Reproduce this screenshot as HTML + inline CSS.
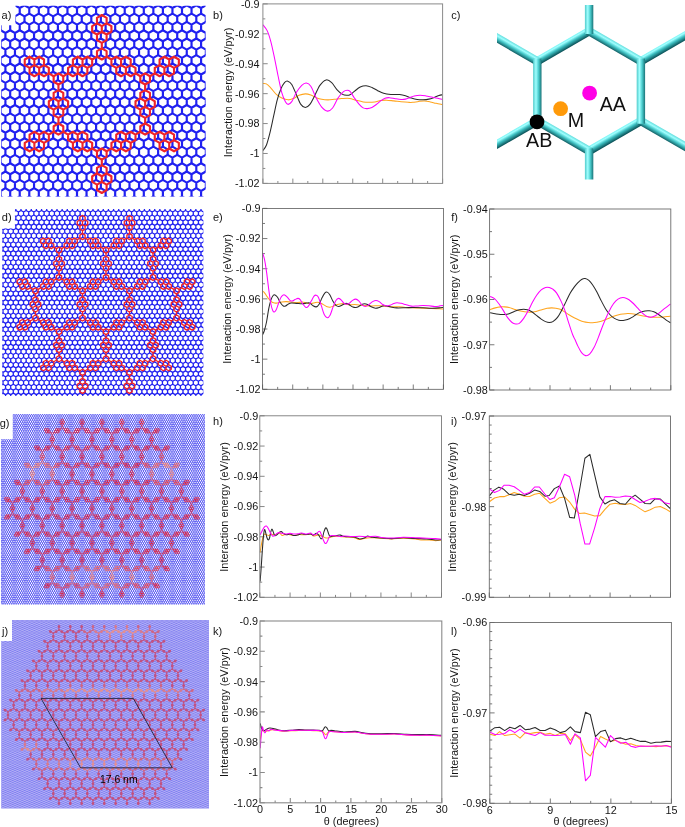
<!DOCTYPE html>
<html><head><meta charset="utf-8"><title>Figure</title>
<style>html,body{margin:0;padding:0;background:#fff}svg{display:block}</style></head>
<body><svg width="685" height="827" viewBox="0 0 685 827">
<rect width="685" height="827" fill="#fff"/>
<defs><clipPath id="cla"><path d="M15.5 5.8H205.6V196.45H1.2V25.2H15.5Z"/></clipPath><path id="ra" d="M-4.772 -2.771l4.772 -2.771l4.772 2.771l4.772 -2.771l4.772 2.771l4.772 -2.771l4.772 2.771l4.772 -2.771l4.772 2.771l4.772 -2.771l4.772 2.771l4.772 -2.771l4.772 2.771l4.772 -2.771l4.772 2.771l4.772 -2.771l4.772 2.771l4.772 -2.771l4.772 2.771l4.772 -2.771l4.772 2.771l4.772 -2.771l4.772 2.771l4.772 -2.771l4.772 2.771l4.772 -2.771l4.772 2.771l4.772 -2.771l4.772 2.771l4.772 -2.771l4.772 2.771l4.772 -2.771l4.772 2.771l4.772 -2.771l4.772 2.771l4.772 -2.771l4.772 2.771l4.772 -2.771l4.772 2.771l4.772 -2.771l4.772 2.771l4.772 -2.771l4.772 2.771l4.772 -2.771l4.772 2.771l4.772 -2.771l4.772 2.771l4.772 -2.771l4.772 2.771l4.772 -2.771l4.772 2.771M-4.772 -2.771v5.543M4.772 -2.771v5.543M14.317 -2.771v5.543M23.862 -2.771v5.543M33.407 -2.771v5.543M42.953 -2.771v5.543M52.497 -2.771v5.543M62.042 -2.771v5.543M71.588 -2.771v5.543M81.133 -2.771v5.543M90.678 -2.771v5.543M100.223 -2.771v5.543M109.767 -2.771v5.543M119.312 -2.771v5.543M128.857 -2.771v5.543M138.403 -2.771v5.543M147.947 -2.771v5.543M157.492 -2.771v5.543M167.037 -2.771v5.543M176.582 -2.771v5.543M186.127 -2.771v5.543M195.672 -2.771v5.543M205.218 -2.771v5.543M214.762 -2.771v5.543M224.307 -2.771v5.543M233.852 -2.771v5.543"/><path id="ea" d="M0 -5.56V-11.12M0 -38.92V-44.48M-9.63 -27.8L-9.63 -22.24M-9.63 -22.24L-4.82 -19.46M-4.82 -36.14L-4.82 -30.58M-4.82 -30.58L-9.63 -27.8M-4.82 -30.58L0 -27.8M-4.82 -19.46L-4.82 -13.9M-4.82 -13.9L0 -11.12M0 -38.92L-4.82 -36.14M0 -27.8L4.82 -30.58M0 -22.24L-4.82 -19.46M0 -22.24L0 -27.8M0 -11.12L4.82 -13.9M4.82 -36.14L0 -38.92M4.82 -30.58L4.82 -36.14M4.82 -19.46L0 -22.24M4.82 -19.46L9.63 -22.24M4.82 -13.9L4.82 -19.46M9.63 -27.8L4.82 -30.58M9.63 -22.24L9.63 -27.8"/><path id="oa" d="M0 -5.56V-11.12M-9.63 -27.8L-9.63 -22.24M-9.63 -22.24L-4.82 -19.46M-4.82 -36.14L-4.82 -30.58M-4.82 -30.58L-9.63 -27.8M-4.82 -30.58L0 -27.8M-4.82 -19.46L-4.82 -13.9M-4.82 -13.9L0 -11.12M0 -38.92L-4.82 -36.14M0 -27.8L4.82 -30.58M0 -22.24L-4.82 -19.46M0 -22.24L0 -27.8M0 -11.12L4.82 -13.9M4.82 -36.14L0 -38.92M4.82 -30.58L4.82 -36.14M4.82 -19.46L0 -22.24M4.82 -19.46L9.63 -22.24M4.82 -13.9L4.82 -19.46M9.63 -27.8L4.82 -30.58M9.63 -22.24L9.63 -27.8"/><path id="na" d="M4.82 -2.78L0 -5.56L-4.82 -2.78L-4.82 2.78L0 5.56L4.82 2.78Z"/><clipPath id="cld"><path d="M14.9 208.9H203.3V395.9H2.2V228.6H14.9Z"/></clipPath><path id="rd" d="M-2.571 -1.485l2.571 -1.485l2.571 1.485l2.571 -1.485l2.571 1.485l2.571 -1.485l2.571 1.485l2.571 -1.485l2.571 1.485l2.571 -1.485l2.571 1.485l2.571 -1.485l2.571 1.485l2.571 -1.485l2.571 1.485l2.571 -1.485l2.571 1.485l2.571 -1.485l2.571 1.485l2.571 -1.485l2.571 1.485l2.571 -1.485l2.571 1.485l2.571 -1.485l2.571 1.485l2.571 -1.485l2.571 1.485l2.571 -1.485l2.571 1.485l2.571 -1.485l2.571 1.485l2.571 -1.485l2.571 1.485l2.571 -1.485l2.571 1.485l2.571 -1.485l2.571 1.485l2.571 -1.485l2.571 1.485l2.571 -1.485l2.571 1.485l2.571 -1.485l2.571 1.485l2.571 -1.485l2.571 1.485l2.571 -1.485l2.571 1.485l2.571 -1.485l2.571 1.485l2.571 -1.485l2.571 1.485l2.571 -1.485l2.571 1.485l2.571 -1.485l2.571 1.485l2.571 -1.485l2.571 1.485l2.571 -1.485l2.571 1.485l2.571 -1.485l2.571 1.485l2.571 -1.485l2.571 1.485l2.571 -1.485l2.571 1.485l2.571 -1.485l2.571 1.485l2.571 -1.485l2.571 1.485l2.571 -1.485l2.571 1.485l2.571 -1.485l2.571 1.485l2.571 -1.485l2.571 1.485l2.571 -1.485l2.571 1.485l2.571 -1.485l2.571 1.485l2.571 -1.485l2.571 1.485l2.571 -1.485l2.571 1.485l2.571 -1.485l2.571 1.485l2.571 -1.485l2.571 1.485M-2.571 -1.485v2.969M2.571 -1.485v2.969M7.714 -1.485v2.969M12.857 -1.485v2.969M18 -1.485v2.969M23.143 -1.485v2.969M28.286 -1.485v2.969M33.429 -1.485v2.969M38.572 -1.485v2.969M43.715 -1.485v2.969M48.858 -1.485v2.969M54.002 -1.485v2.969M59.144 -1.485v2.969M64.287 -1.485v2.969M69.43 -1.485v2.969M74.573 -1.485v2.969M79.716 -1.485v2.969M84.859 -1.485v2.969M90.002 -1.485v2.969M95.145 -1.485v2.969M100.288 -1.485v2.969M105.431 -1.485v2.969M110.575 -1.485v2.969M115.718 -1.485v2.969M120.86 -1.485v2.969M126.003 -1.485v2.969M131.147 -1.485v2.969M136.29 -1.485v2.969M141.433 -1.485v2.969M146.576 -1.485v2.969M151.719 -1.485v2.969M156.862 -1.485v2.969M162.005 -1.485v2.969M167.148 -1.485v2.969M172.291 -1.485v2.969M177.434 -1.485v2.969M182.577 -1.485v2.969M187.72 -1.485v2.969M192.863 -1.485v2.969M198.006 -1.485v2.969M203.149 -1.485v2.969M208.292 -1.485v2.969M213.435 -1.485v2.969M218.578 -1.485v2.969"/><path id="ed" d="M0 -3.02V-6.03M0 -21.11V-24.12M-5.22 -15.07L-5.22 -12.06M-5.22 -12.06L-2.61 -10.55M-2.61 -19.6L-2.61 -16.58M-2.61 -16.58L-5.22 -15.07M-2.61 -16.58L0 -15.07M-2.61 -10.55L-2.61 -7.54M-2.61 -7.54L0 -6.03M0 -21.11L-2.61 -19.6M0 -15.07L2.61 -16.58M0 -12.06L-2.61 -10.55M0 -12.06L0 -15.07M0 -6.03L2.61 -7.54M2.61 -19.6L0 -21.11M2.61 -16.58L2.61 -19.6M2.61 -10.55L0 -12.06M2.61 -10.55L5.22 -12.06M2.61 -7.54L2.61 -10.55M5.22 -15.07L2.61 -16.58M5.22 -12.06L5.22 -15.07"/><path id="od" d="M0 -3.02V-6.03M-5.22 -15.07L-5.22 -12.06M-5.22 -12.06L-2.61 -10.55M-2.61 -19.6L-2.61 -16.58M-2.61 -16.58L-5.22 -15.07M-2.61 -16.58L0 -15.07M-2.61 -10.55L-2.61 -7.54M-2.61 -7.54L0 -6.03M0 -21.11L-2.61 -19.6M0 -15.07L2.61 -16.58M0 -12.06L-2.61 -10.55M0 -12.06L0 -15.07M0 -6.03L2.61 -7.54M2.61 -19.6L0 -21.11M2.61 -16.58L2.61 -19.6M2.61 -10.55L0 -12.06M2.61 -10.55L5.22 -12.06M2.61 -7.54L2.61 -10.55M5.22 -15.07L2.61 -16.58M5.22 -12.06L5.22 -15.07"/><path id="nd" d="M2.61 -1.51L0 -3.02L-2.61 -1.51L-2.61 1.51L0 3.02L2.61 1.51Z"/><clipPath id="clg"><path d="M12.8 414H205V604.4H1V439.2H12.8Z"/></clipPath><path id="rg" d="M-1.097 -0.634l1.097 -0.634l1.097 0.634l1.097 -0.634l1.097 0.634l1.097 -0.634l1.097 0.634l1.097 -0.634l1.097 0.634l1.097 -0.634l1.097 0.634l1.097 -0.634l1.097 0.634l1.097 -0.634l1.097 0.634l1.097 -0.634l1.097 0.634l1.097 -0.634l1.097 0.634l1.097 -0.634l1.097 0.634l1.097 -0.634l1.097 0.634l1.097 -0.634l1.097 0.634l1.097 -0.634l1.097 0.634l1.097 -0.634l1.097 0.634l1.097 -0.634l1.097 0.634l1.097 -0.634l1.097 0.634l1.097 -0.634l1.097 0.634l1.097 -0.634l1.097 0.634l1.097 -0.634l1.097 0.634l1.097 -0.634l1.097 0.634l1.097 -0.634l1.097 0.634l1.097 -0.634l1.097 0.634l1.097 -0.634l1.097 0.634l1.097 -0.634l1.097 0.634l1.097 -0.634l1.097 0.634l1.097 -0.634l1.097 0.634l1.097 -0.634l1.097 0.634l1.097 -0.634l1.097 0.634l1.097 -0.634l1.097 0.634l1.097 -0.634l1.097 0.634l1.097 -0.634l1.097 0.634l1.097 -0.634l1.097 0.634l1.097 -0.634l1.097 0.634l1.097 -0.634l1.097 0.634l1.097 -0.634l1.097 0.634l1.097 -0.634l1.097 0.634l1.097 -0.634l1.097 0.634l1.097 -0.634l1.097 0.634l1.097 -0.634l1.097 0.634l1.097 -0.634l1.097 0.634l1.097 -0.634l1.097 0.634l1.097 -0.634l1.097 0.634l1.097 -0.634l1.097 0.634l1.097 -0.634l1.097 0.634l1.097 -0.634l1.097 0.634l1.097 -0.634l1.097 0.634l1.097 -0.634l1.097 0.634l1.097 -0.634l1.097 0.634l1.097 -0.634l1.097 0.634l1.097 -0.634l1.097 0.634l1.097 -0.634l1.097 0.634l1.097 -0.634l1.097 0.634l1.097 -0.634l1.097 0.634l1.097 -0.634l1.097 0.634l1.097 -0.634l1.097 0.634l1.097 -0.634l1.097 0.634l1.097 -0.634l1.097 0.634l1.097 -0.634l1.097 0.634l1.097 -0.634l1.097 0.634l1.097 -0.634l1.097 0.634l1.097 -0.634l1.097 0.634l1.097 -0.634l1.097 0.634l1.097 -0.634l1.097 0.634l1.097 -0.634l1.097 0.634l1.097 -0.634l1.097 0.634l1.097 -0.634l1.097 0.634l1.097 -0.634l1.097 0.634l1.097 -0.634l1.097 0.634l1.097 -0.634l1.097 0.634l1.097 -0.634l1.097 0.634l1.097 -0.634l1.097 0.634l1.097 -0.634l1.097 0.634l1.097 -0.634l1.097 0.634l1.097 -0.634l1.097 0.634l1.097 -0.634l1.097 0.634l1.097 -0.634l1.097 0.634l1.097 -0.634l1.097 0.634l1.097 -0.634l1.097 0.634l1.097 -0.634l1.097 0.634l1.097 -0.634l1.097 0.634l1.097 -0.634l1.097 0.634l1.097 -0.634l1.097 0.634l1.097 -0.634l1.097 0.634l1.097 -0.634l1.097 0.634l1.097 -0.634l1.097 0.634l1.097 -0.634l1.097 0.634l1.097 -0.634l1.097 0.634l1.097 -0.634l1.097 0.634l1.097 -0.634l1.097 0.634l1.097 -0.634l1.097 0.634l1.097 -0.634l1.097 0.634l1.097 -0.634l1.097 0.634l1.097 -0.634l1.097 0.634l1.097 -0.634l1.097 0.634l1.097 -0.634l1.097 0.634l1.097 -0.634l1.097 0.634M-1.097 -0.634v1.267M1.097 -0.634v1.267M3.292 -0.634v1.267M5.487 -0.634v1.267M7.682 -0.634v1.267M9.877 -0.634v1.267M12.072 -0.634v1.267M14.267 -0.634v1.267M16.462 -0.634v1.267M18.657 -0.634v1.267M20.852 -0.634v1.267M23.047 -0.634v1.267M25.242 -0.634v1.267M27.437 -0.634v1.267M29.632 -0.634v1.267M31.827 -0.634v1.267M34.023 -0.634v1.267M36.218 -0.634v1.267M38.413 -0.634v1.267M40.608 -0.634v1.267M42.803 -0.634v1.267M44.998 -0.634v1.267M47.193 -0.634v1.267M49.388 -0.634v1.267M51.582 -0.634v1.267M53.777 -0.634v1.267M55.972 -0.634v1.267M58.167 -0.634v1.267M60.362 -0.634v1.267M62.557 -0.634v1.267M64.752 -0.634v1.267M66.948 -0.634v1.267M69.142 -0.634v1.267M71.337 -0.634v1.267M73.532 -0.634v1.267M75.727 -0.634v1.267M77.922 -0.634v1.267M80.117 -0.634v1.267M82.312 -0.634v1.267M84.507 -0.634v1.267M86.703 -0.634v1.267M88.897 -0.634v1.267M91.093 -0.634v1.267M93.287 -0.634v1.267M95.483 -0.634v1.267M97.677 -0.634v1.267M99.873 -0.634v1.267M102.067 -0.634v1.267M104.262 -0.634v1.267M106.457 -0.634v1.267M108.652 -0.634v1.267M110.847 -0.634v1.267M113.042 -0.634v1.267M115.237 -0.634v1.267M117.432 -0.634v1.267M119.627 -0.634v1.267M121.822 -0.634v1.267M124.017 -0.634v1.267M126.212 -0.634v1.267M128.407 -0.634v1.267M130.602 -0.634v1.267M132.797 -0.634v1.267M134.993 -0.634v1.267M137.188 -0.634v1.267M139.382 -0.634v1.267M141.577 -0.634v1.267M143.772 -0.634v1.267M145.968 -0.634v1.267M148.162 -0.634v1.267M150.357 -0.634v1.267M152.552 -0.634v1.267M154.748 -0.634v1.267M156.942 -0.634v1.267M159.137 -0.634v1.267M161.332 -0.634v1.267M163.528 -0.634v1.267M165.722 -0.634v1.267M167.917 -0.634v1.267M170.112 -0.634v1.267M172.308 -0.634v1.267M174.502 -0.634v1.267M176.697 -0.634v1.267M178.892 -0.634v1.267M181.087 -0.634v1.267M183.282 -0.634v1.267M185.477 -0.634v1.267M187.672 -0.634v1.267M189.867 -0.634v1.267M192.062 -0.634v1.267M194.257 -0.634v1.267M196.452 -0.634v1.267M198.647 -0.634v1.267M200.843 -0.634v1.267M203.037 -0.634v1.267M205.232 -0.634v1.267M207.427 -0.634v1.267M209.622 -0.634v1.267"/><path id="eg" d="M0 -1.27V-2.55M0 -8.92V-10.2M-2.21 -6.38L-2.21 -5.1M-2.21 -5.1L-1.1 -4.46M-1.1 -8.29L-1.1 -7.01M-1.1 -7.01L-2.21 -6.38M-1.1 -7.01L0 -6.38M-1.1 -4.46L0 -5.1M-1.1 -4.46L-1.1 -3.19M-1.1 -3.19L0 -2.55M0 -8.93L-1.1 -8.29M0 -6.38L1.1 -7.01M0 -5.1L-1.1 -4.46M0 -5.1L0 -6.38M0 -5.1L1.1 -4.46M0 -2.55L1.1 -3.19M1.1 -8.29L0 -8.93M1.1 -7.01L1.1 -8.29M1.1 -4.46L2.21 -5.1M1.1 -4.46L0 -5.1M1.1 -3.19L1.1 -4.46M2.21 -6.38L1.1 -7.01M2.21 -5.1L2.21 -6.38"/><path id="og" d="M0 -1.27V-2.55M-2.21 -6.38L-2.21 -5.1M-2.21 -5.1L-1.1 -4.46M-1.1 -8.29L-1.1 -7.01M-1.1 -7.01L-2.21 -6.38M-1.1 -7.01L0 -6.38M-1.1 -4.46L0 -5.1M-1.1 -4.46L-1.1 -3.19M-1.1 -3.19L0 -2.55M0 -8.93L-1.1 -8.29M0 -6.38L1.1 -7.01M0 -5.1L-1.1 -4.46M0 -5.1L0 -6.38M0 -5.1L1.1 -4.46M0 -2.55L1.1 -3.19M1.1 -8.29L0 -8.93M1.1 -7.01L1.1 -8.29M1.1 -4.46L2.21 -5.1M1.1 -4.46L0 -5.1M1.1 -3.19L1.1 -4.46M2.21 -6.38L1.1 -7.01M2.21 -5.1L2.21 -6.38"/><path id="ng" d="M1.1 -0.64L0 -1.27L-1.1 -0.64L-1.1 0.64L0 1.27L1.1 0.64Z"/><clipPath id="clj"><path d="M12 620H209V808.6H1.2V641H12Z"/></clipPath><path id="rj" d="M-0.631 -0.364l0.631 -0.364l0.631 0.364l0.631 -0.364l0.631 0.364l0.631 -0.364l0.631 0.364l0.631 -0.364l0.631 0.364l0.631 -0.364l0.631 0.364l0.631 -0.364l0.631 0.364l0.631 -0.364l0.631 0.364l0.631 -0.364l0.631 0.364l0.631 -0.364l0.631 0.364l0.631 -0.364l0.631 0.364l0.631 -0.364l0.631 0.364l0.631 -0.364l0.631 0.364l0.631 -0.364l0.631 0.364l0.631 -0.364l0.631 0.364l0.631 -0.364l0.631 0.364l0.631 -0.364l0.631 0.364l0.631 -0.364l0.631 0.364l0.631 -0.364l0.631 0.364l0.631 -0.364l0.631 0.364l0.631 -0.364l0.631 0.364l0.631 -0.364l0.631 0.364l0.631 -0.364l0.631 0.364l0.631 -0.364l0.631 0.364l0.631 -0.364l0.631 0.364l0.631 -0.364l0.631 0.364l0.631 -0.364l0.631 0.364l0.631 -0.364l0.631 0.364l0.631 -0.364l0.631 0.364l0.631 -0.364l0.631 0.364l0.631 -0.364l0.631 0.364l0.631 -0.364l0.631 0.364l0.631 -0.364l0.631 0.364l0.631 -0.364l0.631 0.364l0.631 -0.364l0.631 0.364l0.631 -0.364l0.631 0.364l0.631 -0.364l0.631 0.364l0.631 -0.364l0.631 0.364l0.631 -0.364l0.631 0.364l0.631 -0.364l0.631 0.364l0.631 -0.364l0.631 0.364l0.631 -0.364l0.631 0.364l0.631 -0.364l0.631 0.364l0.631 -0.364l0.631 0.364l0.631 -0.364l0.631 0.364l0.631 -0.364l0.631 0.364l0.631 -0.364l0.631 0.364l0.631 -0.364l0.631 0.364l0.631 -0.364l0.631 0.364l0.631 -0.364l0.631 0.364l0.631 -0.364l0.631 0.364l0.631 -0.364l0.631 0.364l0.631 -0.364l0.631 0.364l0.631 -0.364l0.631 0.364l0.631 -0.364l0.631 0.364l0.631 -0.364l0.631 0.364l0.631 -0.364l0.631 0.364l0.631 -0.364l0.631 0.364l0.631 -0.364l0.631 0.364l0.631 -0.364l0.631 0.364l0.631 -0.364l0.631 0.364l0.631 -0.364l0.631 0.364l0.631 -0.364l0.631 0.364l0.631 -0.364l0.631 0.364l0.631 -0.364l0.631 0.364l0.631 -0.364l0.631 0.364l0.631 -0.364l0.631 0.364l0.631 -0.364l0.631 0.364l0.631 -0.364l0.631 0.364l0.631 -0.364l0.631 0.364l0.631 -0.364l0.631 0.364l0.631 -0.364l0.631 0.364l0.631 -0.364l0.631 0.364l0.631 -0.364l0.631 0.364l0.631 -0.364l0.631 0.364l0.631 -0.364l0.631 0.364l0.631 -0.364l0.631 0.364l0.631 -0.364l0.631 0.364l0.631 -0.364l0.631 0.364l0.631 -0.364l0.631 0.364l0.631 -0.364l0.631 0.364l0.631 -0.364l0.631 0.364l0.631 -0.364l0.631 0.364l0.631 -0.364l0.631 0.364l0.631 -0.364l0.631 0.364l0.631 -0.364l0.631 0.364l0.631 -0.364l0.631 0.364l0.631 -0.364l0.631 0.364l0.631 -0.364l0.631 0.364l0.631 -0.364l0.631 0.364l0.631 -0.364l0.631 0.364l0.631 -0.364l0.631 0.364l0.631 -0.364l0.631 0.364l0.631 -0.364l0.631 0.364l0.631 -0.364l0.631 0.364l0.631 -0.364l0.631 0.364l0.631 -0.364l0.631 0.364l0.631 -0.364l0.631 0.364l0.631 -0.364l0.631 0.364l0.631 -0.364l0.631 0.364l0.631 -0.364l0.631 0.364l0.631 -0.364l0.631 0.364l0.631 -0.364l0.631 0.364l0.631 -0.364l0.631 0.364l0.631 -0.364l0.631 0.364l0.631 -0.364l0.631 0.364l0.631 -0.364l0.631 0.364l0.631 -0.364l0.631 0.364l0.631 -0.364l0.631 0.364l0.631 -0.364l0.631 0.364l0.631 -0.364l0.631 0.364l0.631 -0.364l0.631 0.364l0.631 -0.364l0.631 0.364l0.631 -0.364l0.631 0.364l0.631 -0.364l0.631 0.364l0.631 -0.364l0.631 0.364l0.631 -0.364l0.631 0.364l0.631 -0.364l0.631 0.364l0.631 -0.364l0.631 0.364l0.631 -0.364l0.631 0.364l0.631 -0.364l0.631 0.364l0.631 -0.364l0.631 0.364l0.631 -0.364l0.631 0.364l0.631 -0.364l0.631 0.364l0.631 -0.364l0.631 0.364l0.631 -0.364l0.631 0.364l0.631 -0.364l0.631 0.364l0.631 -0.364l0.631 0.364l0.631 -0.364l0.631 0.364l0.631 -0.364l0.631 0.364l0.631 -0.364l0.631 0.364l0.631 -0.364l0.631 0.364l0.631 -0.364l0.631 0.364l0.631 -0.364l0.631 0.364l0.631 -0.364l0.631 0.364l0.631 -0.364l0.631 0.364l0.631 -0.364l0.631 0.364l0.631 -0.364l0.631 0.364l0.631 -0.364l0.631 0.364l0.631 -0.364l0.631 0.364l0.631 -0.364l0.631 0.364l0.631 -0.364l0.631 0.364l0.631 -0.364l0.631 0.364l0.631 -0.364l0.631 0.364l0.631 -0.364l0.631 0.364l0.631 -0.364l0.631 0.364l0.631 -0.364l0.631 0.364l0.631 -0.364l0.631 0.364l0.631 -0.364l0.631 0.364l0.631 -0.364l0.631 0.364l0.631 -0.364l0.631 0.364l0.631 -0.364l0.631 0.364l0.631 -0.364l0.631 0.364l0.631 -0.364l0.631 0.364l0.631 -0.364l0.631 0.364l0.631 -0.364l0.631 0.364l0.631 -0.364l0.631 0.364l0.631 -0.364l0.631 0.364l0.631 -0.364l0.631 0.364l0.631 -0.364l0.631 0.364l0.631 -0.364l0.631 0.364l0.631 -0.364l0.631 0.364l0.631 -0.364l0.631 0.364l0.631 -0.364l0.631 0.364l0.631 -0.364l0.631 0.364l0.631 -0.364l0.631 0.364l0.631 -0.364l0.631 0.364l0.631 -0.364l0.631 0.364l0.631 -0.364l0.631 0.364M-0.631 -0.364v0.729M0.631 -0.364v0.729M1.893 -0.364v0.729M3.155 -0.364v0.729M4.417 -0.364v0.729M5.679 -0.364v0.729M6.941 -0.364v0.729M8.203 -0.364v0.729M9.465 -0.364v0.729M10.727 -0.364v0.729M11.989 -0.364v0.729M13.251 -0.364v0.729M14.513 -0.364v0.729M15.775 -0.364v0.729M17.037 -0.364v0.729M18.299 -0.364v0.729M19.561 -0.364v0.729M20.823 -0.364v0.729M22.085 -0.364v0.729M23.347 -0.364v0.729M24.609 -0.364v0.729M25.871 -0.364v0.729M27.133 -0.364v0.729M28.395 -0.364v0.729M29.657 -0.364v0.729M30.919 -0.364v0.729M32.181 -0.364v0.729M33.443 -0.364v0.729M34.705 -0.364v0.729M35.967 -0.364v0.729M37.229 -0.364v0.729M38.491 -0.364v0.729M39.753 -0.364v0.729M41.015 -0.364v0.729M42.277 -0.364v0.729M43.539 -0.364v0.729M44.801 -0.364v0.729M46.063 -0.364v0.729M47.325 -0.364v0.729M48.587 -0.364v0.729M49.849 -0.364v0.729M51.111 -0.364v0.729M52.373 -0.364v0.729M53.635 -0.364v0.729M54.897 -0.364v0.729M56.159 -0.364v0.729M57.421 -0.364v0.729M58.683 -0.364v0.729M59.945 -0.364v0.729M61.207 -0.364v0.729M62.469 -0.364v0.729M63.731 -0.364v0.729M64.993 -0.364v0.729M66.255 -0.364v0.729M67.517 -0.364v0.729M68.779 -0.364v0.729M70.041 -0.364v0.729M71.303 -0.364v0.729M72.565 -0.364v0.729M73.827 -0.364v0.729M75.089 -0.364v0.729M76.351 -0.364v0.729M77.613 -0.364v0.729M78.875 -0.364v0.729M80.137 -0.364v0.729M81.399 -0.364v0.729M82.661 -0.364v0.729M83.923 -0.364v0.729M85.185 -0.364v0.729M86.447 -0.364v0.729M87.709 -0.364v0.729M88.971 -0.364v0.729M90.233 -0.364v0.729M91.495 -0.364v0.729M92.757 -0.364v0.729M94.019 -0.364v0.729M95.281 -0.364v0.729M96.543 -0.364v0.729M97.805 -0.364v0.729M99.067 -0.364v0.729M100.329 -0.364v0.729M101.591 -0.364v0.729M102.853 -0.364v0.729M104.115 -0.364v0.729M105.377 -0.364v0.729M106.639 -0.364v0.729M107.901 -0.364v0.729M109.163 -0.364v0.729M110.425 -0.364v0.729M111.687 -0.364v0.729M112.949 -0.364v0.729M114.211 -0.364v0.729M115.473 -0.364v0.729M116.735 -0.364v0.729M117.997 -0.364v0.729M119.259 -0.364v0.729M120.521 -0.364v0.729M121.783 -0.364v0.729M123.045 -0.364v0.729M124.307 -0.364v0.729M125.569 -0.364v0.729M126.831 -0.364v0.729M128.093 -0.364v0.729M129.355 -0.364v0.729M130.617 -0.364v0.729M131.879 -0.364v0.729M133.141 -0.364v0.729M134.403 -0.364v0.729M135.665 -0.364v0.729M136.927 -0.364v0.729M138.189 -0.364v0.729M139.451 -0.364v0.729M140.713 -0.364v0.729M141.975 -0.364v0.729M143.237 -0.364v0.729M144.499 -0.364v0.729M145.761 -0.364v0.729M147.023 -0.364v0.729M148.285 -0.364v0.729M149.547 -0.364v0.729M150.809 -0.364v0.729M152.071 -0.364v0.729M153.333 -0.364v0.729M154.595 -0.364v0.729M155.857 -0.364v0.729M157.119 -0.364v0.729M158.381 -0.364v0.729M159.643 -0.364v0.729M160.905 -0.364v0.729M162.167 -0.364v0.729M163.429 -0.364v0.729M164.691 -0.364v0.729M165.953 -0.364v0.729M167.215 -0.364v0.729M168.477 -0.364v0.729M169.739 -0.364v0.729M171.001 -0.364v0.729M172.263 -0.364v0.729M173.525 -0.364v0.729M174.787 -0.364v0.729M176.049 -0.364v0.729M177.311 -0.364v0.729M178.573 -0.364v0.729M179.835 -0.364v0.729M181.097 -0.364v0.729M182.359 -0.364v0.729M183.621 -0.364v0.729M184.883 -0.364v0.729M186.145 -0.364v0.729M187.407 -0.364v0.729M188.669 -0.364v0.729M189.931 -0.364v0.729M191.193 -0.364v0.729M192.455 -0.364v0.729M193.717 -0.364v0.729M194.979 -0.364v0.729M196.241 -0.364v0.729M197.503 -0.364v0.729M198.765 -0.364v0.729M200.027 -0.364v0.729M201.289 -0.364v0.729M202.551 -0.364v0.729M203.813 -0.364v0.729M205.075 -0.364v0.729M206.337 -0.364v0.729M207.599 -0.364v0.729M208.861 -0.364v0.729M210.123 -0.364v0.729M211.385 -0.364v0.729"/><clipPath id="clc"><rect x="497" y="5" width="188" height="174.5"/></clipPath><linearGradient id="tg0" gradientUnits="userSpaceOnUse" x1="561.11" y1="42.61" x2="565.31" y2="49.89"><stop offset="0" stop-color="rgb(124, 244, 244)"/><stop offset="0.2" stop-color="rgb(160, 255, 255)"/><stop offset="0.5" stop-color="rgb(60, 190, 192)"/><stop offset="1" stop-color="rgb(8, 75, 82)"/></linearGradient><linearGradient id="tg1" gradientUnits="userSpaceOnUse" x1="533.11" y1="91.1" x2="541.51" y2="91.1"><stop offset="0" stop-color="rgb(83, 203, 203)"/><stop offset="0.34" stop-color="rgb(160, 255, 255)"/><stop offset="0.64" stop-color="rgb(76, 206, 207)"/><stop offset="1" stop-color="rgb(25, 115, 119)"/></linearGradient><linearGradient id="tg2" gradientUnits="userSpaceOnUse" x1="565.31" y1="132.31" x2="561.11" y2="139.59"><stop offset="0" stop-color="rgb(102, 222, 222)"/><stop offset="0.28" stop-color="rgb(160, 255, 255)"/><stop offset="0.58" stop-color="rgb(69, 199, 200)"/><stop offset="1" stop-color="rgb(17, 95, 101)"/></linearGradient><linearGradient id="tg3" gradientUnits="userSpaceOnUse" x1="612.89" y1="132.31" x2="617.09" y2="139.59"><stop offset="0" stop-color="rgb(124, 244, 244)"/><stop offset="0.2" stop-color="rgb(160, 255, 255)"/><stop offset="0.5" stop-color="rgb(60, 190, 192)"/><stop offset="1" stop-color="rgb(8, 75, 82)"/></linearGradient><linearGradient id="tg4" gradientUnits="userSpaceOnUse" x1="636.69" y1="91.1" x2="645.09" y2="91.1"><stop offset="0" stop-color="rgb(83, 203, 203)"/><stop offset="0.34" stop-color="rgb(160, 255, 255)"/><stop offset="0.64" stop-color="rgb(76, 206, 207)"/><stop offset="1" stop-color="rgb(25, 115, 119)"/></linearGradient><linearGradient id="tg5" gradientUnits="userSpaceOnUse" x1="617.09" y1="42.61" x2="612.89" y2="49.89"><stop offset="0" stop-color="rgb(102, 222, 222)"/><stop offset="0.28" stop-color="rgb(160, 255, 255)"/><stop offset="0.58" stop-color="rgb(69, 199, 200)"/><stop offset="1" stop-color="rgb(17, 95, 101)"/></linearGradient><linearGradient id="tg6" gradientUnits="userSpaceOnUse" x1="584.9" y1="-6.2" x2="593.3" y2="-6.2"><stop offset="0" stop-color="rgb(83, 203, 203)"/><stop offset="0.34" stop-color="rgb(160, 255, 255)"/><stop offset="0.64" stop-color="rgb(76, 206, 207)"/><stop offset="1" stop-color="rgb(25, 115, 119)"/></linearGradient><linearGradient id="tg7" gradientUnits="userSpaceOnUse" x1="506.94" y1="38.81" x2="502.74" y2="46.09"><stop offset="0" stop-color="rgb(102, 222, 222)"/><stop offset="0.28" stop-color="rgb(160, 255, 255)"/><stop offset="0.58" stop-color="rgb(69, 199, 200)"/><stop offset="1" stop-color="rgb(17, 95, 101)"/></linearGradient><linearGradient id="tg8" gradientUnits="userSpaceOnUse" x1="502.74" y1="136.11" x2="506.94" y2="143.39"><stop offset="0" stop-color="rgb(124, 244, 244)"/><stop offset="0.2" stop-color="rgb(160, 255, 255)"/><stop offset="0.5" stop-color="rgb(60, 190, 192)"/><stop offset="1" stop-color="rgb(8, 75, 82)"/></linearGradient><linearGradient id="tg9" gradientUnits="userSpaceOnUse" x1="584.9" y1="188.4" x2="593.3" y2="188.4"><stop offset="0" stop-color="rgb(83, 203, 203)"/><stop offset="0.34" stop-color="rgb(160, 255, 255)"/><stop offset="0.64" stop-color="rgb(76, 206, 207)"/><stop offset="1" stop-color="rgb(25, 115, 119)"/></linearGradient><linearGradient id="tg10" gradientUnits="userSpaceOnUse" x1="675.46" y1="136.11" x2="671.26" y2="143.39"><stop offset="0" stop-color="rgb(102, 222, 222)"/><stop offset="0.28" stop-color="rgb(160, 255, 255)"/><stop offset="0.58" stop-color="rgb(69, 199, 200)"/><stop offset="1" stop-color="rgb(17, 95, 101)"/></linearGradient><linearGradient id="tg11" gradientUnits="userSpaceOnUse" x1="671.26" y1="38.81" x2="675.46" y2="46.09"><stop offset="0" stop-color="rgb(124, 244, 244)"/><stop offset="0.2" stop-color="rgb(160, 255, 255)"/><stop offset="0.5" stop-color="rgb(60, 190, 192)"/><stop offset="1" stop-color="rgb(8, 75, 82)"/></linearGradient><clipPath id="pcb"><rect x="262.9" y="3.9" width="179.7" height="179.5"/></clipPath><clipPath id="pce"><rect x="262.6" y="208.4" width="180.8" height="180.9"/></clipPath><clipPath id="pcf"><rect x="489.6" y="209" width="181.2" height="181"/></clipPath><clipPath id="pch"><rect x="259.8" y="415.8" width="181.7" height="181.5"/></clipPath><clipPath id="pci"><rect x="489.3" y="416" width="181.2" height="181.3"/></clipPath><clipPath id="pck"><rect x="260" y="621" width="181.8" height="181.8"/></clipPath><clipPath id="pcl"><rect x="489.8" y="622.5" width="181.6" height="180.8"/></clipPath></defs>
<g clip-path="url(#cla)" fill="none" stroke="#2020f0" stroke-width="2.18" stroke-linejoin="round" opacity="1">
<use href="#ra" x="-4.135" y="-5.828"/>
<use href="#ra" x="0.638" y="2.486"/>
<use href="#ra" x="-4.135" y="10.8"/>
<use href="#ra" x="0.638" y="19.114"/>
<use href="#ra" x="-4.135" y="27.428"/>
<use href="#ra" x="0.638" y="35.742"/>
<use href="#ra" x="-4.135" y="44.056"/>
<use href="#ra" x="0.638" y="52.37"/>
<use href="#ra" x="-4.135" y="60.684"/>
<use href="#ra" x="0.638" y="68.998"/>
<use href="#ra" x="-4.135" y="77.312"/>
<use href="#ra" x="0.638" y="85.626"/>
<use href="#ra" x="-4.135" y="93.94"/>
<use href="#ra" x="0.638" y="102.254"/>
<use href="#ra" x="-4.135" y="110.568"/>
<use href="#ra" x="0.638" y="118.882"/>
<use href="#ra" x="-4.135" y="127.196"/>
<use href="#ra" x="0.638" y="135.51"/>
<use href="#ra" x="-4.135" y="143.824"/>
<use href="#ra" x="0.638" y="152.138"/>
<use href="#ra" x="-4.135" y="160.452"/>
<use href="#ra" x="0.638" y="168.766"/>
<use href="#ra" x="-4.135" y="177.08"/>
<use href="#ra" x="0.638" y="185.394"/>
<use href="#ra" x="-4.135" y="193.708"/>
<use href="#ra" x="0.638" y="202.022"/>
<use href="#ra" x="-4.135" y="210.336"/>
</g>
<g clip-path="url(#cla)"><g fill="none" stroke="#ee2428" stroke-width="2.15" stroke-linejoin="round" stroke-linecap="round" transform="translate(101.8 104) rotate(0.0)" >
<use href="#na" x="0" y="-50.04"/>
<use href="#na" x="-43.34" y="-25.02"/>
<use href="#na" x="-43.34" y="25.02"/>
<use href="#na" x="0" y="50.04"/>
<use href="#na" x="43.34" y="25.02"/>
<use href="#na" x="43.34" y="-25.02"/>
<use href="#ea" transform="translate(0 -50.04) rotate(-120)"/>
<use href="#ea" transform="translate(0 -50.04) rotate(-240)"/>
<use href="#ea" transform="translate(-43.34 25.02) rotate(0)"/>
<use href="#ea" transform="translate(-43.34 25.02) rotate(-240)"/>
<use href="#ea" transform="translate(43.34 25.02) rotate(0)"/>
<use href="#ea" transform="translate(43.34 25.02) rotate(-120)"/>
<use href="#oa" transform="translate(0 -50.04) rotate(0)"/>
<use href="#oa" transform="translate(-43.34 -25.02) rotate(-60)"/>
<use href="#oa" transform="translate(-43.34 25.02) rotate(-120)"/>
<use href="#oa" transform="translate(0 50.04) rotate(-180)"/>
<use href="#oa" transform="translate(43.34 25.02) rotate(-240)"/>
<use href="#oa" transform="translate(43.34 -25.02) rotate(60)"/>
</g></g>
<g clip-path="url(#cld)" fill="none" stroke="#2020f0" stroke-width="1.3" stroke-linejoin="round" opacity="1">
<use href="#rd" x="-2.143" y="200.138"/>
<use href="#rd" x="0.428" y="204.592"/>
<use href="#rd" x="-2.143" y="209.046"/>
<use href="#rd" x="0.428" y="213.5"/>
<use href="#rd" x="-2.143" y="217.954"/>
<use href="#rd" x="0.428" y="222.408"/>
<use href="#rd" x="-2.143" y="226.862"/>
<use href="#rd" x="0.428" y="231.316"/>
<use href="#rd" x="-2.143" y="235.77"/>
<use href="#rd" x="0.428" y="240.224"/>
<use href="#rd" x="-2.143" y="244.678"/>
<use href="#rd" x="0.428" y="249.132"/>
<use href="#rd" x="-2.143" y="253.586"/>
<use href="#rd" x="0.428" y="258.04"/>
<use href="#rd" x="-2.143" y="262.494"/>
<use href="#rd" x="0.428" y="266.948"/>
<use href="#rd" x="-2.143" y="271.402"/>
<use href="#rd" x="0.428" y="275.856"/>
<use href="#rd" x="-2.143" y="280.31"/>
<use href="#rd" x="0.428" y="284.763"/>
<use href="#rd" x="-2.143" y="289.217"/>
<use href="#rd" x="0.428" y="293.671"/>
<use href="#rd" x="-2.143" y="298.125"/>
<use href="#rd" x="0.428" y="302.579"/>
<use href="#rd" x="-2.143" y="307.033"/>
<use href="#rd" x="0.428" y="311.487"/>
<use href="#rd" x="-2.143" y="315.941"/>
<use href="#rd" x="0.428" y="320.395"/>
<use href="#rd" x="-2.143" y="324.849"/>
<use href="#rd" x="0.428" y="329.303"/>
<use href="#rd" x="-2.143" y="333.757"/>
<use href="#rd" x="0.428" y="338.211"/>
<use href="#rd" x="-2.143" y="342.665"/>
<use href="#rd" x="0.428" y="347.119"/>
<use href="#rd" x="-2.143" y="351.573"/>
<use href="#rd" x="0.428" y="356.027"/>
<use href="#rd" x="-2.143" y="360.481"/>
<use href="#rd" x="0.428" y="364.935"/>
<use href="#rd" x="-2.143" y="369.389"/>
<use href="#rd" x="0.428" y="373.843"/>
<use href="#rd" x="-2.143" y="378.297"/>
<use href="#rd" x="0.428" y="382.751"/>
<use href="#rd" x="-2.143" y="387.205"/>
<use href="#rd" x="0.428" y="391.659"/>
<use href="#rd" x="-2.143" y="396.113"/>
<use href="#rd" x="0.428" y="400.567"/>
</g>
<g clip-path="url(#cld)"><g fill="none" stroke="#ee2428" stroke-width="1.35" stroke-linejoin="round" stroke-linecap="round" transform="translate(106 304.45) rotate(0.0)" >
<use href="#nd" x="-47" y="-27.13"/>
<use href="#nd" x="-70.5" y="-13.57"/>
<use href="#nd" x="-70.5" y="13.57"/>
<use href="#nd" x="-47" y="27.14"/>
<use href="#nd" x="-23.5" y="13.57"/>
<use href="#nd" x="-23.5" y="-13.57"/>
<use href="#nd" x="-47" y="54.27"/>
<use href="#nd" x="-23.5" y="67.84"/>
<use href="#nd" x="0" y="54.27"/>
<use href="#nd" x="0" y="27.14"/>
<use href="#nd" x="-23.5" y="-67.84"/>
<use href="#nd" x="-47" y="-54.27"/>
<use href="#nd" x="0" y="-27.13"/>
<use href="#nd" x="0" y="-54.27"/>
<use href="#nd" x="23.5" y="13.57"/>
<use href="#nd" x="23.5" y="-13.57"/>
<use href="#nd" x="23.5" y="67.84"/>
<use href="#nd" x="47" y="54.27"/>
<use href="#nd" x="47" y="27.14"/>
<use href="#nd" x="23.5" y="-67.84"/>
<use href="#nd" x="47" y="-27.14"/>
<use href="#nd" x="47" y="-54.27"/>
<use href="#nd" x="70.5" y="13.57"/>
<use href="#nd" x="70.5" y="-13.57"/>
<use href="#ed" transform="translate(-47 -27.13) rotate(0)"/>
<use href="#ed" transform="translate(-47 -27.13) rotate(-120)"/>
<use href="#ed" transform="translate(-47 -27.13) rotate(-240)"/>
<use href="#ed" transform="translate(-70.5 13.57) rotate(0)"/>
<use href="#ed" transform="translate(-70.5 13.57) rotate(-240)"/>
<use href="#ed" transform="translate(-23.5 13.57) rotate(0)"/>
<use href="#ed" transform="translate(-23.5 13.57) rotate(-120)"/>
<use href="#ed" transform="translate(-23.5 13.57) rotate(-240)"/>
<use href="#ed" transform="translate(-47 54.27) rotate(0)"/>
<use href="#ed" transform="translate(-47 54.27) rotate(-240)"/>
<use href="#ed" transform="translate(0 54.27) rotate(0)"/>
<use href="#ed" transform="translate(0 54.27) rotate(-120)"/>
<use href="#ed" transform="translate(0 54.27) rotate(-240)"/>
<use href="#ed" transform="translate(-23.5 -67.84) rotate(-120)"/>
<use href="#ed" transform="translate(-23.5 -67.84) rotate(-240)"/>
<use href="#ed" transform="translate(0 -27.13) rotate(0)"/>
<use href="#ed" transform="translate(0 -27.13) rotate(-120)"/>
<use href="#ed" transform="translate(0 -27.13) rotate(-240)"/>
<use href="#ed" transform="translate(23.5 13.57) rotate(0)"/>
<use href="#ed" transform="translate(23.5 13.57) rotate(-120)"/>
<use href="#ed" transform="translate(23.5 13.57) rotate(-240)"/>
<use href="#ed" transform="translate(47 54.27) rotate(0)"/>
<use href="#ed" transform="translate(47 54.27) rotate(-120)"/>
<use href="#ed" transform="translate(23.5 -67.84) rotate(-120)"/>
<use href="#ed" transform="translate(23.5 -67.84) rotate(-240)"/>
<use href="#ed" transform="translate(47 -27.14) rotate(0)"/>
<use href="#ed" transform="translate(47 -27.14) rotate(-120)"/>
<use href="#ed" transform="translate(47 -27.14) rotate(-240)"/>
<use href="#ed" transform="translate(70.5 13.57) rotate(0)"/>
<use href="#ed" transform="translate(70.5 13.57) rotate(-120)"/>
<use href="#od" transform="translate(-70.5 -13.57) rotate(-60)"/>
<use href="#od" transform="translate(-70.5 13.57) rotate(-120)"/>
<use href="#od" transform="translate(-47 54.27) rotate(-120)"/>
<use href="#od" transform="translate(-23.5 67.84) rotate(-180)"/>
<use href="#od" transform="translate(-23.5 -67.84) rotate(0)"/>
<use href="#od" transform="translate(-47 -54.27) rotate(-60)"/>
<use href="#od" transform="translate(23.5 67.84) rotate(-180)"/>
<use href="#od" transform="translate(47 54.27) rotate(-240)"/>
<use href="#od" transform="translate(23.5 -67.84) rotate(0)"/>
<use href="#od" transform="translate(47 -54.27) rotate(60)"/>
<use href="#od" transform="translate(70.5 13.57) rotate(-240)"/>
<use href="#od" transform="translate(70.5 -13.57) rotate(60)"/>
</g></g>
<g clip-path="url(#clg)" fill="none" stroke="#2828ee" stroke-width="0.685" stroke-linejoin="round" opacity="1">
<use href="#rg" x="-0.292" y="410.297"/>
<use href="#rg" x="0.805" y="412.198"/>
<use href="#rg" x="-0.292" y="414.099"/>
<use href="#rg" x="0.805" y="416"/>
<use href="#rg" x="-0.292" y="417.901"/>
<use href="#rg" x="0.805" y="419.802"/>
<use href="#rg" x="-0.292" y="421.703"/>
<use href="#rg" x="0.805" y="423.604"/>
<use href="#rg" x="-0.292" y="425.505"/>
<use href="#rg" x="0.805" y="427.406"/>
<use href="#rg" x="-0.292" y="429.306"/>
<use href="#rg" x="0.805" y="431.207"/>
<use href="#rg" x="-0.292" y="433.108"/>
<use href="#rg" x="0.805" y="435.009"/>
<use href="#rg" x="-0.292" y="436.91"/>
<use href="#rg" x="0.805" y="438.811"/>
<use href="#rg" x="-0.292" y="440.712"/>
<use href="#rg" x="0.805" y="442.613"/>
<use href="#rg" x="-0.292" y="444.514"/>
<use href="#rg" x="0.805" y="446.415"/>
<use href="#rg" x="-0.292" y="448.316"/>
<use href="#rg" x="0.805" y="450.217"/>
<use href="#rg" x="-0.292" y="452.118"/>
<use href="#rg" x="0.805" y="454.019"/>
<use href="#rg" x="-0.292" y="455.919"/>
<use href="#rg" x="0.805" y="457.82"/>
<use href="#rg" x="-0.292" y="459.721"/>
<use href="#rg" x="0.805" y="461.622"/>
<use href="#rg" x="-0.292" y="463.523"/>
<use href="#rg" x="0.805" y="465.424"/>
<use href="#rg" x="-0.292" y="467.325"/>
<use href="#rg" x="0.805" y="469.226"/>
<use href="#rg" x="-0.292" y="471.127"/>
<use href="#rg" x="0.805" y="473.028"/>
<use href="#rg" x="-0.292" y="474.929"/>
<use href="#rg" x="0.805" y="476.83"/>
<use href="#rg" x="-0.292" y="478.731"/>
<use href="#rg" x="0.805" y="480.631"/>
<use href="#rg" x="-0.292" y="482.532"/>
<use href="#rg" x="0.805" y="484.433"/>
<use href="#rg" x="-0.292" y="486.334"/>
<use href="#rg" x="0.805" y="488.235"/>
<use href="#rg" x="-0.292" y="490.136"/>
<use href="#rg" x="0.805" y="492.037"/>
<use href="#rg" x="-0.292" y="493.938"/>
<use href="#rg" x="0.805" y="495.839"/>
<use href="#rg" x="-0.292" y="497.74"/>
<use href="#rg" x="0.805" y="499.641"/>
<use href="#rg" x="-0.292" y="501.542"/>
<use href="#rg" x="0.805" y="503.443"/>
<use href="#rg" x="-0.292" y="505.344"/>
<use href="#rg" x="0.805" y="507.244"/>
<use href="#rg" x="-0.292" y="509.145"/>
<use href="#rg" x="0.805" y="511.046"/>
<use href="#rg" x="-0.292" y="512.947"/>
<use href="#rg" x="0.805" y="514.848"/>
<use href="#rg" x="-0.292" y="516.749"/>
<use href="#rg" x="0.805" y="518.65"/>
<use href="#rg" x="-0.292" y="520.551"/>
<use href="#rg" x="0.805" y="522.452"/>
<use href="#rg" x="-0.292" y="524.353"/>
<use href="#rg" x="0.805" y="526.254"/>
<use href="#rg" x="-0.292" y="528.155"/>
<use href="#rg" x="0.805" y="530.056"/>
<use href="#rg" x="-0.292" y="531.956"/>
<use href="#rg" x="0.805" y="533.857"/>
<use href="#rg" x="-0.292" y="535.758"/>
<use href="#rg" x="0.805" y="537.659"/>
<use href="#rg" x="-0.292" y="539.56"/>
<use href="#rg" x="0.805" y="541.461"/>
<use href="#rg" x="-0.292" y="543.362"/>
<use href="#rg" x="0.805" y="545.263"/>
<use href="#rg" x="-0.292" y="547.164"/>
<use href="#rg" x="0.805" y="549.065"/>
<use href="#rg" x="-0.292" y="550.966"/>
<use href="#rg" x="0.805" y="552.867"/>
<use href="#rg" x="-0.292" y="554.768"/>
<use href="#rg" x="0.805" y="556.669"/>
<use href="#rg" x="-0.292" y="558.569"/>
<use href="#rg" x="0.805" y="560.47"/>
<use href="#rg" x="-0.292" y="562.371"/>
<use href="#rg" x="0.805" y="564.272"/>
<use href="#rg" x="-0.292" y="566.173"/>
<use href="#rg" x="0.805" y="568.074"/>
<use href="#rg" x="-0.292" y="569.975"/>
<use href="#rg" x="0.805" y="571.876"/>
<use href="#rg" x="-0.292" y="573.777"/>
<use href="#rg" x="0.805" y="575.678"/>
<use href="#rg" x="-0.292" y="577.579"/>
<use href="#rg" x="0.805" y="579.48"/>
<use href="#rg" x="-0.292" y="581.381"/>
<use href="#rg" x="0.805" y="583.281"/>
<use href="#rg" x="-0.292" y="585.182"/>
<use href="#rg" x="0.805" y="587.083"/>
<use href="#rg" x="-0.292" y="588.984"/>
<use href="#rg" x="0.805" y="590.885"/>
<use href="#rg" x="-0.292" y="592.786"/>
<use href="#rg" x="0.805" y="594.687"/>
<use href="#rg" x="-0.292" y="596.588"/>
<use href="#rg" x="0.805" y="598.489"/>
<use href="#rg" x="-0.292" y="600.39"/>
<use href="#rg" x="0.805" y="602.291"/>
<use href="#rg" x="-0.292" y="604.192"/>
<use href="#rg" x="0.805" y="606.093"/>
<use href="#rg" x="-0.292" y="607.994"/>
</g>
<g clip-path="url(#clg)"><g fill="none" stroke="#e01c38" stroke-width="0.52" stroke-linejoin="round" stroke-linecap="round" transform="translate(101.9 508.3) rotate(0.0)" >
<use href="#ng" x="-79.5" y="-11.47"/>
<use href="#ng" x="-89.44" y="-5.74"/>
<use href="#ng" x="-89.44" y="5.74"/>
<use href="#ng" x="-79.5" y="11.47"/>
<use href="#ng" x="-69.56" y="5.74"/>
<use href="#ng" x="-69.56" y="-5.74"/>
<use href="#ng" x="-79.5" y="22.95"/>
<use href="#ng" x="-69.56" y="28.69"/>
<use href="#ng" x="-59.63" y="22.95"/>
<use href="#ng" x="-59.63" y="11.47"/>
<use href="#ng" x="-69.56" y="40.16"/>
<use href="#ng" x="-59.63" y="45.9"/>
<use href="#ng" x="-49.69" y="40.16"/>
<use href="#ng" x="-49.69" y="28.69"/>
<use href="#ng" x="-59.63" y="57.38"/>
<use href="#ng" x="-49.69" y="63.11" stroke="#e9404c"/>
<use href="#ng" x="-39.75" y="57.38"/>
<use href="#ng" x="-39.75" y="45.9"/>
<use href="#ng" x="-49.69" y="74.59" stroke="#e9404c"/>
<use href="#ng" x="-39.75" y="80.32"/>
<use href="#ng" x="-29.81" y="74.59" stroke="#f1635f"/>
<use href="#ng" x="-29.81" y="63.11" stroke="#f1635f"/>
<use href="#ng" x="-69.56" y="-28.69" stroke="#f1635f"/>
<use href="#ng" x="-79.5" y="-22.95"/>
<use href="#ng" x="-59.63" y="-11.47"/>
<use href="#ng" x="-59.63" y="-22.95"/>
<use href="#ng" x="-49.69" y="5.74"/>
<use href="#ng" x="-49.69" y="-5.74"/>
<use href="#ng" x="-39.75" y="22.95"/>
<use href="#ng" x="-39.75" y="11.47"/>
<use href="#ng" x="-29.81" y="40.16"/>
<use href="#ng" x="-29.81" y="28.69"/>
<use href="#ng" x="-19.88" y="57.38" stroke="#e9404c"/>
<use href="#ng" x="-19.88" y="45.9"/>
<use href="#ng" x="-19.88" y="80.32" stroke="#e9404c"/>
<use href="#ng" x="-9.94" y="74.59" stroke="#f1635f"/>
<use href="#ng" x="-9.94" y="63.11" stroke="#fa8773"/>
<use href="#ng" x="-59.63" y="-45.9" stroke="#f1635f"/>
<use href="#ng" x="-69.56" y="-40.16" stroke="#fa8773"/>
<use href="#ng" x="-49.69" y="-28.69" stroke="#e9404c"/>
<use href="#ng" x="-49.69" y="-40.16" stroke="#f1635f"/>
<use href="#ng" x="-39.75" y="-11.47"/>
<use href="#ng" x="-39.75" y="-22.95"/>
<use href="#ng" x="-29.81" y="5.74"/>
<use href="#ng" x="-29.81" y="-5.74"/>
<use href="#ng" x="-19.88" y="22.95"/>
<use href="#ng" x="-19.88" y="11.47"/>
<use href="#ng" x="-9.94" y="40.16"/>
<use href="#ng" x="-9.94" y="28.69"/>
<use href="#ng" x="0" y="57.38" stroke="#e9404c"/>
<use href="#ng" x="0" y="45.9"/>
<use href="#ng" x="0" y="80.32" stroke="#e9404c"/>
<use href="#ng" x="9.94" y="74.59" stroke="#f1635f"/>
<use href="#ng" x="9.94" y="63.11" stroke="#fa8773"/>
<use href="#ng" x="-49.69" y="-63.11"/>
<use href="#ng" x="-59.63" y="-57.37"/>
<use href="#ng" x="-39.75" y="-45.9"/>
<use href="#ng" x="-39.75" y="-57.37"/>
<use href="#ng" x="-29.81" y="-28.69"/>
<use href="#ng" x="-29.81" y="-40.16"/>
<use href="#ng" x="-19.88" y="-11.47"/>
<use href="#ng" x="-19.88" y="-22.95"/>
<use href="#ng" x="-9.94" y="5.74"/>
<use href="#ng" x="-9.94" y="-5.74"/>
<use href="#ng" x="0" y="22.95"/>
<use href="#ng" x="0" y="11.47"/>
<use href="#ng" x="9.94" y="40.16"/>
<use href="#ng" x="9.94" y="28.69"/>
<use href="#ng" x="19.88" y="57.38" stroke="#e9404c"/>
<use href="#ng" x="19.88" y="45.9"/>
<use href="#ng" x="19.88" y="80.32" stroke="#e9404c"/>
<use href="#ng" x="29.81" y="74.59" stroke="#f1635f"/>
<use href="#ng" x="29.81" y="63.11" stroke="#f1635f"/>
<use href="#ng" x="-39.75" y="-80.32"/>
<use href="#ng" x="-49.69" y="-74.59"/>
<use href="#ng" x="-29.81" y="-63.11"/>
<use href="#ng" x="-29.81" y="-74.59"/>
<use href="#ng" x="-19.88" y="-45.9"/>
<use href="#ng" x="-19.88" y="-57.37"/>
<use href="#ng" x="-9.94" y="-28.69"/>
<use href="#ng" x="-9.94" y="-40.16"/>
<use href="#ng" x="0" y="-11.47"/>
<use href="#ng" x="0" y="-22.95"/>
<use href="#ng" x="9.94" y="5.74"/>
<use href="#ng" x="9.94" y="-5.74"/>
<use href="#ng" x="19.88" y="22.95"/>
<use href="#ng" x="19.88" y="11.47"/>
<use href="#ng" x="29.81" y="40.16"/>
<use href="#ng" x="29.81" y="28.69"/>
<use href="#ng" x="39.75" y="57.38"/>
<use href="#ng" x="39.75" y="45.9"/>
<use href="#ng" x="39.75" y="80.32"/>
<use href="#ng" x="49.69" y="74.59" stroke="#e9404c"/>
<use href="#ng" x="49.69" y="63.11" stroke="#e9404c"/>
<use href="#ng" x="-19.88" y="-80.32"/>
<use href="#ng" x="-9.94" y="-63.11"/>
<use href="#ng" x="-9.94" y="-74.59"/>
<use href="#ng" x="0" y="-45.9"/>
<use href="#ng" x="0" y="-57.37"/>
<use href="#ng" x="9.94" y="-28.69"/>
<use href="#ng" x="9.94" y="-40.16"/>
<use href="#ng" x="19.88" y="-11.47"/>
<use href="#ng" x="19.88" y="-22.95"/>
<use href="#ng" x="29.81" y="5.74"/>
<use href="#ng" x="29.81" y="-5.74"/>
<use href="#ng" x="39.75" y="22.95"/>
<use href="#ng" x="39.75" y="11.47"/>
<use href="#ng" x="49.69" y="40.16"/>
<use href="#ng" x="49.69" y="28.69"/>
<use href="#ng" x="59.63" y="57.38"/>
<use href="#ng" x="59.63" y="45.9"/>
<use href="#ng" x="0" y="-80.32"/>
<use href="#ng" x="9.94" y="-63.11"/>
<use href="#ng" x="9.94" y="-74.59"/>
<use href="#ng" x="19.88" y="-45.9"/>
<use href="#ng" x="19.88" y="-57.37"/>
<use href="#ng" x="29.81" y="-28.69"/>
<use href="#ng" x="29.81" y="-40.16"/>
<use href="#ng" x="39.75" y="-11.47"/>
<use href="#ng" x="39.75" y="-22.95"/>
<use href="#ng" x="49.69" y="5.74"/>
<use href="#ng" x="49.69" y="-5.74"/>
<use href="#ng" x="59.63" y="22.95"/>
<use href="#ng" x="59.63" y="11.47"/>
<use href="#ng" x="69.56" y="40.16"/>
<use href="#ng" x="69.56" y="28.69"/>
<use href="#ng" x="19.88" y="-80.32"/>
<use href="#ng" x="29.81" y="-63.11"/>
<use href="#ng" x="29.81" y="-74.59"/>
<use href="#ng" x="39.75" y="-45.9"/>
<use href="#ng" x="39.75" y="-57.37"/>
<use href="#ng" x="49.69" y="-28.69" stroke="#e9404c"/>
<use href="#ng" x="49.69" y="-40.16" stroke="#f1635f"/>
<use href="#ng" x="59.63" y="-11.47"/>
<use href="#ng" x="59.63" y="-22.95"/>
<use href="#ng" x="69.56" y="5.74"/>
<use href="#ng" x="69.56" y="-5.74"/>
<use href="#ng" x="79.5" y="22.95"/>
<use href="#ng" x="79.5" y="11.47"/>
<use href="#ng" x="39.75" y="-80.32"/>
<use href="#ng" x="49.69" y="-63.11"/>
<use href="#ng" x="49.69" y="-74.59"/>
<use href="#ng" x="59.63" y="-45.9" stroke="#f1635f"/>
<use href="#ng" x="59.63" y="-57.37"/>
<use href="#ng" x="69.56" y="-28.69" stroke="#f1635f"/>
<use href="#ng" x="69.56" y="-40.16" stroke="#fa8773"/>
<use href="#ng" x="79.5" y="-11.47"/>
<use href="#ng" x="79.5" y="-22.95"/>
<use href="#ng" x="89.44" y="5.74"/>
<use href="#ng" x="89.44" y="-5.74"/>
<use href="#eg" transform="translate(-79.5 -11.47) rotate(0)"/>
<use href="#eg" transform="translate(-79.5 -11.47) rotate(-120)"/>
<use href="#eg" transform="translate(-79.5 -11.47) rotate(-240)"/>
<use href="#eg" transform="translate(-89.44 5.74) rotate(0)"/>
<use href="#eg" transform="translate(-89.44 5.74) rotate(-240)"/>
<use href="#eg" transform="translate(-69.56 5.74) rotate(0)"/>
<use href="#eg" transform="translate(-69.56 5.74) rotate(-120)"/>
<use href="#eg" transform="translate(-69.56 5.74) rotate(-240)"/>
<use href="#eg" transform="translate(-79.5 22.95) rotate(0)"/>
<use href="#eg" transform="translate(-79.5 22.95) rotate(-240)"/>
<use href="#eg" transform="translate(-59.63 22.95) rotate(0)"/>
<use href="#eg" transform="translate(-59.63 22.95) rotate(-120)"/>
<use href="#eg" transform="translate(-59.63 22.95) rotate(-240)"/>
<use href="#eg" transform="translate(-69.56 40.16) rotate(0)"/>
<use href="#eg" transform="translate(-69.56 40.16) rotate(-240)"/>
<use href="#eg" transform="translate(-49.69 40.16) rotate(0)"/>
<use href="#eg" transform="translate(-49.69 40.16) rotate(-120)"/>
<use href="#eg" transform="translate(-49.69 40.16) rotate(-240)"/>
<use href="#eg" transform="translate(-59.63 57.38) rotate(0)"/>
<use href="#eg" transform="translate(-59.63 57.38) rotate(-240)" stroke="#e9404c"/>
<use href="#eg" transform="translate(-39.75 57.38) rotate(0)"/>
<use href="#eg" transform="translate(-39.75 57.38) rotate(-120)" stroke="#e9404c"/>
<use href="#eg" transform="translate(-39.75 57.38) rotate(-240)" stroke="#e9404c"/>
<use href="#eg" transform="translate(-49.69 74.59) rotate(0)" stroke="#f1635f"/>
<use href="#eg" transform="translate(-49.69 74.59) rotate(-240)" stroke="#e9404c"/>
<use href="#eg" transform="translate(-29.81 74.59) rotate(0)" stroke="#fa8773"/>
<use href="#eg" transform="translate(-29.81 74.59) rotate(-120)" stroke="#e9404c"/>
<use href="#eg" transform="translate(-29.81 74.59) rotate(-240)" stroke="#e9404c"/>
<use href="#eg" transform="translate(-69.56 -28.69) rotate(0)" stroke="#fa8773"/>
<use href="#eg" transform="translate(-69.56 -28.69) rotate(-120)" stroke="#e9404c"/>
<use href="#eg" transform="translate(-69.56 -28.69) rotate(-240)" stroke="#e9404c"/>
<use href="#eg" transform="translate(-59.63 -11.47) rotate(0)"/>
<use href="#eg" transform="translate(-59.63 -11.47) rotate(-120)"/>
<use href="#eg" transform="translate(-59.63 -11.47) rotate(-240)"/>
<use href="#eg" transform="translate(-49.69 5.74) rotate(0)"/>
<use href="#eg" transform="translate(-49.69 5.74) rotate(-120)"/>
<use href="#eg" transform="translate(-49.69 5.74) rotate(-240)"/>
<use href="#eg" transform="translate(-39.75 22.95) rotate(0)"/>
<use href="#eg" transform="translate(-39.75 22.95) rotate(-120)"/>
<use href="#eg" transform="translate(-39.75 22.95) rotate(-240)"/>
<use href="#eg" transform="translate(-29.81 40.16) rotate(0)"/>
<use href="#eg" transform="translate(-29.81 40.16) rotate(-120)"/>
<use href="#eg" transform="translate(-29.81 40.16) rotate(-240)"/>
<use href="#eg" transform="translate(-19.88 57.38) rotate(0)"/>
<use href="#eg" transform="translate(-19.88 57.38) rotate(-120)" stroke="#e9404c"/>
<use href="#eg" transform="translate(-19.88 57.38) rotate(-240)" stroke="#f1635f"/>
<use href="#eg" transform="translate(-9.94 74.59) rotate(0)" stroke="#fa8773"/>
<use href="#eg" transform="translate(-9.94 74.59) rotate(-120)" stroke="#f1635f"/>
<use href="#eg" transform="translate(-9.94 74.59) rotate(-240)" stroke="#f1635f"/>
<use href="#eg" transform="translate(-59.63 -45.9) rotate(0)" stroke="#e9404c"/>
<use href="#eg" transform="translate(-59.63 -45.9) rotate(-120)" stroke="#fa8773"/>
<use href="#eg" transform="translate(-59.63 -45.9) rotate(-240)" stroke="#f1635f"/>
<use href="#eg" transform="translate(-49.69 -28.69) rotate(0)" stroke="#f1635f"/>
<use href="#eg" transform="translate(-49.69 -28.69) rotate(-120)" stroke="#e9404c"/>
<use href="#eg" transform="translate(-49.69 -28.69) rotate(-240)"/>
<use href="#eg" transform="translate(-39.75 -11.47) rotate(0)"/>
<use href="#eg" transform="translate(-39.75 -11.47) rotate(-120)"/>
<use href="#eg" transform="translate(-39.75 -11.47) rotate(-240)"/>
<use href="#eg" transform="translate(-29.81 5.74) rotate(0)"/>
<use href="#eg" transform="translate(-29.81 5.74) rotate(-120)"/>
<use href="#eg" transform="translate(-29.81 5.74) rotate(-240)"/>
<use href="#eg" transform="translate(-19.88 22.95) rotate(0)"/>
<use href="#eg" transform="translate(-19.88 22.95) rotate(-120)"/>
<use href="#eg" transform="translate(-19.88 22.95) rotate(-240)"/>
<use href="#eg" transform="translate(-9.94 40.16) rotate(0)"/>
<use href="#eg" transform="translate(-9.94 40.16) rotate(-120)"/>
<use href="#eg" transform="translate(-9.94 40.16) rotate(-240)"/>
<use href="#eg" transform="translate(0 57.38) rotate(0)"/>
<use href="#eg" transform="translate(0 57.38) rotate(-120)" stroke="#f1635f"/>
<use href="#eg" transform="translate(0 57.38) rotate(-240)" stroke="#f1635f"/>
<use href="#eg" transform="translate(9.94 74.59) rotate(0)" stroke="#fa8773"/>
<use href="#eg" transform="translate(9.94 74.59) rotate(-120)" stroke="#f1635f"/>
<use href="#eg" transform="translate(9.94 74.59) rotate(-240)" stroke="#f1635f"/>
<use href="#eg" transform="translate(-49.69 -63.11) rotate(0)"/>
<use href="#eg" transform="translate(-49.69 -63.11) rotate(-120)"/>
<use href="#eg" transform="translate(-49.69 -63.11) rotate(-240)"/>
<use href="#eg" transform="translate(-39.75 -45.9) rotate(0)"/>
<use href="#eg" transform="translate(-39.75 -45.9) rotate(-120)" stroke="#e9404c"/>
<use href="#eg" transform="translate(-39.75 -45.9) rotate(-240)"/>
<use href="#eg" transform="translate(-29.81 -28.69) rotate(0)"/>
<use href="#eg" transform="translate(-29.81 -28.69) rotate(-120)"/>
<use href="#eg" transform="translate(-29.81 -28.69) rotate(-240)"/>
<use href="#eg" transform="translate(-19.88 -11.47) rotate(0)"/>
<use href="#eg" transform="translate(-19.88 -11.47) rotate(-120)"/>
<use href="#eg" transform="translate(-19.88 -11.47) rotate(-240)"/>
<use href="#eg" transform="translate(-9.94 5.74) rotate(0)"/>
<use href="#eg" transform="translate(-9.94 5.74) rotate(-120)"/>
<use href="#eg" transform="translate(-9.94 5.74) rotate(-240)"/>
<use href="#eg" transform="translate(0 22.95) rotate(0)"/>
<use href="#eg" transform="translate(0 22.95) rotate(-120)"/>
<use href="#eg" transform="translate(0 22.95) rotate(-240)"/>
<use href="#eg" transform="translate(9.94 40.16) rotate(0)"/>
<use href="#eg" transform="translate(9.94 40.16) rotate(-120)"/>
<use href="#eg" transform="translate(9.94 40.16) rotate(-240)"/>
<use href="#eg" transform="translate(19.88 57.38) rotate(0)"/>
<use href="#eg" transform="translate(19.88 57.38) rotate(-120)" stroke="#f1635f"/>
<use href="#eg" transform="translate(19.88 57.38) rotate(-240)" stroke="#e9404c"/>
<use href="#eg" transform="translate(29.81 74.59) rotate(0)" stroke="#fa8773"/>
<use href="#eg" transform="translate(29.81 74.59) rotate(-120)" stroke="#e9404c"/>
<use href="#eg" transform="translate(29.81 74.59) rotate(-240)" stroke="#e9404c"/>
<use href="#eg" transform="translate(-39.75 -80.32) rotate(-120)"/>
<use href="#eg" transform="translate(-39.75 -80.32) rotate(-240)"/>
<use href="#eg" transform="translate(-29.81 -63.11) rotate(0)"/>
<use href="#eg" transform="translate(-29.81 -63.11) rotate(-120)"/>
<use href="#eg" transform="translate(-29.81 -63.11) rotate(-240)"/>
<use href="#eg" transform="translate(-19.88 -45.9) rotate(0)"/>
<use href="#eg" transform="translate(-19.88 -45.9) rotate(-120)"/>
<use href="#eg" transform="translate(-19.88 -45.9) rotate(-240)"/>
<use href="#eg" transform="translate(-9.94 -28.69) rotate(0)"/>
<use href="#eg" transform="translate(-9.94 -28.69) rotate(-120)"/>
<use href="#eg" transform="translate(-9.94 -28.69) rotate(-240)"/>
<use href="#eg" transform="translate(0 -11.47) rotate(0)"/>
<use href="#eg" transform="translate(0 -11.47) rotate(-120)"/>
<use href="#eg" transform="translate(0 -11.47) rotate(-240)"/>
<use href="#eg" transform="translate(9.94 5.74) rotate(0)"/>
<use href="#eg" transform="translate(9.94 5.74) rotate(-120)"/>
<use href="#eg" transform="translate(9.94 5.74) rotate(-240)"/>
<use href="#eg" transform="translate(19.88 22.95) rotate(0)"/>
<use href="#eg" transform="translate(19.88 22.95) rotate(-120)"/>
<use href="#eg" transform="translate(19.88 22.95) rotate(-240)"/>
<use href="#eg" transform="translate(29.81 40.16) rotate(0)"/>
<use href="#eg" transform="translate(29.81 40.16) rotate(-120)"/>
<use href="#eg" transform="translate(29.81 40.16) rotate(-240)"/>
<use href="#eg" transform="translate(39.75 57.38) rotate(0)"/>
<use href="#eg" transform="translate(39.75 57.38) rotate(-120)" stroke="#e9404c"/>
<use href="#eg" transform="translate(39.75 57.38) rotate(-240)" stroke="#e9404c"/>
<use href="#eg" transform="translate(49.69 74.59) rotate(0)" stroke="#f1635f"/>
<use href="#eg" transform="translate(49.69 74.59) rotate(-120)" stroke="#e9404c"/>
<use href="#eg" transform="translate(-19.88 -80.32) rotate(-120)"/>
<use href="#eg" transform="translate(-19.88 -80.32) rotate(-240)"/>
<use href="#eg" transform="translate(-9.94 -63.11) rotate(0)"/>
<use href="#eg" transform="translate(-9.94 -63.11) rotate(-120)"/>
<use href="#eg" transform="translate(-9.94 -63.11) rotate(-240)"/>
<use href="#eg" transform="translate(0 -45.9) rotate(0)"/>
<use href="#eg" transform="translate(0 -45.9) rotate(-120)"/>
<use href="#eg" transform="translate(0 -45.9) rotate(-240)"/>
<use href="#eg" transform="translate(9.94 -28.69) rotate(0)"/>
<use href="#eg" transform="translate(9.94 -28.69) rotate(-120)"/>
<use href="#eg" transform="translate(9.94 -28.69) rotate(-240)"/>
<use href="#eg" transform="translate(19.88 -11.47) rotate(0)"/>
<use href="#eg" transform="translate(19.88 -11.47) rotate(-120)"/>
<use href="#eg" transform="translate(19.88 -11.47) rotate(-240)"/>
<use href="#eg" transform="translate(29.81 5.74) rotate(0)"/>
<use href="#eg" transform="translate(29.81 5.74) rotate(-120)"/>
<use href="#eg" transform="translate(29.81 5.74) rotate(-240)"/>
<use href="#eg" transform="translate(39.75 22.95) rotate(0)"/>
<use href="#eg" transform="translate(39.75 22.95) rotate(-120)"/>
<use href="#eg" transform="translate(39.75 22.95) rotate(-240)"/>
<use href="#eg" transform="translate(49.69 40.16) rotate(0)"/>
<use href="#eg" transform="translate(49.69 40.16) rotate(-120)"/>
<use href="#eg" transform="translate(49.69 40.16) rotate(-240)"/>
<use href="#eg" transform="translate(59.63 57.38) rotate(0)"/>
<use href="#eg" transform="translate(59.63 57.38) rotate(-120)" stroke="#e9404c"/>
<use href="#eg" transform="translate(0 -80.32) rotate(-120)"/>
<use href="#eg" transform="translate(0 -80.32) rotate(-240)"/>
<use href="#eg" transform="translate(9.94 -63.11) rotate(0)"/>
<use href="#eg" transform="translate(9.94 -63.11) rotate(-120)"/>
<use href="#eg" transform="translate(9.94 -63.11) rotate(-240)"/>
<use href="#eg" transform="translate(19.88 -45.9) rotate(0)"/>
<use href="#eg" transform="translate(19.88 -45.9) rotate(-120)"/>
<use href="#eg" transform="translate(19.88 -45.9) rotate(-240)"/>
<use href="#eg" transform="translate(29.81 -28.69) rotate(0)"/>
<use href="#eg" transform="translate(29.81 -28.69) rotate(-120)"/>
<use href="#eg" transform="translate(29.81 -28.69) rotate(-240)"/>
<use href="#eg" transform="translate(39.75 -11.47) rotate(0)"/>
<use href="#eg" transform="translate(39.75 -11.47) rotate(-120)"/>
<use href="#eg" transform="translate(39.75 -11.47) rotate(-240)"/>
<use href="#eg" transform="translate(49.69 5.74) rotate(0)"/>
<use href="#eg" transform="translate(49.69 5.74) rotate(-120)"/>
<use href="#eg" transform="translate(49.69 5.74) rotate(-240)"/>
<use href="#eg" transform="translate(59.63 22.95) rotate(0)"/>
<use href="#eg" transform="translate(59.63 22.95) rotate(-120)"/>
<use href="#eg" transform="translate(59.63 22.95) rotate(-240)"/>
<use href="#eg" transform="translate(69.56 40.16) rotate(0)"/>
<use href="#eg" transform="translate(69.56 40.16) rotate(-120)"/>
<use href="#eg" transform="translate(19.88 -80.32) rotate(-120)"/>
<use href="#eg" transform="translate(19.88 -80.32) rotate(-240)"/>
<use href="#eg" transform="translate(29.81 -63.11) rotate(0)"/>
<use href="#eg" transform="translate(29.81 -63.11) rotate(-120)"/>
<use href="#eg" transform="translate(29.81 -63.11) rotate(-240)"/>
<use href="#eg" transform="translate(39.75 -45.9) rotate(0)"/>
<use href="#eg" transform="translate(39.75 -45.9) rotate(-120)"/>
<use href="#eg" transform="translate(39.75 -45.9) rotate(-240)" stroke="#e9404c"/>
<use href="#eg" transform="translate(49.69 -28.69) rotate(0)" stroke="#f1635f"/>
<use href="#eg" transform="translate(49.69 -28.69) rotate(-120)"/>
<use href="#eg" transform="translate(49.69 -28.69) rotate(-240)" stroke="#e9404c"/>
<use href="#eg" transform="translate(59.63 -11.47) rotate(0)"/>
<use href="#eg" transform="translate(59.63 -11.47) rotate(-120)"/>
<use href="#eg" transform="translate(59.63 -11.47) rotate(-240)"/>
<use href="#eg" transform="translate(69.56 5.74) rotate(0)"/>
<use href="#eg" transform="translate(69.56 5.74) rotate(-120)"/>
<use href="#eg" transform="translate(69.56 5.74) rotate(-240)"/>
<use href="#eg" transform="translate(79.5 22.95) rotate(0)"/>
<use href="#eg" transform="translate(79.5 22.95) rotate(-120)"/>
<use href="#eg" transform="translate(39.75 -80.32) rotate(-120)"/>
<use href="#eg" transform="translate(39.75 -80.32) rotate(-240)"/>
<use href="#eg" transform="translate(49.69 -63.11) rotate(0)"/>
<use href="#eg" transform="translate(49.69 -63.11) rotate(-120)"/>
<use href="#eg" transform="translate(49.69 -63.11) rotate(-240)"/>
<use href="#eg" transform="translate(59.63 -45.9) rotate(0)" stroke="#e9404c"/>
<use href="#eg" transform="translate(59.63 -45.9) rotate(-120)" stroke="#f1635f"/>
<use href="#eg" transform="translate(59.63 -45.9) rotate(-240)" stroke="#fa8773"/>
<use href="#eg" transform="translate(69.56 -28.69) rotate(0)" stroke="#fa8773"/>
<use href="#eg" transform="translate(69.56 -28.69) rotate(-120)" stroke="#e9404c"/>
<use href="#eg" transform="translate(69.56 -28.69) rotate(-240)" stroke="#e9404c"/>
<use href="#eg" transform="translate(79.5 -11.47) rotate(0)"/>
<use href="#eg" transform="translate(79.5 -11.47) rotate(-120)"/>
<use href="#eg" transform="translate(79.5 -11.47) rotate(-240)"/>
<use href="#eg" transform="translate(89.44 5.74) rotate(0)"/>
<use href="#eg" transform="translate(89.44 5.74) rotate(-120)"/>
<use href="#og" transform="translate(-89.44 -5.74) rotate(-60)"/>
<use href="#og" transform="translate(-89.44 5.74) rotate(-120)"/>
<use href="#og" transform="translate(-79.5 22.95) rotate(-120)"/>
<use href="#og" transform="translate(-69.56 40.16) rotate(-120)"/>
<use href="#og" transform="translate(-59.63 57.38) rotate(-120)"/>
<use href="#og" transform="translate(-49.69 74.59) rotate(-120)"/>
<use href="#og" transform="translate(-39.75 80.32) rotate(-180)"/>
<use href="#og" transform="translate(-79.5 -22.95) rotate(-60)"/>
<use href="#og" transform="translate(-19.88 80.32) rotate(-180)"/>
<use href="#og" transform="translate(-69.56 -40.16) rotate(-60)" stroke="#f1635f"/>
<use href="#og" transform="translate(0 80.32) rotate(-180)"/>
<use href="#og" transform="translate(-59.63 -57.37) rotate(-60)"/>
<use href="#og" transform="translate(19.88 80.32) rotate(-180)"/>
<use href="#og" transform="translate(-39.75 -80.32) rotate(0)"/>
<use href="#og" transform="translate(-49.69 -74.59) rotate(-60)"/>
<use href="#og" transform="translate(39.75 80.32) rotate(-180)"/>
<use href="#og" transform="translate(49.69 74.59) rotate(-240)"/>
<use href="#og" transform="translate(-19.88 -80.32) rotate(0)"/>
<use href="#og" transform="translate(59.63 57.38) rotate(-240)"/>
<use href="#og" transform="translate(0 -80.32) rotate(0)"/>
<use href="#og" transform="translate(69.56 40.16) rotate(-240)"/>
<use href="#og" transform="translate(19.88 -80.32) rotate(0)"/>
<use href="#og" transform="translate(79.5 22.95) rotate(-240)"/>
<use href="#og" transform="translate(39.75 -80.32) rotate(0)"/>
<use href="#og" transform="translate(49.69 -74.59) rotate(60)"/>
<use href="#og" transform="translate(59.63 -57.37) rotate(60)"/>
<use href="#og" transform="translate(69.56 -40.16) rotate(60)" stroke="#f1635f"/>
<use href="#og" transform="translate(79.5 -22.95) rotate(60)"/>
<use href="#og" transform="translate(89.44 5.74) rotate(-240)"/>
<use href="#og" transform="translate(89.44 -5.74) rotate(60)"/>
</g></g>
<g clip-path="url(#clj)" fill="none" stroke="#2c28e8" stroke-width="0.41" stroke-linejoin="round" opacity="1">
<use href="#rj" x="0.476" y="618.814"/>
<use href="#rj" x="1.107" y="619.907"/>
<use href="#rj" x="0.476" y="621"/>
<use href="#rj" x="1.107" y="622.093"/>
<use href="#rj" x="0.476" y="623.186"/>
<use href="#rj" x="1.107" y="624.279"/>
<use href="#rj" x="0.476" y="625.372"/>
<use href="#rj" x="1.107" y="626.465"/>
<use href="#rj" x="0.476" y="627.558"/>
<use href="#rj" x="1.107" y="628.65"/>
<use href="#rj" x="0.476" y="629.743"/>
<use href="#rj" x="1.107" y="630.836"/>
<use href="#rj" x="0.476" y="631.929"/>
<use href="#rj" x="1.107" y="633.022"/>
<use href="#rj" x="0.476" y="634.115"/>
<use href="#rj" x="1.107" y="635.208"/>
<use href="#rj" x="0.476" y="636.301"/>
<use href="#rj" x="1.107" y="637.394"/>
<use href="#rj" x="0.476" y="638.487"/>
<use href="#rj" x="1.107" y="639.58"/>
<use href="#rj" x="0.476" y="640.673"/>
<use href="#rj" x="1.107" y="641.766"/>
<use href="#rj" x="0.476" y="642.858"/>
<use href="#rj" x="1.107" y="643.951"/>
<use href="#rj" x="0.476" y="645.044"/>
<use href="#rj" x="1.107" y="646.137"/>
<use href="#rj" x="0.476" y="647.23"/>
<use href="#rj" x="1.107" y="648.323"/>
<use href="#rj" x="0.476" y="649.416"/>
<use href="#rj" x="1.107" y="650.509"/>
<use href="#rj" x="0.476" y="651.602"/>
<use href="#rj" x="1.107" y="652.695"/>
<use href="#rj" x="0.476" y="653.788"/>
<use href="#rj" x="1.107" y="654.881"/>
<use href="#rj" x="0.476" y="655.974"/>
<use href="#rj" x="1.107" y="657.066"/>
<use href="#rj" x="0.476" y="658.159"/>
<use href="#rj" x="1.107" y="659.252"/>
<use href="#rj" x="0.476" y="660.345"/>
<use href="#rj" x="1.107" y="661.438"/>
<use href="#rj" x="0.476" y="662.531"/>
<use href="#rj" x="1.107" y="663.624"/>
<use href="#rj" x="0.476" y="664.717"/>
<use href="#rj" x="1.107" y="665.81"/>
<use href="#rj" x="0.476" y="666.903"/>
<use href="#rj" x="1.107" y="667.996"/>
<use href="#rj" x="0.476" y="669.089"/>
<use href="#rj" x="1.107" y="670.182"/>
<use href="#rj" x="0.476" y="671.275"/>
<use href="#rj" x="1.107" y="672.367"/>
<use href="#rj" x="0.476" y="673.46"/>
<use href="#rj" x="1.107" y="674.553"/>
<use href="#rj" x="0.476" y="675.646"/>
<use href="#rj" x="1.107" y="676.739"/>
<use href="#rj" x="0.476" y="677.832"/>
<use href="#rj" x="1.107" y="678.925"/>
<use href="#rj" x="0.476" y="680.018"/>
<use href="#rj" x="1.107" y="681.111"/>
<use href="#rj" x="0.476" y="682.204"/>
<use href="#rj" x="1.107" y="683.297"/>
<use href="#rj" x="0.476" y="684.39"/>
<use href="#rj" x="1.107" y="685.483"/>
<use href="#rj" x="0.476" y="686.575"/>
<use href="#rj" x="1.107" y="687.668"/>
<use href="#rj" x="0.476" y="688.761"/>
<use href="#rj" x="1.107" y="689.854"/>
<use href="#rj" x="0.476" y="690.947"/>
<use href="#rj" x="1.107" y="692.04"/>
<use href="#rj" x="0.476" y="693.133"/>
<use href="#rj" x="1.107" y="694.226"/>
<use href="#rj" x="0.476" y="695.319"/>
<use href="#rj" x="1.107" y="696.412"/>
<use href="#rj" x="0.476" y="697.505"/>
<use href="#rj" x="1.107" y="698.598"/>
<use href="#rj" x="0.476" y="699.691"/>
<use href="#rj" x="1.107" y="700.783"/>
<use href="#rj" x="0.476" y="701.876"/>
<use href="#rj" x="1.107" y="702.969"/>
<use href="#rj" x="0.476" y="704.062"/>
<use href="#rj" x="1.107" y="705.155"/>
<use href="#rj" x="0.476" y="706.248"/>
<use href="#rj" x="1.107" y="707.341"/>
<use href="#rj" x="0.476" y="708.434"/>
<use href="#rj" x="1.107" y="709.527"/>
<use href="#rj" x="0.476" y="710.62"/>
<use href="#rj" x="1.107" y="711.713"/>
<use href="#rj" x="0.476" y="712.806"/>
<use href="#rj" x="1.107" y="713.899"/>
<use href="#rj" x="0.476" y="714.991"/>
<use href="#rj" x="1.107" y="716.084"/>
<use href="#rj" x="0.476" y="717.177"/>
<use href="#rj" x="1.107" y="718.27"/>
<use href="#rj" x="0.476" y="719.363"/>
<use href="#rj" x="1.107" y="720.456"/>
<use href="#rj" x="0.476" y="721.549"/>
<use href="#rj" x="1.107" y="722.642"/>
<use href="#rj" x="0.476" y="723.735"/>
<use href="#rj" x="1.107" y="724.828"/>
<use href="#rj" x="0.476" y="725.921"/>
<use href="#rj" x="1.107" y="727.014"/>
<use href="#rj" x="0.476" y="728.107"/>
<use href="#rj" x="1.107" y="729.199"/>
<use href="#rj" x="0.476" y="730.292"/>
<use href="#rj" x="1.107" y="731.385"/>
<use href="#rj" x="0.476" y="732.478"/>
<use href="#rj" x="1.107" y="733.571"/>
<use href="#rj" x="0.476" y="734.664"/>
<use href="#rj" x="1.107" y="735.757"/>
<use href="#rj" x="0.476" y="736.85"/>
<use href="#rj" x="1.107" y="737.943"/>
<use href="#rj" x="0.476" y="739.036"/>
<use href="#rj" x="1.107" y="740.129"/>
<use href="#rj" x="0.476" y="741.222"/>
<use href="#rj" x="1.107" y="742.315"/>
<use href="#rj" x="0.476" y="743.407"/>
<use href="#rj" x="1.107" y="744.5"/>
<use href="#rj" x="0.476" y="745.593"/>
<use href="#rj" x="1.107" y="746.686"/>
<use href="#rj" x="0.476" y="747.779"/>
<use href="#rj" x="1.107" y="748.872"/>
<use href="#rj" x="0.476" y="749.965"/>
<use href="#rj" x="1.107" y="751.058"/>
<use href="#rj" x="0.476" y="752.151"/>
<use href="#rj" x="1.107" y="753.244"/>
<use href="#rj" x="0.476" y="754.337"/>
<use href="#rj" x="1.107" y="755.43"/>
<use href="#rj" x="0.476" y="756.523"/>
<use href="#rj" x="1.107" y="757.616"/>
<use href="#rj" x="0.476" y="758.708"/>
<use href="#rj" x="1.107" y="759.801"/>
<use href="#rj" x="0.476" y="760.894"/>
<use href="#rj" x="1.107" y="761.987"/>
<use href="#rj" x="0.476" y="763.08"/>
<use href="#rj" x="1.107" y="764.173"/>
<use href="#rj" x="0.476" y="765.266"/>
<use href="#rj" x="1.107" y="766.359"/>
<use href="#rj" x="0.476" y="767.452"/>
<use href="#rj" x="1.107" y="768.545"/>
<use href="#rj" x="0.476" y="769.638"/>
<use href="#rj" x="1.107" y="770.731"/>
<use href="#rj" x="0.476" y="771.824"/>
<use href="#rj" x="1.107" y="772.916"/>
<use href="#rj" x="0.476" y="774.009"/>
<use href="#rj" x="1.107" y="775.102"/>
<use href="#rj" x="0.476" y="776.195"/>
<use href="#rj" x="1.107" y="777.288"/>
<use href="#rj" x="0.476" y="778.381"/>
<use href="#rj" x="1.107" y="779.474"/>
<use href="#rj" x="0.476" y="780.567"/>
<use href="#rj" x="1.107" y="781.66"/>
<use href="#rj" x="0.476" y="782.753"/>
<use href="#rj" x="1.107" y="783.846"/>
<use href="#rj" x="0.476" y="784.939"/>
<use href="#rj" x="1.107" y="786.032"/>
<use href="#rj" x="0.476" y="787.124"/>
<use href="#rj" x="1.107" y="788.217"/>
<use href="#rj" x="0.476" y="789.31"/>
<use href="#rj" x="1.107" y="790.403"/>
<use href="#rj" x="0.476" y="791.496"/>
<use href="#rj" x="1.107" y="792.589"/>
<use href="#rj" x="0.476" y="793.682"/>
<use href="#rj" x="1.107" y="794.775"/>
<use href="#rj" x="0.476" y="795.868"/>
<use href="#rj" x="1.107" y="796.961"/>
<use href="#rj" x="0.476" y="798.054"/>
<use href="#rj" x="1.107" y="799.147"/>
<use href="#rj" x="0.476" y="800.24"/>
<use href="#rj" x="1.107" y="801.332"/>
<use href="#rj" x="0.476" y="802.425"/>
<use href="#rj" x="1.107" y="803.518"/>
<use href="#rj" x="0.476" y="804.611"/>
<use href="#rj" x="1.107" y="805.704"/>
<use href="#rj" x="0.476" y="806.797"/>
<use href="#rj" x="1.107" y="807.89"/>
<use href="#rj" x="0.476" y="808.983"/>
<use href="#rj" x="1.107" y="810.076"/>
</g>
<g clip-path="url(#clj)"><g fill="none" stroke="#cc4064" stroke-width="0.86" stroke-linejoin="round" stroke-linecap="round" transform="translate(104.3 715) rotate(0.0)" opacity="0.8">
<g><path d="M-90.66 -6.54l0 -6.54M-90.66 -6.54l-5.67 3.27M-90.66 -6.54l5.67 3.27M-96.33 3.27l0 -6.54M-96.33 3.27l5.67 3.27M-85 3.27l0 -6.54M-85 3.27l-5.67 3.27M-85 3.27l5.67 3.27M-90.66 13.09l0 -6.54M-90.66 13.09l5.67 3.27M-79.33 13.09l0 -6.54M-79.33 13.09l-5.67 3.27M-79.33 13.09l5.67 3.27M-85 22.9l0 -6.54M-85 22.9l5.67 3.27M-73.66 22.9l0 -6.54M-73.66 22.9l-5.67 3.27M-73.66 22.9l5.67 3.27M-73.66 42.53l0 -6.54M-62.33 42.53l0 -6.54M-62.33 62.16l0 -6.54M-62.33 62.16l5.67 3.27M-51 62.16l0 -6.54M-51 62.16l-5.67 3.27M-51 62.16l5.67 3.27M-56.66 71.97l0 -6.54M-56.66 71.97l5.67 3.27M-45.33 71.97l0 -6.54M-45.33 71.97l-5.67 3.27M-45.33 71.97l5.67 3.27M-51 81.79l0 -6.54M-51 81.79l5.67 3.27M-39.66 81.79l0 -6.54M-39.66 81.79l-5.67 3.27M-39.66 81.79l5.67 3.27M-85 -16.36l0 -6.54M-85 -16.36l-5.67 3.27M-85 -16.36l5.67 3.27M-79.33 -6.54l0 -6.54M-79.33 -6.54l-5.67 3.27M-79.33 -6.54l5.67 3.27M-73.66 3.27l0 -6.54M-73.66 3.27l-5.67 3.27M-73.66 3.27l5.67 3.27M-68 13.09l0 -6.54M-68 13.09l-5.67 3.27M-68 13.09l5.67 3.27M-62.33 22.9l0 -6.54M-62.33 22.9l-5.67 3.27M-62.33 22.9l5.67 3.27M-56.66 32.72l0 -6.54M-56.66 32.72l-5.67 3.27M-56.66 32.72l5.67 3.27M-51 42.53l0 -6.54M-39.66 62.16l0 -6.54M-39.66 62.16l-5.67 3.27M-39.66 62.16l5.67 3.27M-34 71.97l0 -6.54M-34 71.97l-5.67 3.27M-34 71.97l5.67 3.27M-28.33 81.79l0 -6.54M-28.33 81.79l-5.67 3.27M-28.33 81.79l5.67 3.27M-79.33 -26.17l0 -6.54M-73.66 -16.36l0 -6.54M-73.66 -16.36l-5.67 3.27M-73.66 -16.36l5.67 3.27M-68 -6.54l0 -6.54M-68 -6.54l-5.67 3.27M-68 -6.54l5.67 3.27M-62.33 3.27l0 -6.54M-62.33 3.27l-5.67 3.27M-62.33 3.27l5.67 3.27M-56.66 13.09l0 -6.54M-56.66 13.09l-5.67 3.27M-56.66 13.09l5.67 3.27M-51 22.9l0 -6.54M-51 22.9l-5.67 3.27M-51 22.9l5.67 3.27M-45.33 32.72l0 -6.54M-45.33 32.72l-5.67 3.27M-45.33 32.72l5.67 3.27M-39.66 42.53l0 -6.54M-28.33 62.16l0 -6.54M-28.33 62.16l-5.67 3.27M-28.33 62.16l5.67 3.27M-22.67 71.97l0 -6.54M-22.67 71.97l-5.67 3.27M-22.67 71.97l5.67 3.27M-17 81.79l0 -6.54M-17 81.79l-5.67 3.27M-17 81.79l5.67 3.27M-73.66 -35.99l0 -6.54M-73.66 -35.99l-5.67 3.27M-73.66 -35.99l5.67 3.27M-68 -26.17l0 -6.54M-62.33 -16.36l-5.67 3.27M-62.33 -16.36l5.67 3.27M-56.66 -6.54l0 -6.54M-56.66 -6.54l-5.67 3.27M-56.66 -6.54l5.67 3.27M-51 3.27l0 -6.54M-51 3.27l-5.67 3.27M-51 3.27l5.67 3.27M-45.33 13.09l0 -6.54M-45.33 13.09l-5.67 3.27M-45.33 13.09l5.67 3.27M-39.66 22.9l0 -6.54M-39.66 22.9l-5.67 3.27M-39.66 22.9l5.67 3.27M-34 32.72l0 -6.54M-34 32.72l-5.67 3.27M-34 32.72l5.67 3.27M-28.33 42.53l0 -6.54M-17 62.16l0 -6.54M-17 62.16l-5.67 3.27M-17 62.16l5.67 3.27M-11.33 71.97l0 -6.54M-11.33 71.97l-5.67 3.27M-11.33 71.97l5.67 3.27M-5.67 81.79l0 -6.54M-5.67 81.79l-5.67 3.27M-5.67 81.79l5.67 3.27M-68 -45.8l0 -6.54M-68 -45.8l-5.67 3.27M-68 -45.8l5.67 3.27M-62.33 -35.99l0 -6.54M-62.33 -35.99l-5.67 3.27M-62.33 -35.99l5.67 3.27M-56.66 -26.17l0 -6.54M-51 -16.36l-5.67 3.27M-51 -16.36l5.67 3.27M-45.33 -6.54l0 -6.54M-45.33 -6.54l-5.67 3.27M-45.33 -6.54l5.67 3.27M-39.66 3.27l0 -6.54M-39.66 3.27l-5.67 3.27M-39.66 3.27l5.67 3.27M-34 13.09l0 -6.54M-34 13.09l-5.67 3.27M-34 13.09l5.67 3.27M-28.33 22.9l0 -6.54M-28.33 22.9l-5.67 3.27M-28.33 22.9l5.67 3.27M-22.67 32.72l0 -6.54M-22.67 32.72l-5.67 3.27M-22.67 32.72l5.67 3.27M-17 42.53l0 -6.54M-5.67 62.16l0 -6.54M-5.67 62.16l-5.67 3.27M-5.67 62.16l5.67 3.27M0 71.97l0 -6.54M0 71.97l-5.67 3.27M0 71.97l5.67 3.27M5.67 81.79l0 -6.54M5.67 81.79l-5.67 3.27M5.67 81.79l5.67 3.27M-62.33 -55.62l0 -6.54M-62.33 -55.62l-5.67 3.27M-62.33 -55.62l5.67 3.27M-56.66 -45.8l0 -6.54M-56.66 -45.8l-5.67 3.27M-56.66 -45.8l5.67 3.27M-51 -35.99l0 -6.54M-51 -35.99l-5.67 3.27M-51 -35.99l5.67 3.27M-39.66 -16.36l-5.67 3.27M-39.66 -16.36l5.67 3.27M-34 -6.54l0 -6.54M-34 -6.54l-5.67 3.27M-34 -6.54l5.67 3.27M-28.33 3.27l0 -6.54M-28.33 3.27l-5.67 3.27M-28.33 3.27l5.67 3.27M-22.67 13.09l0 -6.54M-22.67 13.09l-5.67 3.27M-22.67 13.09l5.67 3.27M-17 22.9l0 -6.54M-17 22.9l-5.67 3.27M-17 22.9l5.67 3.27M-11.33 32.72l0 -6.54M-11.33 32.72l-5.67 3.27M-11.33 32.72l5.67 3.27M-5.67 42.53l0 -6.54M5.67 62.16l0 -6.54M5.67 62.16l-5.67 3.27M5.67 62.16l5.67 3.27M11.33 71.97l0 -6.54M11.33 71.97l-5.67 3.27M11.33 71.97l5.67 3.27M17 81.79l0 -6.54M17 81.79l-5.67 3.27M17 81.79l5.67 3.27M-56.66 -65.43l0 -6.54M-56.66 -65.43l-5.67 3.27M-56.66 -65.43l5.67 3.27M-51 -55.62l0 -6.54M-51 -55.62l-5.67 3.27M-51 -55.62l5.67 3.27M-45.33 -45.8l0 -6.54M-45.33 -45.8l-5.67 3.27M-45.33 -45.8l5.67 3.27M-39.66 -35.99l0 -6.54M-39.66 -35.99l-5.67 3.27M-39.66 -35.99l5.67 3.27M-28.33 -16.36l-5.67 3.27M-28.33 -16.36l5.67 3.27M-22.67 -6.54l0 -6.54M-22.67 -6.54l-5.67 3.27M-22.67 -6.54l5.67 3.27M-17 3.27l0 -6.54M-17 3.27l-5.67 3.27M-17 3.27l5.67 3.27M-11.33 13.09l0 -6.54M-11.33 13.09l-5.67 3.27M-11.33 13.09l5.67 3.27M-5.67 22.9l0 -6.54M-5.67 22.9l-5.67 3.27M-5.67 22.9l5.67 3.27M0 32.72l0 -6.54M0 32.72l-5.67 3.27M0 32.72l5.67 3.27M5.67 42.53l0 -6.54M17 62.16l0 -6.54M17 62.16l-5.67 3.27M17 62.16l5.67 3.27M22.67 71.97l0 -6.54M22.67 71.97l-5.67 3.27M22.67 71.97l5.67 3.27M28.33 81.79l0 -6.54M28.33 81.79l-5.67 3.27M28.33 81.79l5.67 3.27M-51 -75.24l0 -6.54M-51 -75.24l-5.67 3.27M-51 -75.24l5.67 3.27M-45.33 -65.43l0 -6.54M-45.33 -65.43l-5.67 3.27M-45.33 -65.43l5.67 3.27M-39.66 -55.62l0 -6.54M-39.66 -55.62l-5.67 3.27M-39.66 -55.62l5.67 3.27M-34 -45.8l0 -6.54M-34 -45.8l-5.67 3.27M-34 -45.8l5.67 3.27M-28.33 -35.99l0 -6.54M-28.33 -35.99l-5.67 3.27M-28.33 -35.99l5.67 3.27M-17 -16.36l-5.67 3.27M-17 -16.36l5.67 3.27M-11.33 -6.54l0 -6.54M-11.33 -6.54l-5.67 3.27M-11.33 -6.54l5.67 3.27M-5.67 3.27l0 -6.54M-5.67 3.27l-5.67 3.27M-5.67 3.27l5.67 3.27M0 13.09l0 -6.54M0 13.09l-5.67 3.27M0 13.09l5.67 3.27M5.67 22.9l0 -6.54M5.67 22.9l-5.67 3.27M5.67 22.9l5.67 3.27M11.33 32.72l0 -6.54M11.33 32.72l-5.67 3.27M11.33 32.72l5.67 3.27M17 42.53l0 -6.54M28.33 62.16l0 -6.54M28.33 62.16l-5.67 3.27M28.33 62.16l5.67 3.27M34 71.97l0 -6.54M34 71.97l-5.67 3.27M34 71.97l5.67 3.27M39.66 81.79l0 -6.54M39.66 81.79l-5.67 3.27M39.66 81.79l5.67 3.27M-45.33 -85.06l-5.67 3.27M-45.33 -85.06l5.67 3.27M-39.66 -75.24l0 -6.54M-39.66 -75.24l-5.67 3.27M-39.66 -75.24l5.67 3.27M-34 -65.43l0 -6.54M-34 -65.43l-5.67 3.27M-34 -65.43l5.67 3.27M-28.33 -55.62l0 -6.54M-28.33 -55.62l-5.67 3.27M-28.33 -55.62l5.67 3.27M-22.67 -45.8l0 -6.54M-22.67 -45.8l-5.67 3.27M-22.67 -45.8l5.67 3.27M-17 -35.99l0 -6.54M-17 -35.99l-5.67 3.27M-17 -35.99l5.67 3.27M-5.67 -16.36l-5.67 3.27M-5.67 -16.36l5.67 3.27M0 -6.54l0 -6.54M0 -6.54l-5.67 3.27M0 -6.54l5.67 3.27M5.67 3.27l0 -6.54M5.67 3.27l-5.67 3.27M5.67 3.27l5.67 3.27M11.33 13.09l0 -6.54M11.33 13.09l-5.67 3.27M11.33 13.09l5.67 3.27M17 22.9l0 -6.54M17 22.9l-5.67 3.27M17 22.9l5.67 3.27M22.67 32.72l0 -6.54M22.67 32.72l-5.67 3.27M22.67 32.72l5.67 3.27M28.33 42.53l0 -6.54M39.66 62.16l0 -6.54M39.66 62.16l-5.67 3.27M39.66 62.16l5.67 3.27M45.33 71.97l0 -6.54M45.33 71.97l-5.67 3.27M45.33 71.97l5.67 3.27M51 81.79l0 -6.54M51 81.79l-5.67 3.27M-34 -85.06l-5.67 3.27M-34 -85.06l5.67 3.27M-28.33 -75.24l0 -6.54M-28.33 -75.24l-5.67 3.27M-28.33 -75.24l5.67 3.27M-22.67 -65.43l0 -6.54M-22.67 -65.43l-5.67 3.27M-22.67 -65.43l5.67 3.27M-17 -55.62l0 -6.54M-17 -55.62l-5.67 3.27M-17 -55.62l5.67 3.27M-11.33 -45.8l0 -6.54M-11.33 -45.8l-5.67 3.27M-11.33 -45.8l5.67 3.27M-5.67 -35.99l0 -6.54M-5.67 -35.99l-5.67 3.27M-5.67 -35.99l5.67 3.27M5.67 -16.36l-5.67 3.27M5.67 -16.36l5.67 3.27M11.33 -6.54l0 -6.54M11.33 -6.54l-5.67 3.27M11.33 -6.54l5.67 3.27M17 3.27l0 -6.54M17 3.27l-5.67 3.27M17 3.27l5.67 3.27M22.67 13.09l0 -6.54M22.67 13.09l-5.67 3.27M22.67 13.09l5.67 3.27M28.33 22.9l0 -6.54M28.33 22.9l-5.67 3.27M28.33 22.9l5.67 3.27M34 32.72l0 -6.54M34 32.72l-5.67 3.27M34 32.72l5.67 3.27M39.66 42.53l0 -6.54M51 62.16l0 -6.54M51 62.16l-5.67 3.27M51 62.16l5.67 3.27M56.66 71.97l0 -6.54M56.66 71.97l-5.67 3.27M-22.67 -85.06l-5.67 3.27M-17 -75.24l0 -6.54M-17 -75.24l-5.67 3.27M-17 -75.24l5.67 3.27M-11.33 -65.43l0 -6.54M-11.33 -65.43l-5.67 3.27M-11.33 -65.43l5.67 3.27M-5.67 -55.62l0 -6.54M-5.67 -55.62l-5.67 3.27M-5.67 -55.62l5.67 3.27M0 -45.8l0 -6.54M0 -45.8l-5.67 3.27M0 -45.8l5.67 3.27M5.67 -35.99l0 -6.54M5.67 -35.99l-5.67 3.27M5.67 -35.99l5.67 3.27M17 -16.36l-5.67 3.27M17 -16.36l5.67 3.27M22.67 -6.54l0 -6.54M22.67 -6.54l-5.67 3.27M22.67 -6.54l5.67 3.27M28.33 3.27l0 -6.54M28.33 3.27l-5.67 3.27M28.33 3.27l5.67 3.27M34 13.09l0 -6.54M34 13.09l-5.67 3.27M34 13.09l5.67 3.27M39.66 22.9l0 -6.54M39.66 22.9l-5.67 3.27M39.66 22.9l5.67 3.27M45.33 32.72l0 -6.54M45.33 32.72l-5.67 3.27M45.33 32.72l5.67 3.27M51 42.53l0 -6.54M62.33 62.16l0 -6.54M62.33 62.16l-5.67 3.27M-5.67 -75.24l-5.67 3.27M-5.67 -75.24l5.67 3.27M0 -65.43l0 -6.54M0 -65.43l-5.67 3.27M0 -65.43l5.67 3.27M5.67 -55.62l0 -6.54M5.67 -55.62l-5.67 3.27M5.67 -55.62l5.67 3.27M11.33 -45.8l0 -6.54M11.33 -45.8l-5.67 3.27M11.33 -45.8l5.67 3.27M17 -35.99l0 -6.54M17 -35.99l-5.67 3.27M17 -35.99l5.67 3.27M28.33 -16.36l-5.67 3.27M28.33 -16.36l5.67 3.27M34 -6.54l0 -6.54M34 -6.54l-5.67 3.27M34 -6.54l5.67 3.27M39.66 3.27l0 -6.54M39.66 3.27l-5.67 3.27M39.66 3.27l5.67 3.27M45.33 13.09l0 -6.54M45.33 13.09l-5.67 3.27M45.33 13.09l5.67 3.27M51 22.9l0 -6.54M51 22.9l-5.67 3.27M51 22.9l5.67 3.27M56.66 32.72l0 -6.54M56.66 32.72l-5.67 3.27M56.66 32.72l5.67 3.27M62.33 42.53l0 -6.54M5.67 -75.24l-5.67 3.27M5.67 -75.24l5.67 3.27M11.33 -65.43l0 -6.54M11.33 -65.43l-5.67 3.27M11.33 -65.43l5.67 3.27M17 -55.62l0 -6.54M17 -55.62l-5.67 3.27M17 -55.62l5.67 3.27M22.67 -45.8l0 -6.54M22.67 -45.8l-5.67 3.27M22.67 -45.8l5.67 3.27M28.33 -35.99l0 -6.54M28.33 -35.99l-5.67 3.27M28.33 -35.99l5.67 3.27M39.66 -16.36l-5.67 3.27M39.66 -16.36l5.67 3.27M45.33 -6.54l0 -6.54M45.33 -6.54l-5.67 3.27M45.33 -6.54l5.67 3.27M51 3.27l0 -6.54M51 3.27l-5.67 3.27M51 3.27l5.67 3.27M56.66 13.09l0 -6.54M56.66 13.09l-5.67 3.27M56.66 13.09l5.67 3.27M62.33 22.9l0 -6.54M62.33 22.9l-5.67 3.27M62.33 22.9l5.67 3.27M68 32.72l0 -6.54M68 32.72l-5.67 3.27M68 32.72l5.67 3.27M73.66 42.53l0 -6.54M17 -75.24l-5.67 3.27M17 -75.24l5.67 3.27M22.67 -65.43l0 -6.54M22.67 -65.43l-5.67 3.27M22.67 -65.43l5.67 3.27M28.33 -55.62l0 -6.54M28.33 -55.62l-5.67 3.27M28.33 -55.62l5.67 3.27M34 -45.8l0 -6.54M34 -45.8l-5.67 3.27M34 -45.8l5.67 3.27M39.66 -35.99l0 -6.54M39.66 -35.99l-5.67 3.27M39.66 -35.99l5.67 3.27M51 -16.36l-5.67 3.27M51 -16.36l5.67 3.27M56.66 -6.54l0 -6.54M56.66 -6.54l-5.67 3.27M56.66 -6.54l5.67 3.27M62.33 3.27l0 -6.54M62.33 3.27l-5.67 3.27M62.33 3.27l5.67 3.27M68 13.09l0 -6.54M68 13.09l-5.67 3.27M68 13.09l5.67 3.27M73.66 22.9l0 -6.54M73.66 22.9l-5.67 3.27M73.66 22.9l5.67 3.27M79.33 32.72l0 -6.54M79.33 32.72l-5.67 3.27M28.33 -75.24l-5.67 3.27M28.33 -75.24l5.67 3.27M34 -65.43l0 -6.54M34 -65.43l-5.67 3.27M34 -65.43l5.67 3.27M39.66 -55.62l0 -6.54M39.66 -55.62l-5.67 3.27M39.66 -55.62l5.67 3.27M45.33 -45.8l0 -6.54M45.33 -45.8l-5.67 3.27M45.33 -45.8l5.67 3.27M51 -35.99l0 -6.54M51 -35.99l-5.67 3.27M51 -35.99l5.67 3.27M62.33 -16.36l-5.67 3.27M62.33 -16.36l5.67 3.27M68 -6.54l0 -6.54M68 -6.54l-5.67 3.27M68 -6.54l5.67 3.27M73.66 3.27l0 -6.54M73.66 3.27l-5.67 3.27M73.66 3.27l5.67 3.27M79.33 13.09l0 -6.54M79.33 13.09l-5.67 3.27M79.33 13.09l5.67 3.27M85 22.9l0 -6.54M85 22.9l-5.67 3.27M39.66 -75.24l-5.67 3.27M39.66 -75.24l5.67 3.27M45.33 -65.43l0 -6.54M45.33 -65.43l-5.67 3.27M45.33 -65.43l5.67 3.27M51 -55.62l0 -6.54M51 -55.62l-5.67 3.27M51 -55.62l5.67 3.27M56.66 -45.8l0 -6.54M56.66 -45.8l-5.67 3.27M56.66 -45.8l5.67 3.27M62.33 -35.99l0 -6.54M62.33 -35.99l-5.67 3.27M62.33 -35.99l5.67 3.27M68 -26.17l0 -6.54M73.66 -16.36l-5.67 3.27M73.66 -16.36l5.67 3.27M79.33 -6.54l0 -6.54M79.33 -6.54l-5.67 3.27M79.33 -6.54l5.67 3.27M85 3.27l0 -6.54M85 3.27l-5.67 3.27M85 3.27l5.67 3.27M90.66 13.09l0 -6.54M90.66 13.09l-5.67 3.27M51 -75.24l-5.67 3.27M51 -75.24l5.67 3.27M56.66 -65.43l0 -6.54M56.66 -65.43l-5.67 3.27M56.66 -65.43l5.67 3.27M62.33 -55.62l0 -6.54M62.33 -55.62l-5.67 3.27M62.33 -55.62l5.67 3.27M68 -45.8l0 -6.54M68 -45.8l-5.67 3.27M68 -45.8l5.67 3.27M73.66 -35.99l0 -6.54M73.66 -35.99l-5.67 3.27M73.66 -35.99l5.67 3.27M79.33 -26.17l0 -6.54M85 -16.36l0 -6.54M85 -16.36l-5.67 3.27M85 -16.36l5.67 3.27M90.66 -6.54l0 -6.54M90.66 -6.54l-5.67 3.27M90.66 -6.54l5.67 3.27M96.33 3.27l0 -6.54M96.33 3.27l-5.67 3.27M-96.33 -3.27l-4.09 -2.36M-96.33 3.27l-4.09 2.36M-90.66 13.09l-4.09 2.36M-85 22.9l-4.09 2.36M-73.66 42.53l-4.09 2.36M-68 52.34l-4.09 2.36M-62.33 62.16l-4.09 2.36M-56.66 71.97l-4.09 2.36M-51 81.79l-4.09 2.36M-45.33 85.06l0 4.73M-90.66 -13.09l-4.09 -2.36M-34 85.06l0 4.73M-22.67 85.06l0 4.73M-79.33 -32.72l-4.09 -2.36M-11.33 85.06l0 4.73M-73.66 -42.53l-4.09 -2.36M0 85.06l0 4.73M-68 -52.34l-4.09 -2.36M11.33 85.06l0 4.73M-62.33 -62.16l-4.09 -2.36M22.67 85.06l0 4.73M-56.66 -71.97l-4.09 -2.36M34 85.06l0 4.73M-45.33 -85.06l0 -4.73M-51 -81.79l-4.09 -2.36M45.33 85.06l0 4.73M51 81.79l4.09 2.36M-34 -85.06l0 -4.73M56.66 71.97l4.09 2.36M-22.67 -85.06l0 -4.73M62.33 62.16l4.09 2.36M68 52.34l4.09 2.36M73.66 42.53l4.09 2.36M79.33 32.72l4.09 2.36M85 22.9l4.09 2.36M90.66 13.09l4.09 2.36M56.66 -71.97l4.09 -2.36M62.33 -62.16l4.09 -2.36M68 -52.34l4.09 -2.36M73.66 -42.53l4.09 -2.36M79.33 -32.72l4.09 -2.36M90.66 -13.09l4.09 -2.36M96.33 3.27l4.09 2.36M96.33 -3.27l4.09 -2.36"/>
<path stroke-width="1.63" stroke-linecap="butt" d="M-90.66 -8.36l0 -2.91M-92.24 -5.63l-2.52 1.45M-89.09 -5.63l2.52 1.45M-96.33 1.45l0 -2.91M-94.75 4.18l2.52 1.45M-85 1.45l0 -2.91M-86.57 4.18l-2.52 1.45M-83.42 4.18l2.52 1.45M-90.66 11.27l0 -2.91M-89.09 13.99l2.52 1.45M-79.33 11.27l0 -2.91M-80.9 13.99l-2.52 1.45M-77.76 13.99l2.52 1.45M-85 21.08l0 -2.91M-83.42 23.81l2.52 1.45M-73.66 21.08l0 -2.91M-75.24 23.81l-2.52 1.45M-72.09 23.81l2.52 1.45M-73.66 40.71l0 -2.91M-62.33 40.71l0 -2.91M-62.33 60.34l0 -2.91M-60.76 63.07l2.52 1.45M-51 60.34l0 -2.91M-52.57 63.07l-2.52 1.45M-49.42 63.07l2.52 1.45M-56.66 70.16l0 -2.91M-55.09 72.88l2.52 1.45M-45.33 70.16l0 -2.91M-46.91 72.88l-2.52 1.45M-43.76 72.88l2.52 1.45M-51 79.97l0 -2.91M-49.42 82.7l2.52 1.45M-39.66 79.97l0 -2.91M-41.24 82.7l-2.52 1.45M-38.09 82.7l2.52 1.45M-85 -18.18l0 -2.91M-86.57 -15.45l-2.52 1.45M-83.42 -15.45l2.52 1.45M-79.33 -8.36l0 -2.91M-80.9 -5.63l-2.52 1.45M-77.76 -5.63l2.52 1.45M-73.66 1.45l0 -2.91M-75.24 4.18l-2.52 1.45M-72.09 4.18l2.52 1.45M-68 11.27l0 -2.91M-69.57 13.99l-2.52 1.45M-66.42 13.99l2.52 1.45M-62.33 21.08l0 -2.91M-63.9 23.81l-2.52 1.45M-60.76 23.81l2.52 1.45M-56.66 30.9l0 -2.91M-58.24 33.62l-2.52 1.45M-55.09 33.62l2.52 1.45M-51 40.71l0 -2.91M-39.66 60.34l0 -2.91M-41.24 63.07l-2.52 1.45M-38.09 63.07l2.52 1.45M-34 70.16l0 -2.91M-35.57 72.88l-2.52 1.45M-32.42 72.88l2.52 1.45M-28.33 79.97l0 -2.91M-29.91 82.7l-2.52 1.45M-26.76 82.7l2.52 1.45M-79.33 -27.99l0 -2.91M-73.66 -18.18l0 -2.91M-75.24 -15.45l-2.52 1.45M-72.09 -15.45l2.52 1.45M-68 -8.36l0 -2.91M-69.57 -5.63l-2.52 1.45M-66.42 -5.63l2.52 1.45M-62.33 1.45l0 -2.91M-63.9 4.18l-2.52 1.45M-60.76 4.18l2.52 1.45M-56.66 11.27l0 -2.91M-58.24 13.99l-2.52 1.45M-55.09 13.99l2.52 1.45M-51 21.08l0 -2.91M-52.57 23.81l-2.52 1.45M-49.42 23.81l2.52 1.45M-45.33 30.9l0 -2.91M-46.91 33.62l-2.52 1.45M-43.76 33.62l2.52 1.45M-39.66 40.71l0 -2.91M-28.33 60.34l0 -2.91M-29.91 63.07l-2.52 1.45M-26.76 63.07l2.52 1.45M-22.67 70.16l0 -2.91M-24.24 72.88l-2.52 1.45M-21.09 72.88l2.52 1.45M-17 79.97l0 -2.91M-18.57 82.7l-2.52 1.45M-15.43 82.7l2.52 1.45M-73.66 -37.8l0 -2.91M-75.24 -35.08l-2.52 1.45M-72.09 -35.08l2.52 1.45M-68 -27.99l0 -2.91M-63.9 -15.45l-2.52 1.45M-60.76 -15.45l2.52 1.45M-56.66 -8.36l0 -2.91M-58.24 -5.63l-2.52 1.45M-55.09 -5.63l2.52 1.45M-51 1.45l0 -2.91M-52.57 4.18l-2.52 1.45M-49.42 4.18l2.52 1.45M-45.33 11.27l0 -2.91M-46.91 13.99l-2.52 1.45M-43.76 13.99l2.52 1.45M-39.66 21.08l0 -2.91M-41.24 23.81l-2.52 1.45M-38.09 23.81l2.52 1.45M-34 30.9l0 -2.91M-35.57 33.62l-2.52 1.45M-32.42 33.62l2.52 1.45M-28.33 40.71l0 -2.91M-17 60.34l0 -2.91M-18.57 63.07l-2.52 1.45M-15.43 63.07l2.52 1.45M-11.33 70.16l0 -2.91M-12.91 72.88l-2.52 1.45M-9.76 72.88l2.52 1.45M-5.67 79.97l0 -2.91M-7.24 82.7l-2.52 1.45M-4.09 82.7l2.52 1.45M-68 -47.62l0 -2.91M-69.57 -44.89l-2.52 1.45M-66.42 -44.89l2.52 1.45M-62.33 -37.8l0 -2.91M-63.9 -35.08l-2.52 1.45M-60.76 -35.08l2.52 1.45M-56.66 -27.99l0 -2.91M-52.57 -15.45l-2.52 1.45M-49.42 -15.45l2.52 1.45M-45.33 -8.36l0 -2.91M-46.91 -5.63l-2.52 1.45M-43.76 -5.63l2.52 1.45M-39.66 1.45l0 -2.91M-41.24 4.18l-2.52 1.45M-38.09 4.18l2.52 1.45M-34 11.27l0 -2.91M-35.57 13.99l-2.52 1.45M-32.42 13.99l2.52 1.45M-28.33 21.08l0 -2.91M-29.91 23.81l-2.52 1.45M-26.76 23.81l2.52 1.45M-22.67 30.9l0 -2.91M-24.24 33.62l-2.52 1.45M-21.09 33.62l2.52 1.45M-17 40.71l0 -2.91M-5.67 60.34l0 -2.91M-7.24 63.07l-2.52 1.45M-4.09 63.07l2.52 1.45M0 70.16l0 -2.91M-1.57 72.88l-2.52 1.45M1.57 72.88l2.52 1.45M5.67 79.97l0 -2.91M4.09 82.7l-2.52 1.45M7.24 82.7l2.52 1.45M-62.33 -57.43l0 -2.91M-63.9 -54.71l-2.52 1.45M-60.76 -54.71l2.52 1.45M-56.66 -47.62l0 -2.91M-58.24 -44.89l-2.52 1.45M-55.09 -44.89l2.52 1.45M-51 -37.8l0 -2.91M-52.57 -35.08l-2.52 1.45M-49.42 -35.08l2.52 1.45M-41.24 -15.45l-2.52 1.45M-38.09 -15.45l2.52 1.45M-34 -8.36l0 -2.91M-35.57 -5.63l-2.52 1.45M-32.42 -5.63l2.52 1.45M-28.33 1.45l0 -2.91M-29.91 4.18l-2.52 1.45M-26.76 4.18l2.52 1.45M-22.67 11.27l0 -2.91M-24.24 13.99l-2.52 1.45M-21.09 13.99l2.52 1.45M-17 21.08l0 -2.91M-18.57 23.81l-2.52 1.45M-15.43 23.81l2.52 1.45M-11.33 30.9l0 -2.91M-12.91 33.62l-2.52 1.45M-9.76 33.62l2.52 1.45M-5.67 40.71l0 -2.91M5.67 60.34l0 -2.91M4.09 63.07l-2.52 1.45M7.24 63.07l2.52 1.45M11.33 70.16l0 -2.91M9.76 72.88l-2.52 1.45M12.91 72.88l2.52 1.45M17 79.97l0 -2.91M15.43 82.7l-2.52 1.45M18.57 82.7l2.52 1.45M-56.66 -67.25l0 -2.91M-58.24 -64.52l-2.52 1.45M-55.09 -64.52l2.52 1.45M-51 -57.43l0 -2.91M-52.57 -54.71l-2.52 1.45M-49.42 -54.71l2.52 1.45M-45.33 -47.62l0 -2.91M-46.91 -44.89l-2.52 1.45M-43.76 -44.89l2.52 1.45M-39.66 -37.8l0 -2.91M-41.24 -35.08l-2.52 1.45M-38.09 -35.08l2.52 1.45M-29.91 -15.45l-2.52 1.45M-26.76 -15.45l2.52 1.45M-22.67 -8.36l0 -2.91M-24.24 -5.63l-2.52 1.45M-21.09 -5.63l2.52 1.45M-17 1.45l0 -2.91M-18.57 4.18l-2.52 1.45M-15.43 4.18l2.52 1.45M-11.33 11.27l0 -2.91M-12.91 13.99l-2.52 1.45M-9.76 13.99l2.52 1.45M-5.67 21.08l0 -2.91M-7.24 23.81l-2.52 1.45M-4.09 23.81l2.52 1.45M0 30.9l0 -2.91M-1.57 33.62l-2.52 1.45M1.57 33.62l2.52 1.45M5.67 40.71l0 -2.91M17 60.34l0 -2.91M15.43 63.07l-2.52 1.45M18.57 63.07l2.52 1.45M22.67 70.16l0 -2.91M21.09 72.88l-2.52 1.45M24.24 72.88l2.52 1.45M28.33 79.97l0 -2.91M26.76 82.7l-2.52 1.45M29.91 82.7l2.52 1.45M-51 -77.06l0 -2.91M-52.57 -74.34l-2.52 1.45M-49.42 -74.34l2.52 1.45M-45.33 -67.25l0 -2.91M-46.91 -64.52l-2.52 1.45M-43.76 -64.52l2.52 1.45M-39.66 -57.43l0 -2.91M-41.24 -54.71l-2.52 1.45M-38.09 -54.71l2.52 1.45M-34 -47.62l0 -2.91M-35.57 -44.89l-2.52 1.45M-32.42 -44.89l2.52 1.45M-28.33 -37.8l0 -2.91M-29.91 -35.08l-2.52 1.45M-26.76 -35.08l2.52 1.45M-18.57 -15.45l-2.52 1.45M-15.43 -15.45l2.52 1.45M-11.33 -8.36l0 -2.91M-12.91 -5.63l-2.52 1.45M-9.76 -5.63l2.52 1.45M-5.67 1.45l0 -2.91M-7.24 4.18l-2.52 1.45M-4.09 4.18l2.52 1.45M0 11.27l0 -2.91M-1.57 13.99l-2.52 1.45M1.57 13.99l2.52 1.45M5.67 21.08l0 -2.91M4.09 23.81l-2.52 1.45M7.24 23.81l2.52 1.45M11.33 30.9l0 -2.91M9.76 33.62l-2.52 1.45M12.91 33.62l2.52 1.45M17 40.71l0 -2.91M28.33 60.34l0 -2.91M26.76 63.07l-2.52 1.45M29.91 63.07l2.52 1.45M34 70.16l0 -2.91M32.42 72.88l-2.52 1.45M35.57 72.88l2.52 1.45M39.66 79.97l0 -2.91M38.09 82.7l-2.52 1.45M41.24 82.7l2.52 1.45M-46.91 -84.15l-2.52 1.45M-43.76 -84.15l2.52 1.45M-39.66 -77.06l0 -2.91M-41.24 -74.34l-2.52 1.45M-38.09 -74.34l2.52 1.45M-34 -67.25l0 -2.91M-35.57 -64.52l-2.52 1.45M-32.42 -64.52l2.52 1.45M-28.33 -57.43l0 -2.91M-29.91 -54.71l-2.52 1.45M-26.76 -54.71l2.52 1.45M-22.67 -47.62l0 -2.91M-24.24 -44.89l-2.52 1.45M-21.09 -44.89l2.52 1.45M-17 -37.8l0 -2.91M-18.57 -35.08l-2.52 1.45M-15.43 -35.08l2.52 1.45M-7.24 -15.45l-2.52 1.45M-4.09 -15.45l2.52 1.45M0 -8.36l0 -2.91M-1.57 -5.63l-2.52 1.45M1.57 -5.63l2.52 1.45M5.67 1.45l0 -2.91M4.09 4.18l-2.52 1.45M7.24 4.18l2.52 1.45M11.33 11.27l0 -2.91M9.76 13.99l-2.52 1.45M12.91 13.99l2.52 1.45M17 21.08l0 -2.91M15.43 23.81l-2.52 1.45M18.57 23.81l2.52 1.45M22.67 30.9l0 -2.91M21.09 33.62l-2.52 1.45M24.24 33.62l2.52 1.45M28.33 40.71l0 -2.91M39.66 60.34l0 -2.91M38.09 63.07l-2.52 1.45M41.24 63.07l2.52 1.45M45.33 70.16l0 -2.91M43.76 72.88l-2.52 1.45M46.91 72.88l2.52 1.45M51 79.97l0 -2.91M49.42 82.7l-2.52 1.45M-35.57 -84.15l-2.52 1.45M-32.42 -84.15l2.52 1.45M-28.33 -77.06l0 -2.91M-29.91 -74.34l-2.52 1.45M-26.76 -74.34l2.52 1.45M-22.67 -67.25l0 -2.91M-24.24 -64.52l-2.52 1.45M-21.09 -64.52l2.52 1.45M-17 -57.43l0 -2.91M-18.57 -54.71l-2.52 1.45M-15.43 -54.71l2.52 1.45M-11.33 -47.62l0 -2.91M-12.91 -44.89l-2.52 1.45M-9.76 -44.89l2.52 1.45M-5.67 -37.8l0 -2.91M-7.24 -35.08l-2.52 1.45M-4.09 -35.08l2.52 1.45M4.09 -15.45l-2.52 1.45M7.24 -15.45l2.52 1.45M11.33 -8.36l0 -2.91M9.76 -5.63l-2.52 1.45M12.91 -5.63l2.52 1.45M17 1.45l0 -2.91M15.43 4.18l-2.52 1.45M18.57 4.18l2.52 1.45M22.67 11.27l0 -2.91M21.09 13.99l-2.52 1.45M24.24 13.99l2.52 1.45M28.33 21.08l0 -2.91M26.76 23.81l-2.52 1.45M29.91 23.81l2.52 1.45M34 30.9l0 -2.91M32.42 33.62l-2.52 1.45M35.57 33.62l2.52 1.45M39.66 40.71l0 -2.91M51 60.34l0 -2.91M49.42 63.07l-2.52 1.45M52.57 63.07l2.52 1.45M56.66 70.16l0 -2.91M55.09 72.88l-2.52 1.45M-24.24 -84.15l-2.52 1.45M-17 -77.06l0 -2.91M-18.57 -74.34l-2.52 1.45M-15.43 -74.34l2.52 1.45M-11.33 -67.25l0 -2.91M-12.91 -64.52l-2.52 1.45M-9.76 -64.52l2.52 1.45M-5.67 -57.43l0 -2.91M-7.24 -54.71l-2.52 1.45M-4.09 -54.71l2.52 1.45M0 -47.62l0 -2.91M-1.57 -44.89l-2.52 1.45M1.57 -44.89l2.52 1.45M5.67 -37.8l0 -2.91M4.09 -35.08l-2.52 1.45M7.24 -35.08l2.52 1.45M15.43 -15.45l-2.52 1.45M18.57 -15.45l2.52 1.45M22.67 -8.36l0 -2.91M21.09 -5.63l-2.52 1.45M24.24 -5.63l2.52 1.45M28.33 1.45l0 -2.91M26.76 4.18l-2.52 1.45M29.91 4.18l2.52 1.45M34 11.27l0 -2.91M32.42 13.99l-2.52 1.45M35.57 13.99l2.52 1.45M39.66 21.08l0 -2.91M38.09 23.81l-2.52 1.45M41.24 23.81l2.52 1.45M45.33 30.9l0 -2.91M43.76 33.62l-2.52 1.45M46.91 33.62l2.52 1.45M51 40.71l0 -2.91M62.33 60.34l0 -2.91M60.76 63.07l-2.52 1.45M-7.24 -74.34l-2.52 1.45M-4.09 -74.34l2.52 1.45M0 -67.25l0 -2.91M-1.57 -64.52l-2.52 1.45M1.57 -64.52l2.52 1.45M5.67 -57.43l0 -2.91M4.09 -54.71l-2.52 1.45M7.24 -54.71l2.52 1.45M11.33 -47.62l0 -2.91M9.76 -44.89l-2.52 1.45M12.91 -44.89l2.52 1.45M17 -37.8l0 -2.91M15.43 -35.08l-2.52 1.45M18.57 -35.08l2.52 1.45M26.76 -15.45l-2.52 1.45M29.91 -15.45l2.52 1.45M34 -8.36l0 -2.91M32.42 -5.63l-2.52 1.45M35.57 -5.63l2.52 1.45M39.66 1.45l0 -2.91M38.09 4.18l-2.52 1.45M41.24 4.18l2.52 1.45M45.33 11.27l0 -2.91M43.76 13.99l-2.52 1.45M46.91 13.99l2.52 1.45M51 21.08l0 -2.91M49.42 23.81l-2.52 1.45M52.57 23.81l2.52 1.45M56.66 30.9l0 -2.91M55.09 33.62l-2.52 1.45M58.24 33.62l2.52 1.45M62.33 40.71l0 -2.91M4.09 -74.34l-2.52 1.45M7.24 -74.34l2.52 1.45M11.33 -67.25l0 -2.91M9.76 -64.52l-2.52 1.45M12.91 -64.52l2.52 1.45M17 -57.43l0 -2.91M15.43 -54.71l-2.52 1.45M18.57 -54.71l2.52 1.45M22.67 -47.62l0 -2.91M21.09 -44.89l-2.52 1.45M24.24 -44.89l2.52 1.45M28.33 -37.8l0 -2.91M26.76 -35.08l-2.52 1.45M29.91 -35.08l2.52 1.45M38.09 -15.45l-2.52 1.45M41.24 -15.45l2.52 1.45M45.33 -8.36l0 -2.91M43.76 -5.63l-2.52 1.45M46.91 -5.63l2.52 1.45M51 1.45l0 -2.91M49.42 4.18l-2.52 1.45M52.57 4.18l2.52 1.45M56.66 11.27l0 -2.91M55.09 13.99l-2.52 1.45M58.24 13.99l2.52 1.45M62.33 21.08l0 -2.91M60.76 23.81l-2.52 1.45M63.9 23.81l2.52 1.45M68 30.9l0 -2.91M66.42 33.62l-2.52 1.45M69.57 33.62l2.52 1.45M73.66 40.71l0 -2.91M15.43 -74.34l-2.52 1.45M18.57 -74.34l2.52 1.45M22.67 -67.25l0 -2.91M21.09 -64.52l-2.52 1.45M24.24 -64.52l2.52 1.45M28.33 -57.43l0 -2.91M26.76 -54.71l-2.52 1.45M29.91 -54.71l2.52 1.45M34 -47.62l0 -2.91M32.42 -44.89l-2.52 1.45M35.57 -44.89l2.52 1.45M39.66 -37.8l0 -2.91M38.09 -35.08l-2.52 1.45M41.24 -35.08l2.52 1.45M49.42 -15.45l-2.52 1.45M52.57 -15.45l2.52 1.45M56.66 -8.36l0 -2.91M55.09 -5.63l-2.52 1.45M58.24 -5.63l2.52 1.45M62.33 1.45l0 -2.91M60.76 4.18l-2.52 1.45M63.9 4.18l2.52 1.45M68 11.27l0 -2.91M66.42 13.99l-2.52 1.45M69.57 13.99l2.52 1.45M73.66 21.08l0 -2.91M72.09 23.81l-2.52 1.45M75.24 23.81l2.52 1.45M79.33 30.9l0 -2.91M77.76 33.62l-2.52 1.45M26.76 -74.34l-2.52 1.45M29.91 -74.34l2.52 1.45M34 -67.25l0 -2.91M32.42 -64.52l-2.52 1.45M35.57 -64.52l2.52 1.45M39.66 -57.43l0 -2.91M38.09 -54.71l-2.52 1.45M41.24 -54.71l2.52 1.45M45.33 -47.62l0 -2.91M43.76 -44.89l-2.52 1.45M46.91 -44.89l2.52 1.45M51 -37.8l0 -2.91M49.42 -35.08l-2.52 1.45M52.57 -35.08l2.52 1.45M60.76 -15.45l-2.52 1.45M63.9 -15.45l2.52 1.45M68 -8.36l0 -2.91M66.42 -5.63l-2.52 1.45M69.57 -5.63l2.52 1.45M73.66 1.45l0 -2.91M72.09 4.18l-2.52 1.45M75.24 4.18l2.52 1.45M79.33 11.27l0 -2.91M77.76 13.99l-2.52 1.45M80.9 13.99l2.52 1.45M85 21.08l0 -2.91M83.42 23.81l-2.52 1.45M38.09 -74.34l-2.52 1.45M41.24 -74.34l2.52 1.45M45.33 -67.25l0 -2.91M43.76 -64.52l-2.52 1.45M46.91 -64.52l2.52 1.45M51 -57.43l0 -2.91M49.42 -54.71l-2.52 1.45M52.57 -54.71l2.52 1.45M56.66 -47.62l0 -2.91M55.09 -44.89l-2.52 1.45M58.24 -44.89l2.52 1.45M62.33 -37.8l0 -2.91M60.76 -35.08l-2.52 1.45M63.9 -35.08l2.52 1.45M68 -27.99l0 -2.91M72.09 -15.45l-2.52 1.45M75.24 -15.45l2.52 1.45M79.33 -8.36l0 -2.91M77.76 -5.63l-2.52 1.45M80.9 -5.63l2.52 1.45M85 1.45l0 -2.91M83.42 4.18l-2.52 1.45M86.57 4.18l2.52 1.45M90.66 11.27l0 -2.91M89.09 13.99l-2.52 1.45M49.42 -74.34l-2.52 1.45M52.57 -74.34l2.52 1.45M56.66 -67.25l0 -2.91M55.09 -64.52l-2.52 1.45M58.24 -64.52l2.52 1.45M62.33 -57.43l0 -2.91M60.76 -54.71l-2.52 1.45M63.9 -54.71l2.52 1.45M68 -47.62l0 -2.91M66.42 -44.89l-2.52 1.45M69.57 -44.89l2.52 1.45M73.66 -37.8l0 -2.91M72.09 -35.08l-2.52 1.45M75.24 -35.08l2.52 1.45M79.33 -27.99l0 -2.91M85 -18.18l0 -2.91M83.42 -15.45l-2.52 1.45M86.57 -15.45l2.52 1.45M90.66 -8.36l0 -2.91M89.09 -5.63l-2.52 1.45M92.24 -5.63l2.52 1.45M96.33 1.45l0 -2.91M94.75 4.18l-2.52 1.45M-97.9 -4.18l-2.52 -1.45M-97.9 4.18l-2.52 1.45M-92.24 13.99l-2.52 1.45M-86.57 23.81l-2.52 1.45M-75.24 43.44l-2.52 1.45M-69.57 53.25l-2.52 1.45M-63.9 63.07l-2.52 1.45M-58.24 72.88l-2.52 1.45M-52.57 82.7l-2.52 1.45M-45.33 86.88l0 2.91M-92.24 -13.99l-2.52 -1.45M-34 86.88l0 2.91M-22.67 86.88l0 2.91M-80.9 -33.62l-2.52 -1.45M-11.33 86.88l0 2.91M-75.24 -43.44l-2.52 -1.45M0 86.88l0 2.91M-69.57 -53.25l-2.52 -1.45M11.33 86.88l0 2.91M-63.9 -63.07l-2.52 -1.45M22.67 86.88l0 2.91M-58.24 -72.88l-2.52 -1.45M34 86.88l0 2.91M-45.33 -86.88l0 -2.91M-52.57 -82.7l-2.52 -1.45M45.33 86.88l0 2.91M52.57 82.7l2.52 1.45M-34 -86.88l0 -2.91M58.24 72.88l2.52 1.45M-22.67 -86.88l0 -2.91M63.9 63.07l2.52 1.45M69.57 53.25l2.52 1.45M75.24 43.44l2.52 1.45M80.9 33.62l2.52 1.45M86.57 23.81l2.52 1.45M92.24 13.99l2.52 1.45M58.24 -72.88l2.52 -1.45M63.9 -63.07l2.52 -1.45M69.57 -53.25l2.52 -1.45M75.24 -43.44l2.52 -1.45M80.9 -33.62l2.52 -1.45M92.24 -13.99l2.52 -1.45M97.9 4.18l2.52 1.45M97.9 -4.18l2.52 -1.45"/>
<path stroke-width="2.58" stroke-linecap="butt" d="M-90.66 -8.94l0 -1.74M-92.74 -5.34l-1.51 0.87M-88.58 -5.34l1.51 0.87M-96.33 0.87l0 -1.74M-94.25 4.47l1.51 0.87M-85 0.87l0 -1.74M-87.07 4.47l-1.51 0.87M-82.92 4.47l1.51 0.87M-90.66 10.69l0 -1.74M-88.58 14.29l1.51 0.87M-79.33 10.69l0 -1.74M-81.41 14.29l-1.51 0.87M-77.25 14.29l1.51 0.87M-85 20.5l0 -1.74M-82.92 24.1l1.51 0.87M-73.66 20.5l0 -1.74M-75.74 24.1l-1.51 0.87M-71.59 24.1l1.51 0.87M-73.66 40.13l0 -1.74M-62.33 40.13l0 -1.74M-62.33 59.76l0 -1.74M-60.25 63.36l1.51 0.87M-51 59.76l0 -1.74M-53.08 63.36l-1.51 0.87M-48.92 63.36l1.51 0.87M-56.66 69.57l0 -1.74M-54.59 73.17l1.51 0.87M-45.33 69.57l0 -1.74M-47.41 73.17l-1.51 0.87M-43.25 73.17l1.51 0.87M-51 79.39l0 -1.74M-48.92 82.99l1.51 0.87M-39.66 79.39l0 -1.74M-41.74 82.99l-1.51 0.87M-37.59 82.99l1.51 0.87M-85 -18.76l0 -1.74M-87.07 -15.16l-1.51 0.87M-82.92 -15.16l1.51 0.87M-79.33 -8.94l0 -1.74M-81.41 -5.34l-1.51 0.87M-77.25 -5.34l1.51 0.87M-73.66 0.87l0 -1.74M-75.74 4.47l-1.51 0.87M-71.59 4.47l1.51 0.87M-68 10.69l0 -1.74M-70.07 14.29l-1.51 0.87M-65.92 14.29l1.51 0.87M-62.33 20.5l0 -1.74M-64.41 24.1l-1.51 0.87M-60.25 24.1l1.51 0.87M-56.66 30.32l0 -1.74M-58.74 33.91l-1.51 0.87M-54.59 33.91l1.51 0.87M-51 40.13l0 -1.74M-39.66 59.76l0 -1.74M-41.74 63.36l-1.51 0.87M-37.59 63.36l1.51 0.87M-34 69.57l0 -1.74M-36.08 73.17l-1.51 0.87M-31.92 73.17l1.51 0.87M-28.33 79.39l0 -1.74M-30.41 82.99l-1.51 0.87M-26.25 82.99l1.51 0.87M-79.33 -28.57l0 -1.74M-73.66 -18.76l0 -1.74M-75.74 -15.16l-1.51 0.87M-71.59 -15.16l1.51 0.87M-68 -8.94l0 -1.74M-70.07 -5.34l-1.51 0.87M-65.92 -5.34l1.51 0.87M-62.33 0.87l0 -1.74M-64.41 4.47l-1.51 0.87M-60.25 4.47l1.51 0.87M-56.66 10.69l0 -1.74M-58.74 14.29l-1.51 0.87M-54.59 14.29l1.51 0.87M-51 20.5l0 -1.74M-53.08 24.1l-1.51 0.87M-48.92 24.1l1.51 0.87M-45.33 30.32l0 -1.74M-47.41 33.91l-1.51 0.87M-43.25 33.91l1.51 0.87M-39.66 40.13l0 -1.74M-28.33 59.76l0 -1.74M-30.41 63.36l-1.51 0.87M-26.25 63.36l1.51 0.87M-22.67 69.57l0 -1.74M-24.74 73.17l-1.51 0.87M-20.59 73.17l1.51 0.87M-17 79.39l0 -1.74M-19.08 82.99l-1.51 0.87M-14.92 82.99l1.51 0.87M-73.66 -38.39l0 -1.74M-75.74 -34.79l-1.51 0.87M-71.59 -34.79l1.51 0.87M-68 -28.57l0 -1.74M-64.41 -15.16l-1.51 0.87M-60.25 -15.16l1.51 0.87M-56.66 -8.94l0 -1.74M-58.74 -5.34l-1.51 0.87M-54.59 -5.34l1.51 0.87M-51 0.87l0 -1.74M-53.08 4.47l-1.51 0.87M-48.92 4.47l1.51 0.87M-45.33 10.69l0 -1.74M-47.41 14.29l-1.51 0.87M-43.25 14.29l1.51 0.87M-39.66 20.5l0 -1.74M-41.74 24.1l-1.51 0.87M-37.59 24.1l1.51 0.87M-34 30.32l0 -1.74M-36.08 33.91l-1.51 0.87M-31.92 33.91l1.51 0.87M-28.33 40.13l0 -1.74M-17 59.76l0 -1.74M-19.08 63.36l-1.51 0.87M-14.92 63.36l1.51 0.87M-11.33 69.57l0 -1.74M-13.41 73.17l-1.51 0.87M-9.26 73.17l1.51 0.87M-5.67 79.39l0 -1.74M-7.74 82.99l-1.51 0.87M-3.59 82.99l1.51 0.87M-68 -48.2l0 -1.74M-70.07 -44.6l-1.51 0.87M-65.92 -44.6l1.51 0.87M-62.33 -38.39l0 -1.74M-64.41 -34.79l-1.51 0.87M-60.25 -34.79l1.51 0.87M-56.66 -28.57l0 -1.74M-53.08 -15.16l-1.51 0.87M-48.92 -15.16l1.51 0.87M-45.33 -8.94l0 -1.74M-47.41 -5.34l-1.51 0.87M-43.25 -5.34l1.51 0.87M-39.66 0.87l0 -1.74M-41.74 4.47l-1.51 0.87M-37.59 4.47l1.51 0.87M-34 10.69l0 -1.74M-36.08 14.29l-1.51 0.87M-31.92 14.29l1.51 0.87M-28.33 20.5l0 -1.74M-30.41 24.1l-1.51 0.87M-26.25 24.1l1.51 0.87M-22.67 30.32l0 -1.74M-24.74 33.91l-1.51 0.87M-20.59 33.91l1.51 0.87M-17 40.13l0 -1.74M-5.67 59.76l0 -1.74M-7.74 63.36l-1.51 0.87M-3.59 63.36l1.51 0.87M0 69.57l0 -1.74M-2.08 73.17l-1.51 0.87M2.08 73.17l1.51 0.87M5.67 79.39l0 -1.74M3.59 82.99l-1.51 0.87M7.74 82.99l1.51 0.87M-62.33 -58.01l0 -1.74M-64.41 -54.42l-1.51 0.87M-60.25 -54.42l1.51 0.87M-56.66 -48.2l0 -1.74M-58.74 -44.6l-1.51 0.87M-54.59 -44.6l1.51 0.87M-51 -38.39l0 -1.74M-53.08 -34.79l-1.51 0.87M-48.92 -34.79l1.51 0.87M-41.74 -15.16l-1.51 0.87M-37.59 -15.16l1.51 0.87M-34 -8.94l0 -1.74M-36.08 -5.34l-1.51 0.87M-31.92 -5.34l1.51 0.87M-28.33 0.87l0 -1.74M-30.41 4.47l-1.51 0.87M-26.25 4.47l1.51 0.87M-22.67 10.69l0 -1.74M-24.74 14.29l-1.51 0.87M-20.59 14.29l1.51 0.87M-17 20.5l0 -1.74M-19.08 24.1l-1.51 0.87M-14.92 24.1l1.51 0.87M-11.33 30.32l0 -1.74M-13.41 33.91l-1.51 0.87M-9.26 33.91l1.51 0.87M-5.67 40.13l0 -1.74M5.67 59.76l0 -1.74M3.59 63.36l-1.51 0.87M7.74 63.36l1.51 0.87M11.33 69.57l0 -1.74M9.26 73.17l-1.51 0.87M13.41 73.17l1.51 0.87M17 79.39l0 -1.74M14.92 82.99l-1.51 0.87M19.08 82.99l1.51 0.87M-56.66 -67.83l0 -1.74M-58.74 -64.23l-1.51 0.87M-54.59 -64.23l1.51 0.87M-51 -58.01l0 -1.74M-53.08 -54.42l-1.51 0.87M-48.92 -54.42l1.51 0.87M-45.33 -48.2l0 -1.74M-47.41 -44.6l-1.51 0.87M-43.25 -44.6l1.51 0.87M-39.66 -38.39l0 -1.74M-41.74 -34.79l-1.51 0.87M-37.59 -34.79l1.51 0.87M-30.41 -15.16l-1.51 0.87M-26.25 -15.16l1.51 0.87M-22.67 -8.94l0 -1.74M-24.74 -5.34l-1.51 0.87M-20.59 -5.34l1.51 0.87M-17 0.87l0 -1.74M-19.08 4.47l-1.51 0.87M-14.92 4.47l1.51 0.87M-11.33 10.69l0 -1.74M-13.41 14.29l-1.51 0.87M-9.26 14.29l1.51 0.87M-5.67 20.5l0 -1.74M-7.74 24.1l-1.51 0.87M-3.59 24.1l1.51 0.87M0 30.32l0 -1.74M-2.08 33.91l-1.51 0.87M2.08 33.91l1.51 0.87M5.67 40.13l0 -1.74M17 59.76l0 -1.74M14.92 63.36l-1.51 0.87M19.08 63.36l1.51 0.87M22.67 69.57l0 -1.74M20.59 73.17l-1.51 0.87M24.74 73.17l1.51 0.87M28.33 79.39l0 -1.74M26.25 82.99l-1.51 0.87M30.41 82.99l1.51 0.87M-51 -77.64l0 -1.74M-53.08 -74.04l-1.51 0.87M-48.92 -74.04l1.51 0.87M-45.33 -67.83l0 -1.74M-47.41 -64.23l-1.51 0.87M-43.25 -64.23l1.51 0.87M-39.66 -58.01l0 -1.74M-41.74 -54.42l-1.51 0.87M-37.59 -54.42l1.51 0.87M-34 -48.2l0 -1.74M-36.08 -44.6l-1.51 0.87M-31.92 -44.6l1.51 0.87M-28.33 -38.39l0 -1.74M-30.41 -34.79l-1.51 0.87M-26.25 -34.79l1.51 0.87M-19.08 -15.16l-1.51 0.87M-14.92 -15.16l1.51 0.87M-11.33 -8.94l0 -1.74M-13.41 -5.34l-1.51 0.87M-9.26 -5.34l1.51 0.87M-5.67 0.87l0 -1.74M-7.74 4.47l-1.51 0.87M-3.59 4.47l1.51 0.87M0 10.69l0 -1.74M-2.08 14.29l-1.51 0.87M2.08 14.29l1.51 0.87M5.67 20.5l0 -1.74M3.59 24.1l-1.51 0.87M7.74 24.1l1.51 0.87M11.33 30.32l0 -1.74M9.26 33.91l-1.51 0.87M13.41 33.91l1.51 0.87M17 40.13l0 -1.74M28.33 59.76l0 -1.74M26.25 63.36l-1.51 0.87M30.41 63.36l1.51 0.87M34 69.57l0 -1.74M31.92 73.17l-1.51 0.87M36.08 73.17l1.51 0.87M39.66 79.39l0 -1.74M37.59 82.99l-1.51 0.87M41.74 82.99l1.51 0.87M-47.41 -83.86l-1.51 0.87M-43.25 -83.86l1.51 0.87M-39.66 -77.64l0 -1.74M-41.74 -74.04l-1.51 0.87M-37.59 -74.04l1.51 0.87M-34 -67.83l0 -1.74M-36.08 -64.23l-1.51 0.87M-31.92 -64.23l1.51 0.87M-28.33 -58.01l0 -1.74M-30.41 -54.42l-1.51 0.87M-26.25 -54.42l1.51 0.87M-22.67 -48.2l0 -1.74M-24.74 -44.6l-1.51 0.87M-20.59 -44.6l1.51 0.87M-17 -38.39l0 -1.74M-19.08 -34.79l-1.51 0.87M-14.92 -34.79l1.51 0.87M-7.74 -15.16l-1.51 0.87M-3.59 -15.16l1.51 0.87M0 -8.94l0 -1.74M-2.08 -5.34l-1.51 0.87M2.08 -5.34l1.51 0.87M5.67 0.87l0 -1.74M3.59 4.47l-1.51 0.87M7.74 4.47l1.51 0.87M11.33 10.69l0 -1.74M9.26 14.29l-1.51 0.87M13.41 14.29l1.51 0.87M17 20.5l0 -1.74M14.92 24.1l-1.51 0.87M19.08 24.1l1.51 0.87M22.67 30.32l0 -1.74M20.59 33.91l-1.51 0.87M24.74 33.91l1.51 0.87M28.33 40.13l0 -1.74M39.66 59.76l0 -1.74M37.59 63.36l-1.51 0.87M41.74 63.36l1.51 0.87M45.33 69.57l0 -1.74M43.25 73.17l-1.51 0.87M47.41 73.17l1.51 0.87M51 79.39l0 -1.74M48.92 82.99l-1.51 0.87M-36.08 -83.86l-1.51 0.87M-31.92 -83.86l1.51 0.87M-28.33 -77.64l0 -1.74M-30.41 -74.04l-1.51 0.87M-26.25 -74.04l1.51 0.87M-22.67 -67.83l0 -1.74M-24.74 -64.23l-1.51 0.87M-20.59 -64.23l1.51 0.87M-17 -58.01l0 -1.74M-19.08 -54.42l-1.51 0.87M-14.92 -54.42l1.51 0.87M-11.33 -48.2l0 -1.74M-13.41 -44.6l-1.51 0.87M-9.26 -44.6l1.51 0.87M-5.67 -38.39l0 -1.74M-7.74 -34.79l-1.51 0.87M-3.59 -34.79l1.51 0.87M3.59 -15.16l-1.51 0.87M7.74 -15.16l1.51 0.87M11.33 -8.94l0 -1.74M9.26 -5.34l-1.51 0.87M13.41 -5.34l1.51 0.87M17 0.87l0 -1.74M14.92 4.47l-1.51 0.87M19.08 4.47l1.51 0.87M22.67 10.69l0 -1.74M20.59 14.29l-1.51 0.87M24.74 14.29l1.51 0.87M28.33 20.5l0 -1.74M26.25 24.1l-1.51 0.87M30.41 24.1l1.51 0.87M34 30.32l0 -1.74M31.92 33.91l-1.51 0.87M36.08 33.91l1.51 0.87M39.66 40.13l0 -1.74M51 59.76l0 -1.74M48.92 63.36l-1.51 0.87M53.08 63.36l1.51 0.87M56.66 69.57l0 -1.74M54.59 73.17l-1.51 0.87M-24.74 -83.86l-1.51 0.87M-17 -77.64l0 -1.74M-19.08 -74.04l-1.51 0.87M-14.92 -74.04l1.51 0.87M-11.33 -67.83l0 -1.74M-13.41 -64.23l-1.51 0.87M-9.26 -64.23l1.51 0.87M-5.67 -58.01l0 -1.74M-7.74 -54.42l-1.51 0.87M-3.59 -54.42l1.51 0.87M0 -48.2l0 -1.74M-2.08 -44.6l-1.51 0.87M2.08 -44.6l1.51 0.87M5.67 -38.39l0 -1.74M3.59 -34.79l-1.51 0.87M7.74 -34.79l1.51 0.87M14.92 -15.16l-1.51 0.87M19.08 -15.16l1.51 0.87M22.67 -8.94l0 -1.74M20.59 -5.34l-1.51 0.87M24.74 -5.34l1.51 0.87M28.33 0.87l0 -1.74M26.25 4.47l-1.51 0.87M30.41 4.47l1.51 0.87M34 10.69l0 -1.74M31.92 14.29l-1.51 0.87M36.08 14.29l1.51 0.87M39.66 20.5l0 -1.74M37.59 24.1l-1.51 0.87M41.74 24.1l1.51 0.87M45.33 30.32l0 -1.74M43.25 33.91l-1.51 0.87M47.41 33.91l1.51 0.87M51 40.13l0 -1.74M62.33 59.76l0 -1.74M60.25 63.36l-1.51 0.87M-7.74 -74.04l-1.51 0.87M-3.59 -74.04l1.51 0.87M0 -67.83l0 -1.74M-2.08 -64.23l-1.51 0.87M2.08 -64.23l1.51 0.87M5.67 -58.01l0 -1.74M3.59 -54.42l-1.51 0.87M7.74 -54.42l1.51 0.87M11.33 -48.2l0 -1.74M9.26 -44.6l-1.51 0.87M13.41 -44.6l1.51 0.87M17 -38.39l0 -1.74M14.92 -34.79l-1.51 0.87M19.08 -34.79l1.51 0.87M26.25 -15.16l-1.51 0.87M30.41 -15.16l1.51 0.87M34 -8.94l0 -1.74M31.92 -5.34l-1.51 0.87M36.08 -5.34l1.51 0.87M39.66 0.87l0 -1.74M37.59 4.47l-1.51 0.87M41.74 4.47l1.51 0.87M45.33 10.69l0 -1.74M43.25 14.29l-1.51 0.87M47.41 14.29l1.51 0.87M51 20.5l0 -1.74M48.92 24.1l-1.51 0.87M53.08 24.1l1.51 0.87M56.66 30.32l0 -1.74M54.59 33.91l-1.51 0.87M58.74 33.91l1.51 0.87M62.33 40.13l0 -1.74M3.59 -74.04l-1.51 0.87M7.74 -74.04l1.51 0.87M11.33 -67.83l0 -1.74M9.26 -64.23l-1.51 0.87M13.41 -64.23l1.51 0.87M17 -58.01l0 -1.74M14.92 -54.42l-1.51 0.87M19.08 -54.42l1.51 0.87M22.67 -48.2l0 -1.74M20.59 -44.6l-1.51 0.87M24.74 -44.6l1.51 0.87M28.33 -38.39l0 -1.74M26.25 -34.79l-1.51 0.87M30.41 -34.79l1.51 0.87M37.59 -15.16l-1.51 0.87M41.74 -15.16l1.51 0.87M45.33 -8.94l0 -1.74M43.25 -5.34l-1.51 0.87M47.41 -5.34l1.51 0.87M51 0.87l0 -1.74M48.92 4.47l-1.51 0.87M53.08 4.47l1.51 0.87M56.66 10.69l0 -1.74M54.59 14.29l-1.51 0.87M58.74 14.29l1.51 0.87M62.33 20.5l0 -1.74M60.25 24.1l-1.51 0.87M64.41 24.1l1.51 0.87M68 30.32l0 -1.74M65.92 33.91l-1.51 0.87M70.07 33.91l1.51 0.87M73.66 40.13l0 -1.74M14.92 -74.04l-1.51 0.87M19.08 -74.04l1.51 0.87M22.67 -67.83l0 -1.74M20.59 -64.23l-1.51 0.87M24.74 -64.23l1.51 0.87M28.33 -58.01l0 -1.74M26.25 -54.42l-1.51 0.87M30.41 -54.42l1.51 0.87M34 -48.2l0 -1.74M31.92 -44.6l-1.51 0.87M36.08 -44.6l1.51 0.87M39.66 -38.39l0 -1.74M37.59 -34.79l-1.51 0.87M41.74 -34.79l1.51 0.87M48.92 -15.16l-1.51 0.87M53.08 -15.16l1.51 0.87M56.66 -8.94l0 -1.74M54.59 -5.34l-1.51 0.87M58.74 -5.34l1.51 0.87M62.33 0.87l0 -1.74M60.25 4.47l-1.51 0.87M64.41 4.47l1.51 0.87M68 10.69l0 -1.74M65.92 14.29l-1.51 0.87M70.07 14.29l1.51 0.87M73.66 20.5l0 -1.74M71.59 24.1l-1.51 0.87M75.74 24.1l1.51 0.87M79.33 30.32l0 -1.74M77.25 33.91l-1.51 0.87M26.25 -74.04l-1.51 0.87M30.41 -74.04l1.51 0.87M34 -67.83l0 -1.74M31.92 -64.23l-1.51 0.87M36.08 -64.23l1.51 0.87M39.66 -58.01l0 -1.74M37.59 -54.42l-1.51 0.87M41.74 -54.42l1.51 0.87M45.33 -48.2l0 -1.74M43.25 -44.6l-1.51 0.87M47.41 -44.6l1.51 0.87M51 -38.39l0 -1.74M48.92 -34.79l-1.51 0.87M53.08 -34.79l1.51 0.87M60.25 -15.16l-1.51 0.87M64.41 -15.16l1.51 0.87M68 -8.94l0 -1.74M65.92 -5.34l-1.51 0.87M70.07 -5.34l1.51 0.87M73.66 0.87l0 -1.74M71.59 4.47l-1.51 0.87M75.74 4.47l1.51 0.87M79.33 10.69l0 -1.74M77.25 14.29l-1.51 0.87M81.41 14.29l1.51 0.87M85 20.5l0 -1.74M82.92 24.1l-1.51 0.87M37.59 -74.04l-1.51 0.87M41.74 -74.04l1.51 0.87M45.33 -67.83l0 -1.74M43.25 -64.23l-1.51 0.87M47.41 -64.23l1.51 0.87M51 -58.01l0 -1.74M48.92 -54.42l-1.51 0.87M53.08 -54.42l1.51 0.87M56.66 -48.2l0 -1.74M54.59 -44.6l-1.51 0.87M58.74 -44.6l1.51 0.87M62.33 -38.39l0 -1.74M60.25 -34.79l-1.51 0.87M64.41 -34.79l1.51 0.87M68 -28.57l0 -1.74M71.59 -15.16l-1.51 0.87M75.74 -15.16l1.51 0.87M79.33 -8.94l0 -1.74M77.25 -5.34l-1.51 0.87M81.41 -5.34l1.51 0.87M85 0.87l0 -1.74M82.92 4.47l-1.51 0.87M87.07 4.47l1.51 0.87M90.66 10.69l0 -1.74M88.58 14.29l-1.51 0.87M48.92 -74.04l-1.51 0.87M53.08 -74.04l1.51 0.87M56.66 -67.83l0 -1.74M54.59 -64.23l-1.51 0.87M58.74 -64.23l1.51 0.87M62.33 -58.01l0 -1.74M60.25 -54.42l-1.51 0.87M64.41 -54.42l1.51 0.87M68 -48.2l0 -1.74M65.92 -44.6l-1.51 0.87M70.07 -44.6l1.51 0.87M73.66 -38.39l0 -1.74M71.59 -34.79l-1.51 0.87M75.74 -34.79l1.51 0.87M79.33 -28.57l0 -1.74M85 -18.76l0 -1.74M82.92 -15.16l-1.51 0.87M87.07 -15.16l1.51 0.87M90.66 -8.94l0 -1.74M88.58 -5.34l-1.51 0.87M92.74 -5.34l1.51 0.87M96.33 0.87l0 -1.74M94.25 4.47l-1.51 0.87M-98.41 -4.47l-1.51 -0.87M-98.41 4.47l-1.51 0.87M-92.74 14.29l-1.51 0.87M-87.07 24.1l-1.51 0.87M-75.74 43.73l-1.51 0.87M-70.07 53.54l-1.51 0.87M-64.41 63.36l-1.51 0.87M-58.74 73.17l-1.51 0.87M-53.08 82.99l-1.51 0.87M-45.33 87.46l0 1.74M-92.74 -14.29l-1.51 -0.87M-34 87.46l0 1.74M-22.67 87.46l0 1.74M-81.41 -33.91l-1.51 -0.87M-11.33 87.46l0 1.74M-75.74 -43.73l-1.51 -0.87M0 87.46l0 1.74M-70.07 -53.54l-1.51 -0.87M11.33 87.46l0 1.74M-64.41 -63.36l-1.51 -0.87M22.67 87.46l0 1.74M-58.74 -73.17l-1.51 -0.87M34 87.46l0 1.74M-45.33 -87.46l0 -1.74M-53.08 -82.99l-1.51 -0.87M45.33 87.46l0 1.74M53.08 82.99l1.51 0.87M-34 -87.46l0 -1.74M58.74 73.17l1.51 0.87M-22.67 -87.46l0 -1.74M64.41 63.36l1.51 0.87M70.07 53.54l1.51 0.87M75.74 43.73l1.51 0.87M81.41 33.91l1.51 0.87M87.07 24.1l1.51 0.87M92.74 14.29l1.51 0.87M58.74 -73.17l1.51 -0.87M64.41 -63.36l1.51 -0.87M70.07 -53.54l1.51 -0.87M75.74 -43.73l1.51 -0.87M81.41 -33.91l1.51 -0.87M92.74 -14.29l1.51 -0.87M98.41 4.47l1.51 0.87M98.41 -4.47l1.51 -0.87"/>
<path stroke-width="1.89" d="M-90.66 -6.54h0M-96.33 -3.27h0M-96.33 3.27h0M-90.66 6.54h0M-85 3.27h0M-85 -3.27h0M-90.66 13.09h0M-85 16.36h0M-79.33 13.09h0M-79.33 6.54h0M-85 22.9h0M-79.33 26.17h0M-73.66 22.9h0M-73.66 16.36h0M-68 26.17h0M-73.66 42.53h0M-62.33 42.53h0M-62.33 35.99h0M-62.33 55.62h0M-62.33 62.16h0M-56.66 65.43h0M-51 62.16h0M-51 55.62h0M-56.66 71.97h0M-51 75.24h0M-45.33 71.97h0M-45.33 65.43h0M-51 81.79h0M-45.33 85.06h0M-39.66 81.79h0M-39.66 75.24h0M-85 -16.36h0M-90.66 -13.09h0M-79.33 -6.54h0M-79.33 -13.09h0M-73.66 3.27h0M-73.66 -3.27h0M-68 13.09h0M-68 6.54h0M-62.33 22.9h0M-62.33 16.36h0M-56.66 32.72h0M-56.66 26.17h0M-51 42.53h0M-51 35.99h0M-39.66 62.16h0M-34 71.97h0M-34 65.43h0M-34 85.06h0M-28.33 81.79h0M-28.33 75.24h0M-73.66 -16.36h0M-68 -6.54h0M-68 -13.09h0M-62.33 3.27h0M-62.33 -3.27h0M-56.66 13.09h0M-56.66 6.54h0M-51 22.9h0M-51 16.36h0M-45.33 32.72h0M-45.33 26.17h0M-39.66 35.99h0M-28.33 62.16h0M-22.67 71.97h0M-22.67 65.43h0M-22.67 85.06h0M-17 81.79h0M-17 75.24h0M-73.66 -35.99h0M-79.33 -32.72h0M-68 -32.72h0M-62.33 -16.36h0M-56.66 -6.54h0M-56.66 -13.09h0M-51 3.27h0M-51 -3.27h0M-45.33 13.09h0M-45.33 6.54h0M-39.66 22.9h0M-39.66 16.36h0M-34 32.72h0M-34 26.17h0M-28.33 35.99h0M-17 62.16h0M-11.33 71.97h0M-11.33 65.43h0M-11.33 85.06h0M-5.67 81.79h0M-5.67 75.24h0M-68 -45.8h0M-73.66 -42.53h0M-62.33 -35.99h0M-62.33 -42.53h0M-56.66 -32.72h0M-51 -16.36h0M-45.33 -6.54h0M-45.33 -13.09h0M-39.66 3.27h0M-39.66 -3.27h0M-34 13.09h0M-34 6.54h0M-28.33 22.9h0M-28.33 16.36h0M-22.67 32.72h0M-22.67 26.17h0M-17 35.99h0M-5.67 62.16h0M0 71.97h0M0 65.43h0M0 85.06h0M5.67 81.79h0M5.67 75.24h0M-62.33 -55.62h0M-68 -52.34h0M-56.66 -45.8h0M-56.66 -52.34h0M-51 -35.99h0M-51 -42.53h0M-45.33 -32.72h0M-39.66 -16.36h0M-34 -6.54h0M-34 -13.09h0M-28.33 3.27h0M-28.33 -3.27h0M-22.67 13.09h0M-22.67 6.54h0M-17 22.9h0M-17 16.36h0M-11.33 32.72h0M-11.33 26.17h0M-5.67 35.99h0M5.67 62.16h0M11.33 71.97h0M11.33 65.43h0M11.33 85.06h0M17 81.79h0M17 75.24h0M-56.66 -65.43h0M-62.33 -62.16h0M-51 -55.62h0M-51 -62.16h0M-45.33 -45.8h0M-45.33 -52.34h0M-39.66 -35.99h0M-39.66 -42.53h0M-34 -32.72h0M-28.33 -16.36h0M-22.67 -6.54h0M-22.67 -13.09h0M-17 3.27h0M-17 -3.27h0M-11.33 13.09h0M-11.33 6.54h0M-5.67 22.9h0M-5.67 16.36h0M0 32.72h0M0 26.17h0M5.67 35.99h0M17 62.16h0M22.67 71.97h0M22.67 65.43h0M22.67 85.06h0M28.33 81.79h0M28.33 75.24h0M-51 -75.24h0M-56.66 -71.97h0M-45.33 -65.43h0M-45.33 -71.97h0M-39.66 -55.62h0M-39.66 -62.16h0M-34 -45.8h0M-34 -52.34h0M-28.33 -35.99h0M-28.33 -42.53h0M-22.67 -32.72h0M-17 -16.36h0M-11.33 -6.54h0M-11.33 -13.09h0M-5.67 3.27h0M-5.67 -3.27h0M0 13.09h0M0 6.54h0M5.67 22.9h0M5.67 16.36h0M11.33 32.72h0M11.33 26.17h0M17 35.99h0M28.33 62.16h0M34 71.97h0M34 65.43h0M34 85.06h0M39.66 81.79h0M39.66 75.24h0M-45.33 -85.06h0M-51 -81.79h0M-39.66 -75.24h0M-39.66 -81.79h0M-34 -65.43h0M-34 -71.97h0M-28.33 -55.62h0M-28.33 -62.16h0M-22.67 -45.8h0M-22.67 -52.34h0M-17 -35.99h0M-17 -42.53h0M-11.33 -32.72h0M-5.67 -16.36h0M0 -6.54h0M0 -13.09h0M5.67 3.27h0M5.67 -3.27h0M11.33 13.09h0M11.33 6.54h0M17 22.9h0M17 16.36h0M22.67 32.72h0M22.67 26.17h0M28.33 35.99h0M39.66 62.16h0M45.33 71.97h0M45.33 65.43h0M45.33 85.06h0M51 81.79h0M51 75.24h0M-34 -85.06h0M-28.33 -75.24h0M-28.33 -81.79h0M-22.67 -65.43h0M-22.67 -71.97h0M-17 -55.62h0M-17 -62.16h0M-11.33 -45.8h0M-11.33 -52.34h0M-5.67 -35.99h0M-5.67 -42.53h0M0 -32.72h0M5.67 -16.36h0M11.33 -6.54h0M11.33 -13.09h0M17 3.27h0M17 -3.27h0M22.67 13.09h0M22.67 6.54h0M28.33 22.9h0M28.33 16.36h0M34 32.72h0M34 26.17h0M39.66 35.99h0M51 62.16h0M51 55.62h0M56.66 71.97h0M56.66 65.43h0M-22.67 -85.06h0M-17 -75.24h0M-11.33 -65.43h0M-11.33 -71.97h0M-5.67 -55.62h0M-5.67 -62.16h0M0 -45.8h0M0 -52.34h0M5.67 -35.99h0M5.67 -42.53h0M11.33 -32.72h0M17 -16.36h0M22.67 -6.54h0M22.67 -13.09h0M28.33 3.27h0M28.33 -3.27h0M34 13.09h0M34 6.54h0M39.66 22.9h0M39.66 16.36h0M45.33 32.72h0M45.33 26.17h0M51 42.53h0M51 35.99h0M62.33 62.16h0M62.33 55.62h0M-5.67 -75.24h0M0 -65.43h0M0 -71.97h0M5.67 -55.62h0M5.67 -62.16h0M11.33 -45.8h0M11.33 -52.34h0M17 -35.99h0M17 -42.53h0M22.67 -32.72h0M28.33 -16.36h0M34 -6.54h0M34 -13.09h0M39.66 3.27h0M39.66 -3.27h0M45.33 13.09h0M45.33 6.54h0M51 22.9h0M51 16.36h0M56.66 32.72h0M56.66 26.17h0M62.33 42.53h0M62.33 35.99h0M11.33 -65.43h0M11.33 -71.97h0M17 -55.62h0M17 -62.16h0M22.67 -45.8h0M22.67 -52.34h0M28.33 -35.99h0M28.33 -42.53h0M34 -32.72h0M39.66 -16.36h0M45.33 -6.54h0M45.33 -13.09h0M51 3.27h0M51 -3.27h0M56.66 13.09h0M56.66 6.54h0M62.33 22.9h0M62.33 16.36h0M68 32.72h0M68 26.17h0M73.66 42.53h0M73.66 35.99h0M22.67 -65.43h0M22.67 -71.97h0M28.33 -55.62h0M28.33 -62.16h0M34 -45.8h0M34 -52.34h0M39.66 -35.99h0M39.66 -42.53h0M45.33 -32.72h0M51 -16.36h0M56.66 -6.54h0M56.66 -13.09h0M62.33 3.27h0M62.33 -3.27h0M68 13.09h0M68 6.54h0M73.66 22.9h0M73.66 16.36h0M79.33 32.72h0M79.33 26.17h0M34 -65.43h0M34 -71.97h0M39.66 -55.62h0M39.66 -62.16h0M45.33 -45.8h0M45.33 -52.34h0M51 -35.99h0M51 -42.53h0M56.66 -32.72h0M62.33 -16.36h0M68 -6.54h0M68 -13.09h0M73.66 3.27h0M73.66 -3.27h0M79.33 13.09h0M79.33 6.54h0M85 22.9h0M85 16.36h0M39.66 -75.24h0M45.33 -65.43h0M45.33 -71.97h0M51 -55.62h0M51 -62.16h0M56.66 -45.8h0M56.66 -52.34h0M62.33 -35.99h0M62.33 -42.53h0M68 -32.72h0M73.66 -16.36h0M79.33 -6.54h0M79.33 -13.09h0M85 3.27h0M85 -3.27h0M90.66 13.09h0M90.66 6.54h0M51 -75.24h0M56.66 -65.43h0M56.66 -71.97h0M62.33 -55.62h0M62.33 -62.16h0M68 -45.8h0M68 -52.34h0M73.66 -35.99h0M73.66 -42.53h0M79.33 -32.72h0M85 -16.36h0M90.66 -6.54h0M90.66 -13.09h0M96.33 3.27h0M96.33 -3.27h0"/></g>
<g stroke="#da596b"><path d="M-68 32.72l5.67 3.27M-73.66 42.53l5.67 3.27M-62.33 42.53l-5.67 3.27M-62.33 42.53l5.67 3.27M-68 52.34l0 -6.54M-68 52.34l5.67 3.27M-56.66 52.34l-5.67 3.27M-56.66 52.34l5.67 3.27M-51 42.53l-5.67 3.27M-51 42.53l5.67 3.27M-45.33 52.34l-5.67 3.27M-45.33 52.34l5.67 3.27M-79.33 -26.17l-5.67 3.27M-79.33 -26.17l5.67 3.27M-39.66 42.53l-5.67 3.27M-39.66 42.53l5.67 3.27M-34 52.34l-5.67 3.27M-34 52.34l5.67 3.27M-68 -26.17l-5.67 3.27M-68 -26.17l5.67 3.27M-62.33 -16.36l0 -6.54M-28.33 42.53l-5.67 3.27M-51 -16.36l0 -6.54M-45.33 -26.17l0 -6.54M-39.66 -16.36l0 -6.54M-34 -26.17l0 -6.54M-28.33 -16.36l0 -6.54M-22.67 -26.17l0 -6.54M-17 -16.36l0 -6.54M22.67 52.34l5.67 3.27M-11.33 -26.17l0 -6.54M28.33 42.53l5.67 3.27M34 52.34l-5.67 3.27M34 52.34l5.67 3.27M0 -26.17l0 -6.54M39.66 42.53l-5.67 3.27M39.66 42.53l5.67 3.27M45.33 52.34l-5.67 3.27M45.33 52.34l5.67 3.27M-22.67 -85.06l5.67 3.27M11.33 -26.17l0 -6.54M51 42.53l-5.67 3.27M51 42.53l5.67 3.27M56.66 52.34l-5.67 3.27M56.66 52.34l5.67 3.27M-11.33 -85.06l-5.67 3.27M-5.67 -75.24l0 -6.54M22.67 -26.17l0 -6.54M62.33 42.53l-5.67 3.27M62.33 42.53l5.67 3.27M68 52.34l0 -6.54M68 52.34l-5.67 3.27M34 -26.17l0 -6.54M39.66 -16.36l0 -6.54M73.66 42.53l-5.67 3.27M45.33 -26.17l0 -6.54M51 -16.36l0 -6.54M56.66 -26.17l0 -6.54M62.33 -16.36l0 -6.54M39.66 -75.24l0 -6.54M73.66 -16.36l0 -6.54M45.33 -85.06l5.67 3.27M51 -75.24l0 -6.54M79.33 -26.17l5.67 3.27M-85 -22.9l-4.09 -2.36M-11.33 -85.06l0 -4.73M0 -85.06l0 -4.73M34 -85.06l0 -4.73M45.33 -85.06l0 -4.73M51 -81.79l4.09 -2.36M85 -22.9l4.09 -2.36"/>
<path stroke-width="1.63" stroke-linecap="butt" d="M-66.42 33.62l2.52 1.45M-72.09 43.44l2.52 1.45M-63.9 43.44l-2.52 1.45M-60.76 43.44l2.52 1.45M-68 50.53l0 -2.91M-66.42 53.25l2.52 1.45M-58.24 53.25l-2.52 1.45M-55.09 53.25l2.52 1.45M-52.57 43.44l-2.52 1.45M-49.42 43.44l2.52 1.45M-46.91 53.25l-2.52 1.45M-43.76 53.25l2.52 1.45M-80.9 -25.26l-2.52 1.45M-77.76 -25.26l2.52 1.45M-41.24 43.44l-2.52 1.45M-38.09 43.44l2.52 1.45M-35.57 53.25l-2.52 1.45M-32.42 53.25l2.52 1.45M-69.57 -25.26l-2.52 1.45M-66.42 -25.26l2.52 1.45M-62.33 -18.18l0 -2.91M-29.91 43.44l-2.52 1.45M-51 -18.18l0 -2.91M-45.33 -27.99l0 -2.91M-39.66 -18.18l0 -2.91M-34 -27.99l0 -2.91M-28.33 -18.18l0 -2.91M-22.67 -27.99l0 -2.91M-17 -18.18l0 -2.91M24.24 53.25l2.52 1.45M-11.33 -27.99l0 -2.91M29.91 43.44l2.52 1.45M32.42 53.25l-2.52 1.45M35.57 53.25l2.52 1.45M0 -27.99l0 -2.91M38.09 43.44l-2.52 1.45M41.24 43.44l2.52 1.45M43.76 53.25l-2.52 1.45M46.91 53.25l2.52 1.45M-21.09 -84.15l2.52 1.45M11.33 -27.99l0 -2.91M49.42 43.44l-2.52 1.45M52.57 43.44l2.52 1.45M55.09 53.25l-2.52 1.45M58.24 53.25l2.52 1.45M-12.91 -84.15l-2.52 1.45M-5.67 -77.06l0 -2.91M22.67 -27.99l0 -2.91M60.76 43.44l-2.52 1.45M63.9 43.44l2.52 1.45M68 50.53l0 -2.91M66.42 53.25l-2.52 1.45M34 -27.99l0 -2.91M39.66 -18.18l0 -2.91M72.09 43.44l-2.52 1.45M45.33 -27.99l0 -2.91M51 -18.18l0 -2.91M56.66 -27.99l0 -2.91M62.33 -18.18l0 -2.91M39.66 -77.06l0 -2.91M73.66 -18.18l0 -2.91M46.91 -84.15l2.52 1.45M51 -77.06l0 -2.91M80.9 -25.26l2.52 1.45M-86.57 -23.81l-2.52 -1.45M-11.33 -86.88l0 -2.91M0 -86.88l0 -2.91M34 -86.88l0 -2.91M45.33 -86.88l0 -2.91M52.57 -82.7l2.52 -1.45M86.57 -23.81l2.52 -1.45"/>
<path stroke-width="2.58" stroke-linecap="butt" d="M-65.92 33.91l1.51 0.87M-71.59 43.73l1.51 0.87M-64.41 43.73l-1.51 0.87M-60.25 43.73l1.51 0.87M-68 49.94l0 -1.74M-65.92 53.54l1.51 0.87M-58.74 53.54l-1.51 0.87M-54.59 53.54l1.51 0.87M-53.08 43.73l-1.51 0.87M-48.92 43.73l1.51 0.87M-47.41 53.54l-1.51 0.87M-43.25 53.54l1.51 0.87M-81.41 -24.97l-1.51 0.87M-77.25 -24.97l1.51 0.87M-41.74 43.73l-1.51 0.87M-37.59 43.73l1.51 0.87M-36.08 53.54l-1.51 0.87M-31.92 53.54l1.51 0.87M-70.07 -24.97l-1.51 0.87M-65.92 -24.97l1.51 0.87M-62.33 -18.76l0 -1.74M-30.41 43.73l-1.51 0.87M-51 -18.76l0 -1.74M-45.33 -28.57l0 -1.74M-39.66 -18.76l0 -1.74M-34 -28.57l0 -1.74M-28.33 -18.76l0 -1.74M-22.67 -28.57l0 -1.74M-17 -18.76l0 -1.74M24.74 53.54l1.51 0.87M-11.33 -28.57l0 -1.74M30.41 43.73l1.51 0.87M31.92 53.54l-1.51 0.87M36.08 53.54l1.51 0.87M0 -28.57l0 -1.74M37.59 43.73l-1.51 0.87M41.74 43.73l1.51 0.87M43.25 53.54l-1.51 0.87M47.41 53.54l1.51 0.87M-20.59 -83.86l1.51 0.87M11.33 -28.57l0 -1.74M48.92 43.73l-1.51 0.87M53.08 43.73l1.51 0.87M54.59 53.54l-1.51 0.87M58.74 53.54l1.51 0.87M-13.41 -83.86l-1.51 0.87M-5.67 -77.64l0 -1.74M22.67 -28.57l0 -1.74M60.25 43.73l-1.51 0.87M64.41 43.73l1.51 0.87M68 49.94l0 -1.74M65.92 53.54l-1.51 0.87M34 -28.57l0 -1.74M39.66 -18.76l0 -1.74M71.59 43.73l-1.51 0.87M45.33 -28.57l0 -1.74M51 -18.76l0 -1.74M56.66 -28.57l0 -1.74M62.33 -18.76l0 -1.74M39.66 -77.64l0 -1.74M73.66 -18.76l0 -1.74M47.41 -83.86l1.51 0.87M51 -77.64l0 -1.74M81.41 -24.97l1.51 0.87M-87.07 -24.1l-1.51 -0.87M-11.33 -87.46l0 -1.74M0 -87.46l0 -1.74M34 -87.46l0 -1.74M45.33 -87.46l0 -1.74M53.08 -82.99l1.51 -0.87M87.07 -24.1l1.51 -0.87"/>
<path stroke-width="1.89" d="M-68 45.8h0M-68 52.34h0M-56.66 52.34h0M-56.66 45.8h0M-39.66 55.62h0M-79.33 -26.17h0M-85 -22.9h0M-73.66 -22.9h0M-39.66 42.53h0M-28.33 55.62h0M-68 -26.17h0M-28.33 42.53h0M-17 55.62h0M-17 42.53h0M-5.67 55.62h0M-5.67 42.53h0M5.67 55.62h0M5.67 42.53h0M17 55.62h0M17 42.53h0M28.33 55.62h0M28.33 42.53h0M39.66 55.62h0M39.66 42.53h0M-17 -81.79h0M56.66 52.34h0M56.66 45.8h0M-11.33 -85.06h0M68 52.34h0M68 45.8h0M5.67 -75.24h0M17 -75.24h0M28.33 -75.24h0M45.33 -85.06h0M51 -81.79h0M79.33 -26.17h0M85 -22.9h0"/></g>
<g stroke="#e87373"><path d="M-79.33 32.72l0 -6.54M-68 32.72l0 -6.54M-68 32.72l-5.67 3.27M-56.66 52.34l0 -6.54M-45.33 52.34l0 -6.54M-28.33 42.53l5.67 3.27M-22.67 52.34l-5.67 3.27M-22.67 52.34l5.67 3.27M-56.66 -26.17l-5.67 3.27M-56.66 -26.17l5.67 3.27M-17 42.53l-5.67 3.27M-17 42.53l5.67 3.27M-11.33 52.34l-5.67 3.27M-11.33 52.34l5.67 3.27M-45.33 -26.17l-5.67 3.27M-45.33 -26.17l5.67 3.27M-5.67 42.53l-5.67 3.27M-5.67 42.53l5.67 3.27M0 52.34l-5.67 3.27M0 52.34l5.67 3.27M5.67 42.53l-5.67 3.27M5.67 42.53l5.67 3.27M11.33 52.34l-5.67 3.27M11.33 52.34l5.67 3.27M17 42.53l-5.67 3.27M17 42.53l5.67 3.27M22.67 52.34l-5.67 3.27M-5.67 -16.36l0 -6.54M28.33 42.53l-5.67 3.27M5.67 -16.36l0 -6.54M45.33 52.34l0 -6.54M17 -16.36l0 -6.54M56.66 52.34l0 -6.54M-11.33 -85.06l5.67 3.27M28.33 -16.36l0 -6.54M0 -85.06l-5.67 3.27M5.67 -75.24l0 -6.54M17 -75.24l0 -6.54M28.33 -75.24l0 -6.54M56.66 -26.17l5.67 3.27M34 -85.06l5.67 3.27M68 -26.17l-5.67 3.27M68 -26.17l5.67 3.27M45.33 -85.06l-5.67 3.27M79.33 -26.17l-5.67 3.27M-79.33 32.72l-4.09 2.36M11.33 -85.06l0 -4.73M22.67 -85.06l0 -4.73"/>
<path stroke-width="1.63" stroke-linecap="butt" d="M-79.33 30.9l0 -2.91M-68 30.9l0 -2.91M-69.57 33.62l-2.52 1.45M-56.66 50.53l0 -2.91M-45.33 50.53l0 -2.91M-26.76 43.44l2.52 1.45M-24.24 53.25l-2.52 1.45M-21.09 53.25l2.52 1.45M-58.24 -25.26l-2.52 1.45M-55.09 -25.26l2.52 1.45M-18.57 43.44l-2.52 1.45M-15.43 43.44l2.52 1.45M-12.91 53.25l-2.52 1.45M-9.76 53.25l2.52 1.45M-46.91 -25.26l-2.52 1.45M-43.76 -25.26l2.52 1.45M-7.24 43.44l-2.52 1.45M-4.09 43.44l2.52 1.45M-1.57 53.25l-2.52 1.45M1.57 53.25l2.52 1.45M4.09 43.44l-2.52 1.45M7.24 43.44l2.52 1.45M9.76 53.25l-2.52 1.45M12.91 53.25l2.52 1.45M15.43 43.44l-2.52 1.45M18.57 43.44l2.52 1.45M21.09 53.25l-2.52 1.45M-5.67 -18.18l0 -2.91M26.76 43.44l-2.52 1.45M5.67 -18.18l0 -2.91M45.33 50.53l0 -2.91M17 -18.18l0 -2.91M56.66 50.53l0 -2.91M-9.76 -84.15l2.52 1.45M28.33 -18.18l0 -2.91M-1.57 -84.15l-2.52 1.45M5.67 -77.06l0 -2.91M17 -77.06l0 -2.91M28.33 -77.06l0 -2.91M58.24 -25.26l2.52 1.45M35.57 -84.15l2.52 1.45M66.42 -25.26l-2.52 1.45M69.57 -25.26l2.52 1.45M43.76 -84.15l-2.52 1.45M77.76 -25.26l-2.52 1.45M-80.9 33.62l-2.52 1.45M11.33 -86.88l0 -2.91M22.67 -86.88l0 -2.91"/>
<path stroke-width="2.58" stroke-linecap="butt" d="M-79.33 30.32l0 -1.74M-68 30.32l0 -1.74M-70.07 33.91l-1.51 0.87M-56.66 49.94l0 -1.74M-45.33 49.94l0 -1.74M-26.25 43.73l1.51 0.87M-24.74 53.54l-1.51 0.87M-20.59 53.54l1.51 0.87M-58.74 -24.97l-1.51 0.87M-54.59 -24.97l1.51 0.87M-19.08 43.73l-1.51 0.87M-14.92 43.73l1.51 0.87M-13.41 53.54l-1.51 0.87M-9.26 53.54l1.51 0.87M-47.41 -24.97l-1.51 0.87M-43.25 -24.97l1.51 0.87M-7.74 43.73l-1.51 0.87M-3.59 43.73l1.51 0.87M-2.08 53.54l-1.51 0.87M2.08 53.54l1.51 0.87M3.59 43.73l-1.51 0.87M7.74 43.73l1.51 0.87M9.26 53.54l-1.51 0.87M13.41 53.54l1.51 0.87M14.92 43.73l-1.51 0.87M19.08 43.73l1.51 0.87M20.59 53.54l-1.51 0.87M-5.67 -18.76l0 -1.74M26.25 43.73l-1.51 0.87M5.67 -18.76l0 -1.74M45.33 49.94l0 -1.74M17 -18.76l0 -1.74M56.66 49.94l0 -1.74M-9.26 -83.86l1.51 0.87M28.33 -18.76l0 -1.74M-2.08 -83.86l-1.51 0.87M5.67 -77.64l0 -1.74M17 -77.64l0 -1.74M28.33 -77.64l0 -1.74M58.74 -24.97l1.51 0.87M36.08 -83.86l1.51 0.87M65.92 -24.97l-1.51 0.87M70.07 -24.97l1.51 0.87M43.25 -83.86l-1.51 0.87M77.25 -24.97l-1.51 0.87M-81.41 33.91l-1.51 0.87M11.33 -87.46l0 -1.74M22.67 -87.46l0 -1.74"/>
<path stroke-width="1.89" d="M-73.66 35.99h0M-68 32.72h0M-45.33 52.34h0M-45.33 45.8h0M-34 52.34h0M-34 45.8h0M-62.33 -22.9h0M-22.67 52.34h0M-22.67 45.8h0M-56.66 -26.17h0M-51 -22.9h0M-45.33 -26.17h0M-39.66 -22.9h0M-34 -26.17h0M22.67 52.34h0M22.67 45.8h0M34 52.34h0M34 45.8h0M45.33 52.34h0M45.33 45.8h0M-5.67 -81.79h0M0 -85.06h0M45.33 -26.17h0M56.66 -26.17h0M62.33 -22.9h0M34 -85.06h0M39.66 -81.79h0M68 -26.17h0M73.66 -22.9h0"/></g>
<g stroke="#f68c7a"><path d="M-79.33 32.72l5.67 3.27M-34 52.34l0 -6.54M-22.67 52.34l0 -6.54M-11.33 52.34l0 -6.54M0 52.34l0 -6.54M-34 -26.17l-5.67 3.27M-34 -26.17l5.67 3.27M11.33 52.34l0 -6.54M-22.67 -26.17l-5.67 3.27M-22.67 -26.17l5.67 3.27M22.67 52.34l0 -6.54M-11.33 -26.17l-5.67 3.27M-11.33 -26.17l5.67 3.27M34 52.34l0 -6.54M0 -26.17l-5.67 3.27M0 -26.17l5.67 3.27M11.33 -26.17l-5.67 3.27M11.33 -26.17l5.67 3.27M22.67 -26.17l-5.67 3.27M22.67 -26.17l5.67 3.27M0 -85.06l5.67 3.27M34 -26.17l-5.67 3.27M34 -26.17l5.67 3.27M11.33 -85.06l-5.67 3.27M11.33 -85.06l5.67 3.27M45.33 -26.17l-5.67 3.27M45.33 -26.17l5.67 3.27M22.67 -85.06l-5.67 3.27M22.67 -85.06l5.67 3.27M56.66 -26.17l-5.67 3.27M34 -85.06l-5.67 3.27"/>
<path stroke-width="1.63" stroke-linecap="butt" d="M-77.76 33.62l2.52 1.45M-34 50.53l0 -2.91M-22.67 50.53l0 -2.91M-11.33 50.53l0 -2.91M0 50.53l0 -2.91M-35.57 -25.26l-2.52 1.45M-32.42 -25.26l2.52 1.45M11.33 50.53l0 -2.91M-24.24 -25.26l-2.52 1.45M-21.09 -25.26l2.52 1.45M22.67 50.53l0 -2.91M-12.91 -25.26l-2.52 1.45M-9.76 -25.26l2.52 1.45M34 50.53l0 -2.91M-1.57 -25.26l-2.52 1.45M1.57 -25.26l2.52 1.45M9.76 -25.26l-2.52 1.45M12.91 -25.26l2.52 1.45M21.09 -25.26l-2.52 1.45M24.24 -25.26l2.52 1.45M1.57 -84.15l2.52 1.45M32.42 -25.26l-2.52 1.45M35.57 -25.26l2.52 1.45M9.76 -84.15l-2.52 1.45M12.91 -84.15l2.52 1.45M43.76 -25.26l-2.52 1.45M46.91 -25.26l2.52 1.45M21.09 -84.15l-2.52 1.45M24.24 -84.15l2.52 1.45M55.09 -25.26l-2.52 1.45M32.42 -84.15l-2.52 1.45"/>
<path stroke-width="2.58" stroke-linecap="butt" d="M-77.25 33.91l1.51 0.87M-34 49.94l0 -1.74M-22.67 49.94l0 -1.74M-11.33 49.94l0 -1.74M0 49.94l0 -1.74M-36.08 -24.97l-1.51 0.87M-31.92 -24.97l1.51 0.87M11.33 49.94l0 -1.74M-24.74 -24.97l-1.51 0.87M-20.59 -24.97l1.51 0.87M22.67 49.94l0 -1.74M-13.41 -24.97l-1.51 0.87M-9.26 -24.97l1.51 0.87M34 49.94l0 -1.74M-2.08 -24.97l-1.51 0.87M2.08 -24.97l1.51 0.87M9.26 -24.97l-1.51 0.87M13.41 -24.97l1.51 0.87M20.59 -24.97l-1.51 0.87M24.74 -24.97l1.51 0.87M2.08 -83.86l1.51 0.87M31.92 -24.97l-1.51 0.87M36.08 -24.97l1.51 0.87M9.26 -83.86l-1.51 0.87M13.41 -83.86l1.51 0.87M43.25 -24.97l-1.51 0.87M47.41 -24.97l1.51 0.87M20.59 -83.86l-1.51 0.87M24.74 -83.86l1.51 0.87M54.59 -24.97l-1.51 0.87M31.92 -83.86l-1.51 0.87"/>
<path stroke-width="1.89" d="M-79.33 32.72h0M-11.33 52.34h0M-11.33 45.8h0M0 52.34h0M0 45.8h0M-28.33 -22.9h0M11.33 52.34h0M11.33 45.8h0M-22.67 -26.17h0M-17 -22.9h0M-11.33 -26.17h0M-5.67 -22.9h0M0 -26.17h0M5.67 -22.9h0M11.33 -26.17h0M17 -22.9h0M22.67 -26.17h0M28.33 -22.9h0M5.67 -81.79h0M34 -26.17h0M39.66 -22.9h0M11.33 -85.06h0M17 -81.79h0M51 -22.9h0M22.67 -85.06h0M28.33 -81.79h0"/></g>
</g></g>
<path d="M41 698.4H133.3L172.3 767.8H80.6Z" fill="none" stroke="#20203a" stroke-width="0.9"/>
<g font-family='"Liberation Sans", sans-serif' font-size="10.8px" fill="#151515">
<text x="100" y="783.1" font-size="10.4px" fill="#000">17.6 nm</text>
<g clip-path="url(#clc)" fill="none" stroke-linecap="butt">
<path d="M586.74 152.26L643.25 119.64" stroke="url(#tg3)" stroke-width="8.4"/>
<path d="M539.67 119.64L470 159.86" stroke="url(#tg8)" stroke-width="8.4"/>
<path d="M638.53 62.56L708.2 22.34" stroke="url(#tg11)" stroke-width="8.4"/>
<path d="M591.46 29.94L534.95 62.56" stroke="url(#tg0)" stroke-width="8.4"/>
<path d="M539.67 62.56L470 22.34" stroke="url(#tg7)" stroke-width="8.4"/>
<path d="M534.95 119.64L591.46 152.26" stroke="url(#tg2)" stroke-width="8.4"/>
<path d="M643.25 62.56L586.74 29.94" stroke="url(#tg5)" stroke-width="8.4"/>
<path d="M638.53 119.64L708.2 159.86" stroke="url(#tg10)" stroke-width="8.4"/>
<path d="M537.31 58.48L537.31 123.72" stroke="url(#tg1)" stroke-width="8.4"/>
<path d="M640.89 123.72L640.89 58.48" stroke="url(#tg4)" stroke-width="8.4"/>
<path d="M589.1 34.02L589.1 -46.42" stroke="url(#tg6)" stroke-width="8.4"/>
<path d="M589.1 148.18L589.1 228.62" stroke="url(#tg9)" stroke-width="8.4"/>
</g>
<circle cx="589.6" cy="93.1" r="7.4" fill="#ff00e6"/>
<circle cx="560.6" cy="108.7" r="7.4" fill="#ff9a0a"/>
<circle cx="537" cy="121.8" r="7.4" fill="#000"/>
<g font-size="19.7px" fill="#111"><text x="599.7" y="110.9">AA</text><text x="567.8" y="126.7">M</text><text x="526.1" y="146.9">AB</text></g>
<g id="plot-b">
<path d="M262.9 3.9h4.8M262.9 18.86h2.4M262.9 33.82h4.8M262.9 48.78h2.4M262.9 63.73h4.8M262.9 78.69h2.4M262.9 93.65h4.8M262.9 108.61h2.4M262.9 123.57h4.8M262.9 138.53h2.4M262.9 153.48h4.8M262.9 168.44h2.4M262.9 183.4h4.8M262.9 183.4v-4.8M277.88 183.4v-2.4M292.85 183.4v-4.8M307.82 183.4v-2.4M322.8 183.4v-4.8M337.78 183.4v-2.4M352.75 183.4v-4.8M367.73 183.4v-2.4M382.7 183.4v-4.8M397.68 183.4v-2.4M412.65 183.4v-4.8M427.62 183.4v-2.4M442.6 183.4v-4.8" stroke="#8a8a8a" stroke-width="1.0" fill="none"/>
<g clip-path="url(#pcb)" fill="none" stroke-width="1.05" stroke-linejoin="round">
<path d="M262.72 83.52C263.33 83.58 264.99 83.13 266.35 83.88C267.71 84.64 269.23 86.3 270.89 88.06C272.55 89.81 274.52 92.75 276.33 94.41C278.15 96.07 279.81 97.13 281.78 98.04C283.74 98.95 286.16 99.79 288.13 99.85C290.1 99.92 291.76 99.16 293.58 98.4C295.39 97.65 297.05 96.07 299.02 95.32C300.99 94.56 303.41 93.93 305.37 93.87C307.34 93.81 309 94.32 310.82 94.95C312.63 95.59 314.45 96.95 316.26 97.68C318.08 98.4 319.74 98.95 321.71 99.31C323.67 99.67 325.94 99.85 328.06 99.85C330.18 99.85 332.14 99.52 334.41 99.31C336.68 99.1 339.16 98.74 341.67 98.58C344.18 98.43 347.1 98.14 349.46 98.4C351.83 98.66 353.56 99.56 355.84 100.15C358.12 100.73 360.95 101.53 363.14 101.9C365.33 102.26 367.03 102.34 368.98 102.34C370.92 102.34 372.87 102.19 374.82 101.9C376.76 101.61 378.71 100.88 380.66 100.58C382.6 100.29 384.31 100.1 386.5 100.15C388.69 100.19 391.36 100.61 393.8 100.88C396.23 101.14 398.66 101.51 401.09 101.75C403.53 102 406.45 102.24 408.39 102.34C410.34 102.43 411.07 102.48 412.77 102.34C414.48 102.19 416.67 101.68 418.61 101.46C420.56 101.24 422.51 100.95 424.45 101.02C426.4 101.09 428.35 101.51 430.29 101.9C432.24 102.29 434.11 102.92 436.13 103.36C438.15 103.8 441.36 104.33 442.41 104.53" stroke="#ffa51e"/>
<path d="M262.72 150.67C263.33 149.76 265.14 148.25 266.35 145.23C267.56 142.2 268.77 137.36 269.98 132.52C271.19 127.68 272.4 121.63 273.61 116.19C274.82 110.74 276.03 104.39 277.24 99.85C278.45 95.32 279.66 91.84 280.87 88.97C282.08 86.09 283.35 83.91 284.5 82.61C285.65 81.31 286.56 80.86 287.77 81.16C288.98 81.46 290.34 82.22 291.76 84.43C293.18 86.64 294.79 91.08 296.3 94.41C297.81 97.74 299.32 102.21 300.83 104.39C302.35 106.57 303.86 107.48 305.37 107.48C306.88 107.48 308.4 106.27 309.91 104.39C311.42 102.52 312.78 99.4 314.45 96.23C316.11 93.05 317.92 88.06 319.89 85.34C321.86 82.61 324.28 80.34 326.24 79.89C328.21 79.44 329.87 80.95 331.69 82.61C333.5 84.28 335.32 87.91 337.13 89.87C338.95 91.84 340.91 93.5 342.58 94.41C344.24 95.32 345.88 95.26 347.11 95.32C348.35 95.37 348.79 95.4 350 94.74C351.21 94.09 352.68 92.68 354.38 91.39C356.08 90.1 358.27 87.96 360.22 87.01C362.17 86.06 364.11 85.62 366.06 85.69C368 85.77 369.95 86.62 371.9 87.45C373.84 88.27 375.79 89.68 377.74 90.66C379.68 91.63 381.39 92.65 383.58 93.28C385.77 93.92 388.2 94.23 390.88 94.45C393.55 94.67 397.2 94.38 399.64 94.6C402.07 94.82 403.53 95.21 405.47 95.77C407.42 96.33 409.37 97.35 411.31 97.96C413.26 98.56 415.21 99.12 417.15 99.42C419.1 99.71 421.05 99.76 422.99 99.71C424.94 99.66 426.89 99.54 428.83 99.12C430.78 98.71 432.97 97.83 434.67 97.23C436.37 96.62 437.76 95.89 439.05 95.47C440.34 95.06 441.85 94.87 442.41 94.74" stroke="#2a2a2a"/>
<path d="M262.72 24.54C263.48 25.6 265.9 28.02 267.26 30.89C268.62 33.76 269.68 37.24 270.89 41.78C272.1 46.32 273.31 52.37 274.52 58.11C275.73 63.86 276.94 70.51 278.15 76.26C279.36 82.01 280.57 88.36 281.78 92.6C282.99 96.83 284.35 99.7 285.41 101.67C286.47 103.64 287.07 104.39 288.13 104.39C289.19 104.39 290.4 103.64 291.76 101.67C293.12 99.7 294.63 95.32 296.3 92.6C297.96 89.87 300.08 86.94 301.74 85.34C303.41 83.73 304.77 82.83 306.28 82.98C307.79 83.13 309.15 83.73 310.82 86.24C312.48 88.75 314.45 94.56 316.26 98.04C318.08 101.52 319.83 104.94 321.71 107.11C323.58 109.29 325.7 110.96 327.51 111.11C329.33 111.26 330.84 110.2 332.6 108.02C334.35 105.84 336.23 100.76 338.04 98.04C339.85 95.32 341.97 92.99 343.48 91.69C345 90.39 346.03 90.29 347.11 90.24C348.2 90.19 348.79 90.1 350 91.39C351.21 92.67 352.92 95.89 354.38 97.96C355.84 100.02 357.3 102.14 358.76 103.8C360.22 105.45 361.73 107.08 363.14 107.88C364.55 108.69 365.77 108.69 367.23 108.61C368.69 108.54 370.39 108.13 371.9 107.45C373.41 106.76 374.82 105.62 376.28 104.53C377.74 103.43 379.2 101.92 380.66 100.88C382.12 99.83 383.58 98.78 385.04 98.25C386.5 97.71 387.71 97.59 389.42 97.66C391.12 97.74 393.31 98.39 395.26 98.69C397.2 98.98 399.39 99.34 401.09 99.42C402.8 99.49 404.01 99.42 405.47 99.12C406.93 98.83 408.39 98.18 409.85 97.66C411.31 97.15 412.53 96.45 414.23 96.06C415.94 95.67 418.13 95.35 420.07 95.33C422.02 95.3 423.97 95.62 425.91 95.91C427.86 96.2 429.81 96.69 431.75 97.08C433.7 97.47 435.82 97.86 437.59 98.25C439.37 98.64 441.61 99.22 442.41 99.42" stroke="#ff00ff"/>
</g>
<rect x="262.9" y="3.9" width="179.7" height="179.5" fill="none" stroke="#8a8a8a" stroke-width="1.0"/>
<text x="259.6" y="7.8" text-anchor="end">-0.9</text>
<text x="259.6" y="37.72" text-anchor="end">-0.92</text>
<text x="259.6" y="67.63" text-anchor="end">-0.94</text>
<text x="259.6" y="97.55" text-anchor="end">-0.96</text>
<text x="259.6" y="127.47" text-anchor="end">-0.98</text>
<text x="259.6" y="157.38" text-anchor="end">-1</text>
<text x="259.6" y="187.3" text-anchor="end">-1.02</text>
<text font-size="10.95px" transform="translate(232 92.45) rotate(-90)" text-anchor="middle">Interaction energy (eV/pyr)</text>
</g>
<g id="plot-e">
<path d="M262.6 208.4h4.8M262.6 223.47h2.4M262.6 238.55h4.8M262.6 253.62h2.4M262.6 268.7h4.8M262.6 283.77h2.4M262.6 298.85h4.8M262.6 313.93h2.4M262.6 329h4.8M262.6 344.07h2.4M262.6 359.15h4.8M262.6 374.22h2.4M262.6 389.3h4.8M262.6 389.3v-4.8M277.67 389.3v-2.4M292.73 389.3v-4.8M307.8 389.3v-2.4M322.87 389.3v-4.8M337.93 389.3v-2.4M353 389.3v-4.8M368.07 389.3v-2.4M383.13 389.3v-4.8M398.2 389.3v-2.4M413.27 389.3v-4.8M428.33 389.3v-2.4M443.4 389.3v-4.8" stroke="#5a5a5a" stroke-width="0.8" fill="none"/>
<g clip-path="url(#pce)" fill="none" stroke-width="1.05" stroke-linejoin="round">
<path d="M262.63 291.39C262.92 291.58 263.6 291.63 264.38 292.55C265.16 293.48 266.2 295.47 267.3 296.93C268.39 298.39 269.73 300.29 270.95 301.31C272.17 302.34 273.38 302.82 274.6 303.07C275.82 303.31 277.03 302.97 278.25 302.77C279.46 302.58 280.56 302.09 281.9 301.9C283.24 301.7 284.82 301.58 286.28 301.61C287.74 301.63 288.95 301.85 290.66 302.04C292.36 302.24 294.55 302.77 296.5 302.77C298.44 302.77 300.63 302 302.34 302.04C304.04 302.09 305.26 302.82 306.72 303.07C308.18 303.31 309.64 303.6 311.09 303.5C312.55 303.41 314.14 302.65 315.47 302.48C316.81 302.31 317.91 302.19 319.12 302.48C320.34 302.77 321.56 303.58 322.77 304.23C323.99 304.89 325.21 305.94 326.42 306.42C327.64 306.91 328.86 307.23 330.07 307.15C331.29 307.08 332.51 306.42 333.72 305.99C334.94 305.55 336.03 304.91 337.37 304.53C338.71 304.14 340.29 303.7 341.75 303.65C343.21 303.6 344.81 304.03 346.13 304.23C347.45 304.44 348.3 304.84 349.67 304.89C351.05 304.94 352.86 304.51 354.38 304.53C355.89 304.54 357.06 304.79 358.76 304.96C360.46 305.13 362.41 305.38 364.6 305.55C366.79 305.72 369.46 305.96 371.9 305.99C374.33 306.01 376.76 305.62 379.2 305.69C381.63 305.77 384.06 306.25 386.5 306.42C388.93 306.59 391.61 306.67 393.8 306.72C395.99 306.76 397.69 306.59 399.64 306.72C401.58 306.84 403.04 307.25 405.47 307.45C407.91 307.64 411.31 307.76 414.23 307.88C417.15 308 420.07 308.08 422.99 308.18C425.91 308.27 429.08 308.37 431.75 308.47C434.43 308.56 437.15 308.66 439.05 308.76C440.95 308.86 442.46 309 443.14 309.05" stroke="#ffa51e"/>
<path d="M262.63 334.6C262.92 333.92 263.72 332.65 264.38 330.51C265.04 328.37 265.84 325.4 266.57 321.75C267.3 318.1 268.03 312.26 268.76 308.61C269.49 304.96 270.22 302.04 270.95 299.85C271.68 297.66 272.46 296.3 273.14 295.47C273.82 294.65 274.31 294.6 275.04 294.89C275.77 295.18 276.62 295.91 277.52 297.23C278.42 298.54 279.46 301.31 280.44 302.77C281.41 304.23 282.51 305.45 283.36 305.99C284.21 306.52 284.7 306.33 285.55 305.99C286.4 305.64 287.49 304.43 288.47 303.94C289.44 303.45 290.05 303.16 291.39 303.07C292.73 302.97 294.67 303.24 296.5 303.36C298.32 303.48 300.63 303.84 302.34 303.8C304.04 303.75 305.5 303.19 306.72 303.07C307.93 302.94 308.66 302.68 309.64 303.07C310.61 303.45 311.46 304.77 312.55 305.4C313.65 306.03 315.11 307.06 316.2 306.86C317.3 306.67 318.15 305.77 319.12 304.23C320.1 302.7 321.07 299.56 322.04 297.66C323.02 295.77 324.11 293.77 324.96 292.85C325.82 291.92 326.35 291.8 327.15 292.12C327.96 292.43 328.81 293.21 329.78 294.74C330.75 296.28 331.97 299.54 332.99 301.31C334.01 303.09 334.94 304.55 335.91 305.4C336.89 306.25 337.86 306.45 338.83 306.42C339.81 306.4 340.66 305.74 341.75 305.26C342.85 304.77 344.43 303.77 345.4 303.5C346.37 303.24 346.88 303.39 347.59 303.65C348.3 303.91 348.78 304.48 349.67 305.04C350.56 305.6 351.89 306.61 352.92 307.01C353.95 307.41 354.87 307.54 355.84 307.45C356.81 307.35 357.79 306.91 358.76 306.42C359.73 305.94 360.71 304.96 361.68 304.53C362.65 304.09 363.63 303.8 364.6 303.8C365.57 303.8 366.42 304.04 367.52 304.53C368.61 305.01 369.83 306.11 371.17 306.72C372.51 307.32 374.21 308.05 375.55 308.18C376.89 308.3 377.98 307.81 379.2 307.45C380.41 307.08 381.63 306.23 382.85 305.99C384.06 305.74 385.16 305.82 386.5 305.99C387.83 306.16 389.17 306.69 390.88 307.01C392.58 307.32 394.28 307.76 396.72 307.88C399.15 308 402.55 307.81 405.47 307.74C408.39 307.66 411.31 307.45 414.23 307.45C417.15 307.45 420.07 307.62 422.99 307.74C425.91 307.86 429.08 308.15 431.75 308.18C434.43 308.2 437.15 308.03 439.05 307.88C440.95 307.74 442.46 307.4 443.14 307.3" stroke="#2a2a2a"/>
<path d="M262.63 253.14C262.92 254.11 263.72 255.82 264.38 258.98C265.04 262.14 265.84 267.01 266.57 272.12C267.3 277.23 268.03 284.28 268.76 289.64C269.49 294.99 270.27 300.71 270.95 304.23C271.63 307.76 272.29 309.51 272.85 310.8C273.41 312.09 273.77 312.09 274.31 311.97C274.84 311.85 275.4 311.36 276.06 310.07C276.72 308.78 277.52 306.18 278.25 304.23C278.98 302.29 279.71 299.85 280.44 298.39C281.17 296.93 281.95 296.06 282.63 295.47C283.31 294.89 283.8 294.65 284.53 294.89C285.26 295.13 286.11 296.03 287.01 296.93C287.91 297.83 289.08 299.61 289.93 300.29C290.78 300.97 291.27 301.14 292.12 301.02C292.97 300.9 294.06 300 295.04 299.56C296.01 299.12 297.1 298.39 297.96 298.39C298.81 298.39 299.29 298.59 300.15 299.56C301 300.54 302.09 302.92 303.07 304.23C304.04 305.55 305.13 307.08 305.99 307.45C306.84 307.81 307.32 307.45 308.18 306.42C309.03 305.4 310.12 303.02 311.09 301.31C312.07 299.61 313.16 297.23 314.01 296.2C314.87 295.18 315.47 295.01 316.2 295.18C316.93 295.35 317.54 295.47 318.39 297.23C319.25 298.98 320.34 302.82 321.31 305.69C322.29 308.56 323.26 312.46 324.23 314.45C325.21 316.45 326.18 317.54 327.15 317.66C328.13 317.79 329.1 316.93 330.07 315.18C331.05 313.43 332.02 309.59 332.99 307.15C333.97 304.72 334.99 302.04 335.91 300.58C336.84 299.12 337.69 298.52 338.54 298.39C339.39 298.27 340.12 299.08 341.02 299.85C341.92 300.63 342.97 302.34 343.94 303.07C344.91 303.8 345.93 304.23 346.86 304.23C347.79 304.23 348.52 303.75 349.53 303.07C350.54 302.38 351.87 300.8 352.92 300.15C353.97 299.49 354.87 299 355.84 299.12C356.81 299.25 357.79 299.98 358.76 300.88C359.73 301.78 360.58 303.6 361.68 304.53C362.77 305.45 364.11 306.42 365.33 306.42C366.55 306.42 367.76 305.33 368.98 304.53C370.19 303.72 371.46 302.29 372.63 301.61C373.8 300.92 374.89 300.44 375.99 300.44C377.08 300.44 378.05 300.92 379.2 301.61C380.34 302.29 381.63 303.8 382.85 304.53C384.06 305.26 385.28 305.86 386.5 305.99C387.71 306.11 388.93 305.67 390.15 305.26C391.36 304.84 392.65 303.92 393.8 303.5C394.94 303.09 395.79 302.8 397.01 302.77C398.22 302.75 399.68 303.07 401.09 303.36C402.51 303.65 403.77 304.06 405.47 304.53C407.18 304.99 409.37 305.89 411.31 306.13C413.26 306.37 415.21 306.08 417.15 305.99C419.1 305.89 421.05 305.57 422.99 305.55C424.94 305.52 426.89 305.69 428.83 305.84C430.78 305.99 432.97 306.37 434.67 306.42C436.37 306.47 437.64 306.3 439.05 306.13C440.46 305.96 442.46 305.52 443.14 305.4" stroke="#ff00ff"/>
</g>
<rect x="262.6" y="208.4" width="180.8" height="180.9" fill="none" stroke="#5a5a5a" stroke-width="0.8"/>
<text x="260.4" y="212.3" text-anchor="end">-0.9</text>
<text x="260.4" y="242.45" text-anchor="end">-0.92</text>
<text x="260.4" y="272.6" text-anchor="end">-0.94</text>
<text x="260.4" y="302.75" text-anchor="end">-0.96</text>
<text x="260.4" y="332.9" text-anchor="end">-0.98</text>
<text x="260.4" y="363.05" text-anchor="end">-1</text>
<text x="260.4" y="393.2" text-anchor="end">-1.02</text>
<text font-size="10.95px" transform="translate(231 298.95) rotate(-90)" text-anchor="middle">Interaction energy (eV/pyr)</text>
</g>
<g id="plot-f">
<path d="M489.6 209h4.8M489.6 231.62h2.4M489.6 254.25h4.8M489.6 276.88h2.4M489.6 299.5h4.8M489.6 322.12h2.4M489.6 344.75h4.8M489.6 367.38h2.4M489.6 390h4.8M489.6 390v-4.8M509.73 390v-2.4M529.87 390v-2.4M550 390v-4.8M570.13 390v-2.4M590.27 390v-2.4M610.4 390v-4.8M630.53 390v-2.4M650.67 390v-2.4M670.8 390v-4.8" stroke="#6a6a6a" stroke-width="0.9" fill="none"/>
<g clip-path="url(#pcf)" fill="none" stroke-width="1.05" stroke-linejoin="round">
<path d="M490.11 309.64C490.96 309.34 493.52 308.35 495.22 307.88C496.92 307.42 498.75 307.03 500.33 306.86C501.91 306.69 503.25 306.76 504.71 306.86C506.17 306.96 507.51 307.06 509.09 307.45C510.67 307.83 512.49 308.64 514.2 309.2C515.9 309.76 517.6 310.36 519.31 310.8C521.01 311.24 522.59 311.58 524.42 311.82C526.24 312.07 528.31 312.34 530.26 312.26C532.2 312.19 534.15 311.82 536.09 311.39C538.04 310.95 540.11 310.15 541.93 309.64C543.76 309.12 545.46 308.61 547.04 308.32C548.63 308.03 549.96 307.91 551.42 307.88C552.88 307.86 554.34 307.93 555.8 308.18C557.26 308.42 558.72 308.73 560.18 309.34C561.64 309.95 563.1 310.92 564.56 311.82C566.02 312.73 567.34 313.77 568.94 314.74C570.54 315.72 572.42 316.76 574.16 317.66C575.9 318.56 577.78 319.46 579.38 320.15C580.98 320.83 582.3 321.36 583.76 321.75C585.22 322.14 586.68 322.31 588.14 322.48C589.6 322.65 591.06 322.8 592.52 322.77C593.98 322.75 595.44 322.58 596.9 322.34C598.36 322.09 599.82 321.78 601.28 321.31C602.74 320.85 604.2 320.17 605.66 319.56C607.12 318.95 608.58 318.25 610.04 317.66C611.5 317.08 612.96 316.55 614.42 316.06C615.88 315.57 617.34 315.09 618.8 314.74C620.26 314.4 621.72 314.21 623.18 314.01C624.64 313.82 626.09 313.63 627.55 313.58C629.01 313.53 630.47 313.58 631.93 313.72C633.39 313.87 634.85 314.16 636.31 314.45C637.77 314.74 639.23 315.16 640.69 315.47C642.15 315.79 643.61 316.11 645.07 316.35C646.53 316.59 647.99 316.79 649.45 316.93C650.91 317.08 652.37 317.18 653.83 317.23C655.29 317.27 656.75 317.27 658.21 317.23C659.67 317.18 661.13 317.06 662.59 316.93C664.05 316.81 665.63 316.62 666.97 316.5C668.31 316.37 670.01 316.25 670.62 316.2" stroke="#ffa51e"/>
<path d="M490.11 312.85C490.96 312.99 493.52 313.45 495.22 313.72C496.92 313.99 498.75 314.33 500.33 314.45C501.91 314.57 503.25 314.57 504.71 314.45C506.17 314.33 507.51 314.21 509.09 313.72C510.67 313.24 512.49 312.19 514.2 311.53C515.9 310.88 517.73 310.15 519.31 309.78C520.89 309.42 522.35 309.34 523.69 309.34C525.02 309.34 526 309.37 527.34 309.78C528.67 310.19 530.26 310.92 531.72 311.82C533.18 312.73 534.51 313.97 536.09 315.18C537.68 316.4 539.62 318.05 541.2 319.12C542.79 320.19 544.25 321.05 545.58 321.61C546.92 322.17 548.02 322.48 549.23 322.48C550.45 322.48 551.55 322.41 552.88 321.61C554.22 320.8 555.8 319.54 557.26 317.66C558.72 315.79 560.18 313.04 561.64 310.36C563.1 307.69 564.56 304.53 566.02 301.61C567.48 298.69 568.98 295.34 570.4 292.85C571.82 290.35 573.27 288.35 574.53 286.64C575.78 284.94 576.75 283.83 577.92 282.63C579.09 281.42 580.35 280.1 581.57 279.42C582.79 278.73 584 278.37 585.22 278.54C586.44 278.71 587.65 279.39 588.87 280.44C590.09 281.48 591.18 282.87 592.52 284.82C593.86 286.76 595.44 289.44 596.9 292.12C598.36 294.79 599.82 298.08 601.28 300.88C602.74 303.67 604.2 306.59 605.66 308.91C607.12 311.22 608.58 313.16 610.04 314.74C611.5 316.33 612.96 317.49 614.42 318.39C615.88 319.29 617.34 319.81 618.8 320.15C620.26 320.49 621.72 320.54 623.18 320.44C624.64 320.34 626.09 320.07 627.55 319.56C629.01 319.05 630.47 318.22 631.93 317.37C633.39 316.52 634.85 315.33 636.31 314.45C637.77 313.58 639.23 312.7 640.69 312.12C642.15 311.53 643.61 311.17 645.07 310.95C646.53 310.73 647.99 310.66 649.45 310.8C650.91 310.95 652.37 311.24 653.83 311.82C655.29 312.41 656.75 313.38 658.21 314.31C659.67 315.23 661.13 316.33 662.59 317.37C664.05 318.42 665.63 319.68 666.97 320.58C668.31 321.48 670.01 322.41 670.62 322.77" stroke="#2a2a2a"/>
<path d="M490.11 296.5C490.84 296.86 493.03 297.47 494.49 298.69C495.95 299.9 497.41 301.85 498.87 303.8C500.33 305.74 501.79 308.05 503.25 310.36C504.71 312.68 506.17 315.64 507.63 317.66C509.09 319.68 510.67 321.44 512.01 322.48C513.35 323.53 514.44 323.8 515.66 323.94C516.87 324.09 517.97 324.28 519.31 323.36C520.64 322.43 522.23 320.44 523.69 318.39C525.15 316.35 526.61 313.77 528.07 311.09C529.53 308.42 530.99 305.01 532.45 302.34C533.91 299.66 535.36 297.1 536.82 295.04C538.28 292.97 539.74 291.19 541.2 289.93C542.66 288.66 544.25 287.86 545.58 287.45C546.92 287.03 548.02 287.15 549.23 287.45C550.45 287.74 551.67 288.3 552.88 289.2C554.1 290.1 555.19 290.9 556.53 292.85C557.87 294.79 559.57 298.08 560.91 300.88C562.25 303.67 563.35 306.23 564.56 309.64C565.78 313.04 566.87 317.18 568.21 321.31C569.55 325.45 571.46 331.41 572.59 334.45C573.72 337.49 574.11 337.62 575 339.56C575.89 341.51 576.82 343.94 577.92 346.13C579.01 348.32 580.3 351.12 581.57 352.7C582.83 354.28 584.17 355.38 585.51 355.62C586.85 355.86 588.19 355.5 589.6 354.16C591.01 352.82 592.52 350.39 593.98 347.59C595.44 344.79 596.9 341.02 598.36 337.37C599.82 333.72 601.28 329.34 602.74 325.69C604.2 322.04 605.66 318.64 607.12 315.47C608.58 312.31 610.04 309.15 611.5 306.72C612.96 304.28 614.42 302.34 615.88 300.88C617.34 299.42 618.8 298.49 620.26 297.96C621.72 297.42 623.18 297.37 624.64 297.66C626.09 297.96 627.55 298.73 629.01 299.71C630.47 300.68 631.93 302.09 633.39 303.5C634.85 304.91 636.31 306.62 637.77 308.18C639.23 309.73 640.69 311.51 642.15 312.85C643.61 314.18 645.07 315.47 646.53 316.2C647.99 316.93 649.45 317.3 650.91 317.23C652.37 317.15 653.83 316.55 655.29 315.77C656.75 314.99 658.21 313.7 659.67 312.55C661.13 311.41 662.59 310.07 664.05 308.91C665.51 307.74 667.34 306.35 668.43 305.55C669.53 304.74 670.26 304.33 670.62 304.09" stroke="#ff00ff"/>
</g>
<rect x="489.6" y="209" width="181.2" height="181" fill="none" stroke="#6a6a6a" stroke-width="0.9"/>
<text x="487.7" y="212.9" text-anchor="end">-0.94</text>
<text x="487.7" y="258.15" text-anchor="end">-0.95</text>
<text x="487.7" y="303.4" text-anchor="end">-0.96</text>
<text x="487.7" y="348.65" text-anchor="end">-0.97</text>
<text x="487.7" y="393.9" text-anchor="end">-0.98</text>
<text font-size="10.95px" transform="translate(458 299.3) rotate(-90)" text-anchor="middle">Interaction energy (eV/pyr)</text>
</g>
<g id="plot-h">
<path d="M259.8 415.8h4.8M259.8 430.93h2.4M259.8 446.05h4.8M259.8 461.18h2.4M259.8 476.3h4.8M259.8 491.43h2.4M259.8 506.55h4.8M259.8 521.67h2.4M259.8 536.8h4.8M259.8 551.92h2.4M259.8 567.05h4.8M259.8 582.17h2.4M259.8 597.3h4.8M259.8 597.3v-4.8M274.94 597.3v-2.4M290.08 597.3v-4.8M305.23 597.3v-2.4M320.37 597.3v-4.8M335.51 597.3v-2.4M350.65 597.3v-4.8M365.79 597.3v-2.4M380.93 597.3v-4.8M396.07 597.3v-2.4M411.22 597.3v-4.8M426.36 597.3v-2.4M441.5 597.3v-4.8" stroke="#7a7a7a" stroke-width="0.9" fill="none"/>
<g clip-path="url(#pch)" fill="none" stroke-width="1.05" stroke-linejoin="round">
<path d="M260.11 552.34C260.35 550.88 261.08 546.13 261.57 543.58C262.06 541.02 262.54 538.59 263.03 537.01C263.52 535.43 263.88 534.45 264.49 534.09C265.1 533.72 265.95 534.57 266.68 534.82C267.41 535.06 268.14 535.67 268.87 535.55C269.6 535.43 270.21 534.21 271.06 534.09C271.91 533.97 273 534.82 273.98 534.82C274.95 534.82 275.92 534.33 276.9 534.09C277.87 533.84 278.97 533.11 279.82 533.36C280.67 533.6 281.28 535.3 282.01 535.55C282.74 535.79 283.1 534.99 284.2 534.82C285.29 534.65 286.87 534.4 288.58 534.53C290.28 534.65 292.71 535.55 294.42 535.55C296.12 535.55 297.09 534.65 298.8 534.53C300.5 534.4 302.69 534.89 304.64 534.82C306.58 534.74 309.01 533.89 310.47 534.09C311.93 534.28 312.42 535.74 313.39 535.99C314.37 536.23 315.34 535.69 316.31 535.55C317.29 535.4 318.26 534.99 319.23 535.11C320.21 535.23 321.18 535.84 322.15 536.28C323.13 536.72 324.1 537.45 325.07 537.74C326.05 538.03 327.02 538.15 327.99 538.03C328.97 537.91 329.7 537.3 330.91 537.01C332.13 536.72 333.59 536.33 335.29 536.28C337 536.23 339.57 536.61 341.13 536.72C342.69 536.82 342.57 536.81 344.67 536.93C346.78 537.06 351.39 537.02 353.76 537.45C356.13 537.87 357.17 539.32 358.87 539.49C360.57 539.66 362.15 538.76 363.98 538.47C365.8 538.18 368.11 537.86 369.82 537.74C371.52 537.62 372.25 537.64 374.2 537.74C376.14 537.83 378.58 538.13 381.5 538.32C384.42 538.52 388.07 538.93 391.72 538.91C395.36 538.88 399.5 538.18 403.39 538.18C407.29 538.18 412.15 538.61 415.07 538.91C417.99 539.2 418.48 539.76 420.91 539.93C423.35 540.1 427.24 539.81 429.67 539.93C432.1 540.05 433.61 540.63 435.51 540.66C437.41 540.68 440.13 540.17 441.06 540.07" stroke="#ffa51e"/>
<path d="M260.11 581.53C260.28 579.34 260.77 573.5 261.13 568.39C261.5 563.28 261.91 556.23 262.3 550.88C262.69 545.52 263.1 539.81 263.47 536.28C263.83 532.75 264.15 530.44 264.49 529.71C264.83 528.98 265.1 530.56 265.51 531.9C265.92 533.24 266.48 536.4 266.97 537.74C267.46 539.08 267.99 539.93 268.43 539.93C268.87 539.93 269.21 539.08 269.6 537.74C269.99 536.4 270.38 533.36 270.77 531.9C271.16 530.44 271.52 528.98 271.93 528.98C272.35 528.98 272.79 530.8 273.25 531.9C273.71 532.99 274.1 535.06 274.71 535.55C275.32 536.03 276.17 535.3 276.9 534.82C277.63 534.33 278.36 533.16 279.09 532.63C279.82 532.09 280.55 531.48 281.28 531.61C282.01 531.73 282.62 532.82 283.47 533.36C284.32 533.89 285.29 534.7 286.39 534.82C287.48 534.94 288.82 533.97 290.04 534.09C291.25 534.21 292.47 535.38 293.69 535.55C294.9 535.72 296 535.4 297.34 535.11C298.67 534.82 300.26 533.89 301.72 533.8C303.18 533.7 304.64 534.48 306.09 534.53C307.55 534.57 309.26 533.99 310.47 534.09C311.69 534.18 312.42 535.23 313.39 535.11C314.37 534.99 315.46 533.41 316.31 533.36C317.17 533.31 317.77 533.97 318.5 534.82C319.23 535.67 320.04 537.98 320.69 538.47C321.35 538.95 321.91 538.83 322.45 537.74C322.98 536.64 323.35 533.55 323.91 531.9C324.46 530.24 325.24 528.18 325.8 527.81C326.36 527.45 326.78 528.66 327.26 529.71C327.75 530.75 328.24 532.94 328.72 534.09C329.21 535.23 329.45 536.25 330.18 536.57C330.91 536.89 332.01 536.16 333.1 535.99C334.2 535.82 335.54 535.69 336.75 535.55C337.97 535.4 339.11 534.94 340.4 535.11C341.7 535.28 342.3 536.25 344.53 536.57C346.75 536.89 351.25 536.62 353.76 537.01C356.27 537.4 357.77 538.78 359.6 538.91C361.42 539.03 363.37 538.22 364.71 537.74C366.05 537.25 366.65 536.11 367.63 535.99C368.6 535.86 369.45 536.76 370.55 537.01C371.64 537.25 372.37 537.27 374.2 537.45C376.02 537.62 378.58 537.83 381.5 538.03C384.42 538.22 388.07 538.66 391.72 538.61C395.36 538.56 399.5 537.76 403.39 537.74C407.29 537.71 411.18 538.27 415.07 538.47C418.97 538.66 423.35 538.66 426.75 538.91C430.16 539.15 433.13 539.81 435.51 539.93C437.9 540.05 440.13 539.68 441.06 539.64" stroke="#2a2a2a"/>
<path d="M260.11 534.82C260.47 534.09 261.57 531.78 262.3 530.44C263.03 529.1 263.81 527.52 264.49 526.79C265.17 526.06 265.78 525.82 266.39 526.06C267 526.3 267.48 527.15 268.14 528.25C268.8 529.34 269.6 531.34 270.33 532.63C271.06 533.92 271.79 535.5 272.52 535.99C273.25 536.47 273.98 535.99 274.71 535.55C275.44 535.11 276.17 533.84 276.9 533.36C277.63 532.87 278.24 532.63 279.09 532.63C279.94 532.63 280.91 533.11 282.01 533.36C283.1 533.6 284.32 534.09 285.66 534.09C287 534.09 288.58 533.36 290.04 533.36C291.5 533.36 292.96 534.04 294.42 534.09C295.88 534.14 297.58 533.82 298.8 533.65C300.01 533.48 300.5 532.99 301.72 533.07C302.93 533.14 304.64 534.09 306.09 534.09C307.55 534.09 309.26 532.94 310.47 533.07C311.69 533.19 312.42 534.65 313.39 534.82C314.37 534.99 315.46 534.62 316.31 534.09C317.17 533.55 317.9 532.02 318.5 531.61C319.11 531.19 319.48 531.07 319.96 531.61C320.45 532.14 320.86 533.43 321.42 534.82C321.98 536.2 322.71 538.52 323.32 539.93C323.93 541.34 324.54 542.8 325.07 543.28C325.61 543.77 326.05 543.41 326.53 542.85C327.02 542.29 327.46 541.02 327.99 539.93C328.53 538.83 329.01 537.01 329.74 536.28C330.47 535.55 331.2 535.6 332.37 535.55C333.54 535.5 335.29 535.82 336.75 535.99C338.21 536.16 339.81 536.56 341.13 536.57C342.45 536.58 342.81 536.06 344.67 536.06C346.53 536.06 349.81 536.53 352.3 536.57C354.79 536.61 357.17 536.25 359.6 536.28C362.03 536.3 364.22 536.72 366.9 536.72C369.57 536.72 373.22 536.16 375.66 536.28C378.09 536.4 378.82 537.15 381.5 537.45C384.17 537.74 388.07 538.05 391.72 538.03C395.36 538 399.5 537.35 403.39 537.3C407.29 537.25 411.18 537.59 415.07 537.74C418.97 537.88 423.35 538.03 426.75 538.18C430.16 538.32 433.13 538.44 435.51 538.61C437.9 538.78 440.13 539.1 441.06 539.2" stroke="#ff00ff"/>
</g>
<rect x="259.8" y="415.8" width="181.7" height="181.5" fill="none" stroke="#7a7a7a" stroke-width="0.9"/>
<text x="258.2" y="419.7" text-anchor="end">-0.9</text>
<text x="258.2" y="449.95" text-anchor="end">-0.92</text>
<text x="258.2" y="480.2" text-anchor="end">-0.94</text>
<text x="258.2" y="510.45" text-anchor="end">-0.96</text>
<text x="258.2" y="540.7" text-anchor="end">-0.98</text>
<text x="258.2" y="570.95" text-anchor="end">-1</text>
<text x="258.2" y="601.2" text-anchor="end">-1.02</text>
<text font-size="10.95px" transform="translate(228.2 506.95) rotate(-90)" text-anchor="middle">Interaction energy (eV/pyr)</text>
</g>
<g id="plot-i">
<path d="M489.3 416h4.8M489.3 425.06h2.4M489.3 434.13h2.4M489.3 443.19h2.4M489.3 452.26h2.4M489.3 461.32h2.4M489.3 470.39h2.4M489.3 479.45h2.4M489.3 488.52h2.4M489.3 497.58h2.4M489.3 506.65h4.8M489.3 515.71h2.4M489.3 524.78h2.4M489.3 533.85h2.4M489.3 542.91h2.4M489.3 551.97h2.4M489.3 561.04h2.4M489.3 570.11h2.4M489.3 579.17h2.4M489.3 588.23h2.4M489.3 597.3h4.8M489.3 597.3v-4.8M509.43 597.3v-2.4M529.57 597.3v-2.4M549.7 597.3v-4.8M569.83 597.3v-2.4M589.97 597.3v-2.4M610.1 597.3v-4.8M630.23 597.3v-2.4M650.37 597.3v-2.4M670.5 597.3v-4.8" stroke="#6a6a6a" stroke-width="0.9" fill="none"/>
<g clip-path="url(#pci)" fill="none" stroke-width="1.05" stroke-linejoin="round">
<path d="M489.38 501.75L494.49 497.96L499.6 496.64L503.98 496.64L509.09 494.74L514.2 492.55L519.31 494.31L524.42 496.2L529.53 496.5L534.64 494.31L539.74 493.28L544.85 498.39L549.96 503.21L554.78 501.31L559.45 497.66L564.56 496.93L569.67 502.04L574.78 509.34L579.38 513.43L584.49 512.99L589.6 514.45L594.71 515.91L599.82 515.62L604.93 509.34L610.04 504.23L615.15 503.21L620.26 504.23L625.36 504.53L630.47 503.5L635.15 505.4L639.96 508.61L645.07 511.82L650.18 509.78L655.29 507.15L660.4 506.42L665.51 508.91L670.62 511.97" stroke="#ffa51e"/>
<path d="M489.38 495.91L493.76 490.36L498.87 487.15L503.25 488.91L509.09 494.31L514.2 495.18L519.31 494.31L524.42 495.47L529.53 493.28L534.64 490.07L539.74 491.39L544.85 496.2L549.23 495.47L554.34 488.61L559.45 485.99L564.56 498.39L569.67 517.37L574.34 518.1L580.11 486.72L584.93 458.25L589.89 454.31L594.71 475.04L599.82 496.93L604.93 503.94L610.04 501.02L614.71 499.85L619.96 503.5L625.36 504.23L630.47 498.39L635.15 495.18L639.96 499.12L645.07 503.5L650.18 503.8L655.29 498.69L660.4 499.12L665.51 504.23L670.62 508.91" stroke="#2a2a2a"/>
<path d="M489.38 488.91L494.49 492.55L499.6 490.36L503.98 485.26L509.09 485.26L514.2 486.72L519.31 490.36L524.42 494.31L529.53 492.55L534.64 487.01L539.31 487.01L544.85 494.01L549.96 499.56L554.34 497.66L559.45 486.72L564.56 474.31L569.67 476.79L574.78 495.47L580.11 523.21L584.93 544.09L589.6 544.09L594.71 527.59L599.82 508.61L604.93 496.64L610.04 496.5L615.15 497.23L620.26 496.93L625.36 495.91L630.47 496.5L635.15 499.56L639.96 502.48L645.07 501.31L650.18 499.12L655.29 498.39L660.4 499.85L665.51 503.07L670.62 503.94" stroke="#ff00ff"/>
</g>
<rect x="489.3" y="416" width="181.2" height="181.3" fill="none" stroke="#6a6a6a" stroke-width="0.9"/>
<text x="486.2" y="419.9" text-anchor="end">-0.97</text>
<text x="486.2" y="510.55" text-anchor="end">-0.98</text>
<text x="486.2" y="601.2" text-anchor="end">-0.99</text>
<text font-size="10.95px" transform="translate(456.3 506.95) rotate(-90)" text-anchor="middle">Interaction energy (eV/pyr)</text>
</g>
<g id="plot-k">
<path d="M260 621h4.8M260 636.15h2.4M260 651.3h4.8M260 666.45h2.4M260 681.6h4.8M260 696.75h2.4M260 711.9h4.8M260 727.05h2.4M260 742.2h4.8M260 757.35h2.4M260 772.5h4.8M260 787.65h2.4M260 802.8h4.8M260 802.8v-4.8M275.15 802.8v-2.4M290.3 802.8v-4.8M305.45 802.8v-2.4M320.6 802.8v-4.8M335.75 802.8v-2.4M350.9 802.8v-4.8M366.05 802.8v-2.4M381.2 802.8v-4.8M396.35 802.8v-2.4M411.5 802.8v-4.8M426.65 802.8v-2.4M441.8 802.8v-4.8" stroke="#8a8a8a" stroke-width="1.1" fill="none"/>
<g clip-path="url(#pck)" fill="none" stroke-width="1.05" stroke-linejoin="round">
<path d="M260.26 739.42C260.47 738.2 261.11 733.7 261.57 732.12C262.03 730.54 262.42 730.05 263.03 729.93C263.64 729.81 264.37 731.27 265.22 731.39C266.07 731.51 266.92 730.95 268.14 730.66C269.36 730.36 270.82 729.68 272.52 729.64C274.22 729.59 276.41 730.1 278.36 730.36C280.3 730.63 280.79 731.24 284.2 731.24C287.6 731.24 293.93 730.46 298.8 730.36C303.66 730.27 309.62 730.56 313.39 730.66C317.17 730.75 319.72 730.66 321.42 730.95C323.13 731.24 322.88 731.78 323.61 732.41C324.34 733.04 325.07 734.74 325.8 734.74C326.53 734.74 327.26 732.97 327.99 732.41C328.72 731.85 328.97 731.48 330.18 731.39C331.4 731.29 333.22 731.65 335.29 731.82C337.36 732 341.03 732.3 342.59 732.41C344.15 732.52 342.57 732.55 344.67 732.48C346.78 732.41 352.49 731.89 355.22 731.97C357.95 732.06 358.87 732.65 361.06 732.99C363.25 733.33 364.95 733.8 368.36 734.01C371.76 734.23 377.12 734.31 381.5 734.31C385.88 734.31 390.5 733.92 394.64 734.01C398.77 734.11 402.42 734.7 406.31 734.89C410.21 735.09 414.1 735.13 417.99 735.18C421.89 735.23 425.78 735.06 429.67 735.18C433.56 735.3 439.4 735.79 441.35 735.91" stroke="#ffa51e"/>
<path d="M260.26 723.36C260.47 724.21 260.99 727.25 261.57 728.47C262.15 729.68 262.91 730.54 263.76 730.66C264.61 730.78 265.71 729.64 266.68 729.2C267.65 728.76 268.5 728.15 269.6 728.03C270.69 727.91 271.79 728.15 273.25 728.47C274.71 728.78 276.53 729.56 278.36 729.93C280.18 730.29 282.01 730.61 284.2 730.66C286.39 730.71 289.06 730.39 291.5 730.22C293.93 730.05 296.36 729.66 298.8 729.64C301.23 729.61 303.66 730.02 306.09 730.07C308.53 730.12 311.2 729.88 313.39 729.93C315.58 729.98 317.77 730.19 319.23 730.36C320.69 730.54 321.37 731.27 322.15 730.95C322.93 730.63 323.35 729.17 323.91 728.47C324.46 727.76 324.95 726.72 325.51 726.72C326.07 726.72 326.73 727.76 327.26 728.47C327.8 729.17 328.11 730.63 328.72 730.95C329.33 731.27 329.82 730.36 330.91 730.36C332.01 730.36 333.35 730.71 335.29 730.95C337.24 731.19 341.03 731.67 342.59 731.82C344.15 731.98 342.57 731.97 344.67 731.9C346.78 731.82 352.49 731.3 355.22 731.39C357.95 731.47 358.87 732.07 361.06 732.41C363.25 732.75 364.95 733.21 368.36 733.43C371.76 733.65 377.12 733.72 381.5 733.72C385.88 733.72 390.5 733.33 394.64 733.43C398.77 733.53 402.42 734.11 406.31 734.31C410.21 734.5 414.1 734.55 417.99 734.6C421.89 734.65 425.78 734.48 429.67 734.6C433.56 734.72 439.4 735.21 441.35 735.33" stroke="#2a2a2a"/>
<path d="M260.26 748.18C260.4 746.23 260.79 740.02 261.13 736.5C261.47 732.97 261.91 727.98 262.3 727.01C262.69 726.03 263.03 729.68 263.47 730.66C263.91 731.63 264.39 732.97 264.93 732.85C265.46 732.73 266.02 730.24 266.68 729.93C267.34 729.61 268.14 731.07 268.87 730.95C269.6 730.83 270.21 729.37 271.06 729.2C271.91 729.03 272.76 729.73 273.98 729.93C275.19 730.12 276.65 730.17 278.36 730.36C280.06 730.56 282.01 731.09 284.2 731.09C286.39 731.09 289.06 730.51 291.5 730.36C293.93 730.22 295.15 730.22 298.8 730.22C302.45 730.22 309.74 730.29 313.39 730.36C317.04 730.44 319.11 730.24 320.69 730.66C322.27 731.07 322.2 731.63 322.88 732.85C323.56 734.06 324.22 737.06 324.78 737.96C325.34 738.86 325.75 738.86 326.24 738.25C326.73 737.64 327.17 735.45 327.7 734.31C328.24 733.16 328.43 731.8 329.45 731.39C330.47 730.97 331.64 731.65 333.83 731.82C336.02 732 340.78 732.3 342.59 732.41C344.4 732.52 342.57 732.55 344.67 732.48C346.78 732.41 352.49 731.89 355.22 731.97C357.95 732.06 358.87 732.65 361.06 732.99C363.25 733.33 364.95 733.8 368.36 734.01C371.76 734.23 377.12 734.31 381.5 734.31C385.88 734.31 390.5 733.92 394.64 734.01C398.77 734.11 402.42 734.7 406.31 734.89C410.21 735.09 414.1 735.13 417.99 735.18C421.89 735.23 425.78 735.06 429.67 735.18C433.56 735.3 439.4 735.79 441.35 735.91" stroke="#ff00ff"/>
</g>
<rect x="260" y="621" width="181.8" height="181.8" fill="none" stroke="#8a8a8a" stroke-width="1.1"/>
<text x="258.1" y="624.9" text-anchor="end">-0.9</text>
<text x="258.1" y="655.2" text-anchor="end">-0.92</text>
<text x="258.1" y="685.5" text-anchor="end">-0.94</text>
<text x="258.1" y="715.8" text-anchor="end">-0.96</text>
<text x="258.1" y="746.1" text-anchor="end">-0.98</text>
<text x="258.1" y="776.4" text-anchor="end">-1</text>
<text x="258.1" y="806.7" text-anchor="end">-1.02</text>
<text x="260" y="813.4" text-anchor="middle">0</text>
<text x="290.3" y="813.4" text-anchor="middle">5</text>
<text x="320.6" y="813.4" text-anchor="middle">10</text>
<text x="350.9" y="813.4" text-anchor="middle">15</text>
<text x="381.2" y="813.4" text-anchor="middle">20</text>
<text x="411.5" y="813.4" text-anchor="middle">25</text>
<text x="441.8" y="813.4" text-anchor="middle">30</text>
<text x="351.4" y="824.7" text-anchor="middle">θ (degrees)</text>
<text font-size="10.95px" transform="translate(228.4 712.2) rotate(-90)" text-anchor="middle">Interaction energy (eV/pyr)</text>
</g>
<g id="plot-l">
<path d="M489.8 622.5h4.8M489.8 631.54h2.4M489.8 640.58h2.4M489.8 649.62h2.4M489.8 658.66h2.4M489.8 667.7h2.4M489.8 676.74h2.4M489.8 685.78h2.4M489.8 694.82h2.4M489.8 703.86h2.4M489.8 712.9h4.8M489.8 721.94h2.4M489.8 730.98h2.4M489.8 740.02h2.4M489.8 749.06h2.4M489.8 758.1h2.4M489.8 767.14h2.4M489.8 776.18h2.4M489.8 785.22h2.4M489.8 794.26h2.4M489.8 803.3h4.8M489.8 803.3v-4.8M509.98 803.3v-2.4M530.16 803.3v-2.4M550.33 803.3v-4.8M570.51 803.3v-2.4M590.69 803.3v-2.4M610.87 803.3v-4.8M631.04 803.3v-2.4M651.22 803.3v-2.4M671.4 803.3v-4.8" stroke="#6a6a6a" stroke-width="0.9" fill="none"/>
<g clip-path="url(#pcl)" fill="none" stroke-width="1.05" stroke-linejoin="round">
<path d="M490.11 734.23L494.93 735.55L499.6 731.61L504.71 735.55L509.82 734.82L514.93 734.09L520.04 738.18L525.15 732.77L530.26 733.5L535.07 732.63L540.18 732.34L545.15 734.23L550.26 733.36L555.07 735.55L560.18 733.36L565.29 733.8L570.4 740.36L575 734.53L580.4 739.64L585.51 752.04L590.33 755.99L595.44 746.93L600.55 736.42L605.36 738.91L610.47 741.39L615.58 740.36L620.69 742.55L625.8 744.31L630.77 743.72L635.88 745.47L640.69 746.2L645.8 746.2L650.91 746.2L656.02 746.64L661.13 745.91L666.24 745.77L671.35 746.5" stroke="#ffa51e"/>
<path d="M490.11 730.88L494.93 727.66L499.6 727.23L504.71 730.58L509.82 727.23L514.93 728.69L520.04 725.47L525.15 729.71L530.26 729.12L535.07 727.52L540.18 730.44L545.15 730.44L550.26 727.96L555.07 729.71L560.18 732.63L565.29 731.31L570.4 726.79L575 731.61L580.4 732.63L585.51 712.19L590.33 714.82L595.44 736.72L600.55 731.61L605.36 730.15L610.47 741.82L615.58 738.61L620.69 737.88L625.8 739.64L630.77 738.18L635.88 739.93L640.69 741.39L645.8 741.39L650.91 743.28L656.02 742.26L661.13 742.12L666.24 741.39L671.35 741.53" stroke="#2a2a2a"/>
<path d="M490.11 732.34L494.93 734.53L499.6 734.23L504.71 733.5L509.82 729.71L514.93 732.63L520.04 729.12L525.15 732.63L530.26 734.23L535.07 735.55L540.18 732.63L545.15 735.26L550.26 735.26L555.07 735.55L560.18 735.26L565.29 734.53L570.4 744.31L575 733.8L580.4 737.88L585.51 780.8L590.33 775.4L595.44 737.45L600.55 742.26L605.36 747.23L610.47 735.55L615.58 740.36L620.69 743.28L625.8 742.26L630.77 746.2L635.88 747.37L640.69 745.91L645.8 746.2L650.91 746.2L656.02 745.77L661.13 746.2L666.24 745.47L671.35 747.23" stroke="#ff00ff"/>
</g>
<rect x="489.8" y="622.5" width="181.6" height="180.8" fill="none" stroke="#6a6a6a" stroke-width="0.9"/>
<text x="487.2" y="626.4" text-anchor="end">-0.96</text>
<text x="487.2" y="716.8" text-anchor="end">-0.97</text>
<text x="487.2" y="807.2" text-anchor="end">-0.98</text>
<text x="489.8" y="813.9" text-anchor="middle">6</text>
<text x="550.33" y="813.9" text-anchor="middle">9</text>
<text x="610.87" y="813.9" text-anchor="middle">12</text>
<text x="671.4" y="813.9" text-anchor="middle">15</text>
<text x="581.1" y="825.2" text-anchor="middle">θ (degrees)</text>
<text font-size="10.95px" transform="translate(458.2 713.1) rotate(-90)" text-anchor="middle">Interaction energy (eV/pyr)</text>
</g>
<text x="1.6" y="19.0" font-size="11px">a)</text>
<text x="213.1" y="19.0" font-size="11px">b)</text>
<text x="451.2" y="19.2" font-size="11px">c)</text>
<text x="1.8" y="220.8" font-size="11px">d)</text>
<text x="212.9" y="220.9" font-size="11px">e)</text>
<text x="451.2" y="220.9" font-size="11px">f)</text>
<text x="-0.3" y="427.0" font-size="11px">g)</text>
<text x="213.1" y="424.7" font-size="11px">h)</text>
<text x="451.1" y="424.9" font-size="11px">i)</text>
<text x="2.0" y="635.2" font-size="11px">j)</text>
<text x="213.1" y="634.7" font-size="11px">k)</text>
<text x="451.1" y="634.7" font-size="11px">l)</text>
</g>
</svg></body></html>
